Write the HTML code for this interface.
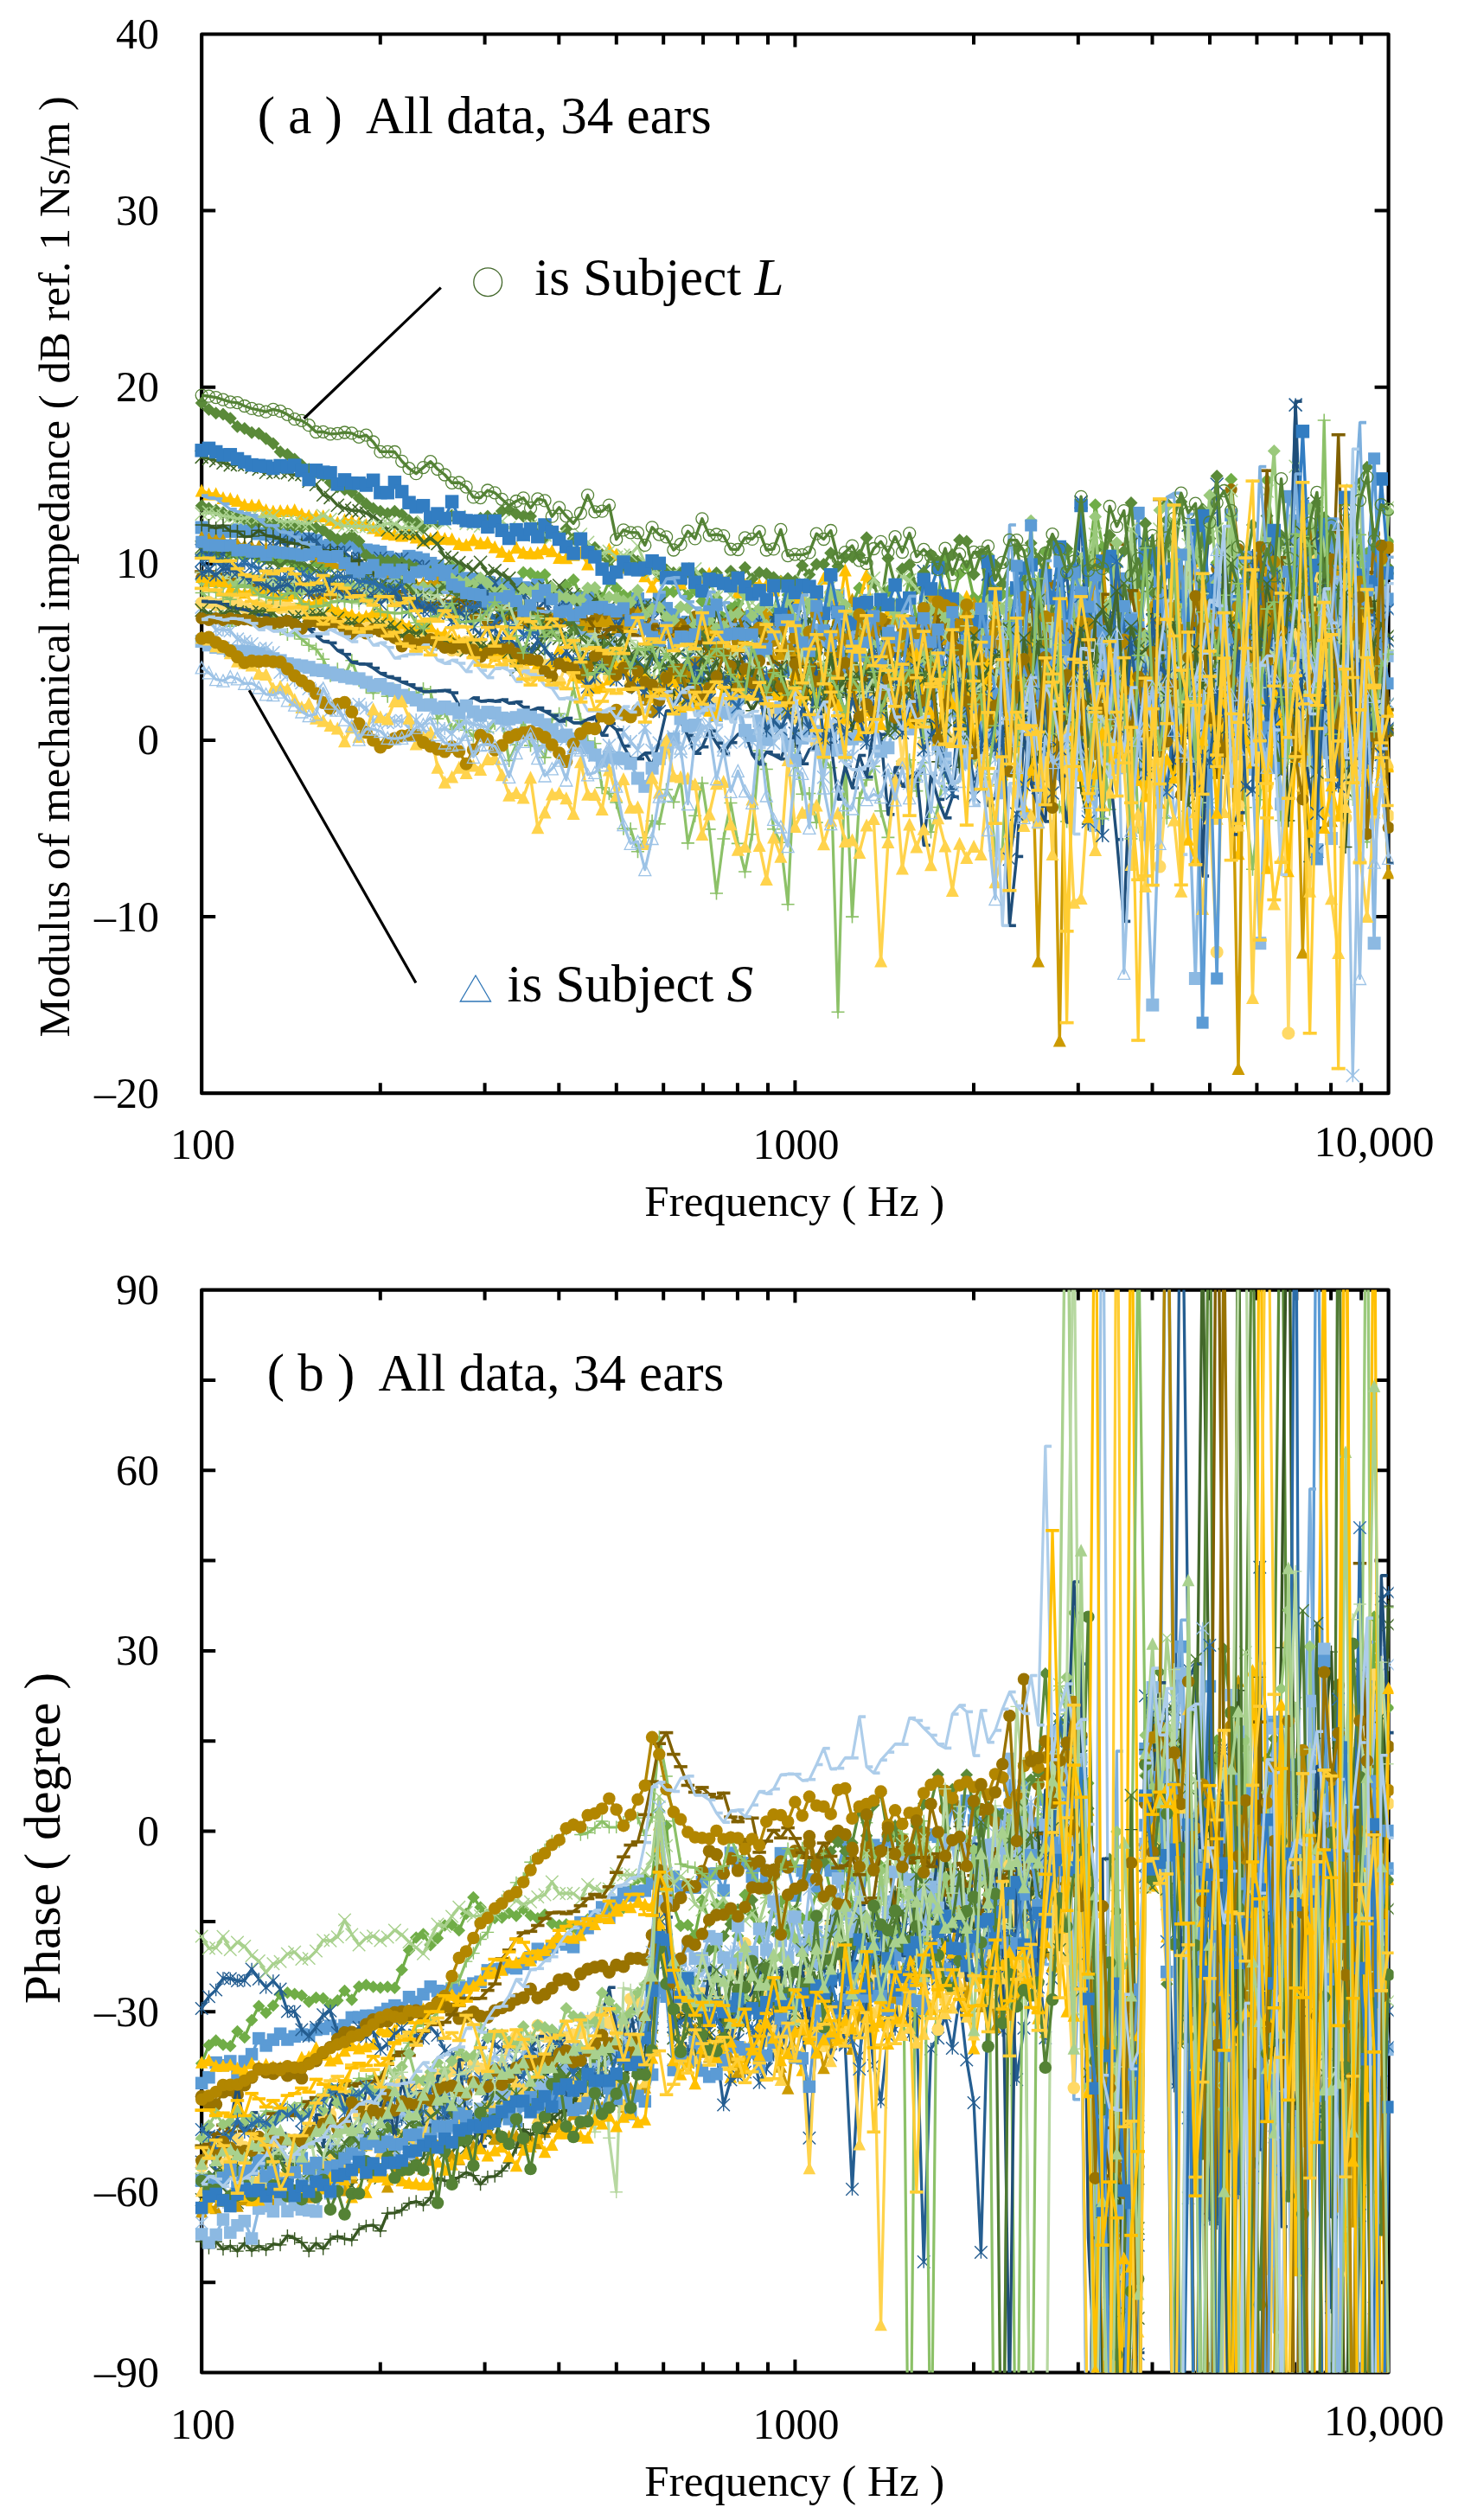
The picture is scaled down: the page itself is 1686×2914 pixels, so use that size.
<!DOCTYPE html>
<html><head><meta charset="utf-8"><title>Mechanical impedance and phase</title>
<style>
html,body{margin:0;padding:0;background:#fff}
svg{display:block}
text{font-family:"Liberation Serif","Times New Roman",serif;fill:#000}
</style></head><body>
<svg width="1686" height="2914" viewBox="0 0 1686 2914">
<defs>
<clipPath id="clipA"><rect x="224.2" y="0" width="1387.3999999999999" height="1304.2"/></clipPath>
<clipPath id="clipB"><rect x="224.2" y="1491.6" width="1387.3999999999999" height="1251.9"/></clipPath>
<marker id="a0" viewBox="-9.5 -9.5 19 19" markerWidth="19" markerHeight="19" refX="0" refY="0" markerUnits="userSpaceOnUse" orient="0"><path d="M0 -7.5L7.5 0L0 7.5L-7.5 0Z" fill="#70AD47"/></marker>
<marker id="a1" viewBox="-9.5 -9.5 19 19" markerWidth="19" markerHeight="19" refX="0" refY="0" markerUnits="userSpaceOnUse" orient="0"><rect x="-7.5" y="-7.5" width="15" height="15" fill="#5B9BD5"/></marker>
<marker id="a2" viewBox="-9.5 -9.5 19 19" markerWidth="19" markerHeight="19" refX="0" refY="0" markerUnits="userSpaceOnUse" orient="0"><path d="M0 -7.5L7.5 7.5L-7.5 7.5Z" fill="#FFC000"/></marker>
<marker id="a3" viewBox="-9.5 -9.5 19 19" markerWidth="19" markerHeight="19" refX="0" refY="0" markerUnits="userSpaceOnUse" orient="0"><path d="M-7.5 -7.5L7.5 7.5M-7.5 7.5L7.5 -7.5" stroke="#43682B" stroke-width="1.6" fill="none"/></marker>
<marker id="a4" viewBox="-9.5 -9.5 19 19" markerWidth="19" markerHeight="19" refX="0" refY="0" markerUnits="userSpaceOnUse" orient="0"><path d="M-7.5 -7.5L7.5 7.5M-7.5 7.5L7.5 -7.5M0 -7.5L0 7.5" stroke="#255E91" stroke-width="1.6" fill="none"/></marker>
<marker id="a5" viewBox="-9.0 -9.0 18 18" markerWidth="18" markerHeight="18" refX="0" refY="0" markerUnits="userSpaceOnUse" orient="0"><circle r="7.0" fill="#997300"/></marker>
<marker id="a6" viewBox="-9.5 -9.5 19 19" markerWidth="19" markerHeight="19" refX="0" refY="0" markerUnits="userSpaceOnUse" orient="0"><path d="M-7.5 0L7.5 0M0 -7.5L0 7.5" stroke="#8CC168" stroke-width="1.6" fill="none"/></marker>
<marker id="a7" viewBox="-9.5 -9.5 19 19" markerWidth="19" markerHeight="19" refX="0" refY="0" markerUnits="userSpaceOnUse" orient="0"><path d="M0 -7.5L7.5 0L0 7.5L-7.5 0Z" fill="#5A8A39"/></marker>
<marker id="a8" viewBox="-9.5 -9.5 19 19" markerWidth="19" markerHeight="19" refX="0" refY="0" markerUnits="userSpaceOnUse" orient="0"><path d="M0 -7.5L7.5 0L0 7.5L-7.5 0Z" fill="#5A8A39"/></marker>
<marker id="a9" viewBox="-9.5 -9.5 19 19" markerWidth="19" markerHeight="19" refX="0" refY="0" markerUnits="userSpaceOnUse" orient="0"><path d="M0 -7.5L7.5 7.5L-7.5 7.5Z" fill="#CC9A00"/></marker>
<marker id="a10" viewBox="-9.5 -9.5 19 19" markerWidth="19" markerHeight="19" refX="0" refY="0" markerUnits="userSpaceOnUse" orient="0"><path d="M-7.5 -7.5L7.5 7.5M-7.5 7.5L7.5 -7.5" stroke="#A9D18E" stroke-width="1.6" fill="none"/></marker>
<marker id="a11" viewBox="-9.5 -9.5 19 19" markerWidth="19" markerHeight="19" refX="0" refY="0" markerUnits="userSpaceOnUse" orient="0"><path d="M-7.5 -7.5L7.5 7.5M-7.5 7.5L7.5 -7.5M0 -7.5L0 7.5" stroke="#9DC3E6" stroke-width="1.6" fill="none"/></marker>
<marker id="a12" viewBox="-9.5 -9.5 19 19" markerWidth="19" markerHeight="19" refX="0" refY="0" markerUnits="userSpaceOnUse" orient="0"><circle r="7.5" fill="#FFD966"/></marker>
<marker id="a13" viewBox="-9.5 -9.5 19 19" markerWidth="19" markerHeight="19" refX="0" refY="0" markerUnits="userSpaceOnUse" orient="0"><path d="M-7.5 0L7.5 0M0 -7.5L0 7.5" stroke="#385723" stroke-width="1.6" fill="none"/></marker>
<marker id="a14" viewBox="-9.5 -9.5 19 19" markerWidth="19" markerHeight="19" refX="0" refY="0" markerUnits="userSpaceOnUse" orient="0"><path d="M0 0L7.5 0" stroke="#1F4E79" stroke-width="3.6" fill="none"/></marker>
<marker id="a15" viewBox="-9.5 -9.5 19 19" markerWidth="19" markerHeight="19" refX="0" refY="0" markerUnits="userSpaceOnUse" orient="0"><path d="M-8.0 0L8.0 0" stroke="#806000" stroke-width="3.6" fill="none"/></marker>
<marker id="a16" viewBox="-9.5 -9.5 19 19" markerWidth="19" markerHeight="19" refX="0" refY="0" markerUnits="userSpaceOnUse" orient="0"><path d="M0 -7.5L7.5 0L0 7.5L-7.5 0Z" fill="#9AC97B"/></marker>
<marker id="a17" viewBox="-9.75 -9.75 19.5 19.5" markerWidth="19.5" markerHeight="19.5" refX="0" refY="0" markerUnits="userSpaceOnUse" orient="0"><rect x="-7.75" y="-7.75" width="15.5" height="15.5" fill="#327DC2"/></marker>
<marker id="a18" viewBox="-9.5 -9.5 19 19" markerWidth="19" markerHeight="19" refX="0" refY="0" markerUnits="userSpaceOnUse" orient="0"><path d="M0 0L7.5 0" stroke="#7CAFDD" stroke-width="3.6" fill="none"/></marker>
<marker id="a19" viewBox="-9.5 -9.5 19 19" markerWidth="19" markerHeight="19" refX="0" refY="0" markerUnits="userSpaceOnUse" orient="0"><rect x="-7.5" y="-7.5" width="15" height="15" fill="#8CB9E2"/></marker>
<marker id="a20" viewBox="-9.5 -9.5 19 19" markerWidth="19" markerHeight="19" refX="0" refY="0" markerUnits="userSpaceOnUse" orient="0"><path d="M0 -7.5L7.5 7.5L-7.5 7.5Z" fill="#FFD34C"/></marker>
<marker id="a21" viewBox="-9.5 -9.5 19 19" markerWidth="19" markerHeight="19" refX="0" refY="0" markerUnits="userSpaceOnUse" orient="0"><path d="M-7.5 -7.5L7.5 7.5M-7.5 7.5L7.5 -7.5" stroke="#4E7932" stroke-width="1.6" fill="none"/></marker>
<marker id="a22" viewBox="-9.5 -9.5 19 19" markerWidth="19" markerHeight="19" refX="0" refY="0" markerUnits="userSpaceOnUse" orient="0"><path d="M-7.5 -7.5L7.5 7.5M-7.5 7.5L7.5 -7.5M0 -7.5L0 7.5" stroke="#2B6DA9" stroke-width="1.6" fill="none"/></marker>
<marker id="a23" viewBox="-9.5 -9.5 19 19" markerWidth="19" markerHeight="19" refX="0" refY="0" markerUnits="userSpaceOnUse" orient="0"><circle r="7.5" fill="#B28600"/></marker>
<marker id="a24" viewBox="-9.5 -9.5 19 19" markerWidth="19" markerHeight="19" refX="0" refY="0" markerUnits="userSpaceOnUse" orient="0"><path d="M-7.5 0L7.5 0M0 -7.5L0 7.5" stroke="#B7D8A1" stroke-width="1.6" fill="none"/></marker>
<marker id="a25" viewBox="-9.0 -9.0 18 18" markerWidth="18" markerHeight="18" refX="0" refY="0" markerUnits="userSpaceOnUse" orient="0"><rect x="-7.0" y="-7.0" width="14" height="14" fill="#5B9BD5"/></marker>
<marker id="a26" viewBox="-9.0 -9.0 18 18" markerWidth="18" markerHeight="18" refX="0" refY="0" markerUnits="userSpaceOnUse" orient="0"><path d="M0 -7.0L7.0 7.0L-7.0 7.0Z" fill="#FFC000"/></marker>
<marker id="a27" viewBox="-9.5 -9.5 19 19" markerWidth="19" markerHeight="19" refX="0" refY="0" markerUnits="userSpaceOnUse" orient="0"><path d="M-7.5 -7.5L7.5 7.5M-7.5 7.5L7.5 -7.5" stroke="#43682B" stroke-width="1.6" fill="none"/></marker>
<marker id="a28" viewBox="-9.5 -9.5 19 19" markerWidth="19" markerHeight="19" refX="0" refY="0" markerUnits="userSpaceOnUse" orient="0"><path d="M-7.5 -7.5L7.5 7.5M-7.5 7.5L7.5 -7.5M0 -7.5L0 7.5" stroke="#255E91" stroke-width="1.6" fill="none"/></marker>
<marker id="a29" viewBox="-9.0 -9.0 18 18" markerWidth="18" markerHeight="18" refX="0" refY="0" markerUnits="userSpaceOnUse" orient="0"><circle r="7.0" fill="#997300"/></marker>
<marker id="a30" viewBox="-9.0 -9.0 18 18" markerWidth="18" markerHeight="18" refX="0" refY="0" markerUnits="userSpaceOnUse" orient="0"><circle r="7.0" fill="none" stroke="#548235" stroke-width="1.3"/></marker>
<marker id="a31" viewBox="-9.5 -9.5 19 19" markerWidth="19" markerHeight="19" refX="0" refY="0" markerUnits="userSpaceOnUse" orient="0"><path d="M-7.5 0L7.5 0M0 -7.5L0 7.5" stroke="#8CC168" stroke-width="1.6" fill="none"/></marker>
<marker id="a32" viewBox="-9.5 -9.5 19 19" markerWidth="19" markerHeight="19" refX="0" refY="0" markerUnits="userSpaceOnUse" orient="0"><path d="M0 0L7.5 0" stroke="#ADCDEA" stroke-width="3.6" fill="none"/></marker>
<marker id="a33" viewBox="-9.0 -9.0 18 18" markerWidth="18" markerHeight="18" refX="0" refY="0" markerUnits="userSpaceOnUse" orient="0"><path d="M0 -7.0L7.0 7.0L-7.0 7.0Z" fill="#fff" fill-opacity="0" stroke="#9DC3E6" stroke-width="1.3"/></marker>
<marker id="a34" viewBox="-9.5 -9.5 19 19" markerWidth="19" markerHeight="19" refX="0" refY="0" markerUnits="userSpaceOnUse" orient="0"><path d="M-8.0 0L8.0 0" stroke="#FFCD33" stroke-width="3.6" fill="none"/></marker>
<marker id="a35" viewBox="-9.5 -9.5 19 19" markerWidth="19" markerHeight="19" refX="0" refY="0" markerUnits="userSpaceOnUse" orient="0"><path d="M-8.0 0L8.0 0" stroke="#FFCD33" stroke-width="3.6" fill="none"/></marker>
<marker id="b0" viewBox="-9.25 -9.25 18.5 18.5" markerWidth="18.5" markerHeight="18.5" refX="0" refY="0" markerUnits="userSpaceOnUse" orient="0"><path d="M-7.25 -7.25L7.25 7.25M-7.25 7.25L7.25 -7.25M0 -7.25L0 7.25" stroke="#255E91" stroke-width="1.4" fill="none"/></marker>
<marker id="b1" viewBox="-9.25 -9.25 18.5 18.5" markerWidth="18.5" markerHeight="18.5" refX="0" refY="0" markerUnits="userSpaceOnUse" orient="0"><path d="M0 -7.25L7.25 0L0 7.25L-7.25 0Z" fill="#70AD47"/></marker>
<marker id="b2" viewBox="-9.25 -9.25 18.5 18.5" markerWidth="18.5" markerHeight="18.5" refX="0" refY="0" markerUnits="userSpaceOnUse" orient="0"><rect x="-7.25" y="-7.25" width="14.5" height="14.5" fill="#5B9BD5"/></marker>
<marker id="b3" viewBox="-9.25 -9.25 18.5 18.5" markerWidth="18.5" markerHeight="18.5" refX="0" refY="0" markerUnits="userSpaceOnUse" orient="0"><path d="M0 -7.25L7.25 7.25L-7.25 7.25Z" fill="#FFC000"/></marker>
<marker id="b4" viewBox="-9.25 -9.25 18.5 18.5" markerWidth="18.5" markerHeight="18.5" refX="0" refY="0" markerUnits="userSpaceOnUse" orient="0"><path d="M-7.25 -7.25L7.25 7.25M-7.25 7.25L7.25 -7.25" stroke="#43682B" stroke-width="1.4" fill="none"/></marker>
<marker id="b5" viewBox="-9.25 -9.25 18.5 18.5" markerWidth="18.5" markerHeight="18.5" refX="0" refY="0" markerUnits="userSpaceOnUse" orient="0"><path d="M-7.25 -7.25L7.25 7.25M-7.25 7.25L7.25 -7.25M0 -7.25L0 7.25" stroke="#255E91" stroke-width="1.4" fill="none"/></marker>
<marker id="b6" viewBox="-9.5 -9.5 19 19" markerWidth="19" markerHeight="19" refX="0" refY="0" markerUnits="userSpaceOnUse" orient="0"><circle r="7.5" fill="#997300"/></marker>
<marker id="b7" viewBox="-9.25 -9.25 18.5 18.5" markerWidth="18.5" markerHeight="18.5" refX="0" refY="0" markerUnits="userSpaceOnUse" orient="0"><path d="M-7.25 0L7.25 0M0 -7.25L0 7.25" stroke="#8CC168" stroke-width="1.4" fill="none"/></marker>
<marker id="b8" viewBox="-9.25 -9.25 18.5 18.5" markerWidth="18.5" markerHeight="18.5" refX="0" refY="0" markerUnits="userSpaceOnUse" orient="0"><path d="M0 0L7.25 0" stroke="#7CAFDD" stroke-width="3.6" fill="none"/></marker>
<marker id="b9" viewBox="-9.25 -9.25 18.5 18.5" markerWidth="18.5" markerHeight="18.5" refX="0" refY="0" markerUnits="userSpaceOnUse" orient="0"><path d="M0 -7.25L7.25 0L0 7.25L-7.25 0Z" fill="#5A8A39"/></marker>
<marker id="b10" viewBox="-9.25 -9.25 18.5 18.5" markerWidth="18.5" markerHeight="18.5" refX="0" refY="0" markerUnits="userSpaceOnUse" orient="0"><path d="M0 -7.25L7.25 7.25L-7.25 7.25Z" fill="#CC9A00"/></marker>
<marker id="b11" viewBox="-9.25 -9.25 18.5 18.5" markerWidth="18.5" markerHeight="18.5" refX="0" refY="0" markerUnits="userSpaceOnUse" orient="0"><path d="M-7.25 -7.25L7.25 7.25M-7.25 7.25L7.25 -7.25" stroke="#A9D18E" stroke-width="1.4" fill="none"/></marker>
<marker id="b12" viewBox="-9.25 -9.25 18.5 18.5" markerWidth="18.5" markerHeight="18.5" refX="0" refY="0" markerUnits="userSpaceOnUse" orient="0"><path d="M-7.25 -7.25L7.25 7.25M-7.25 7.25L7.25 -7.25M0 -7.25L0 7.25" stroke="#9DC3E6" stroke-width="1.4" fill="none"/></marker>
<marker id="b13" viewBox="-9.25 -9.25 18.5 18.5" markerWidth="18.5" markerHeight="18.5" refX="0" refY="0" markerUnits="userSpaceOnUse" orient="0"><circle r="7.25" fill="#FFD966"/></marker>
<marker id="b14" viewBox="-9.25 -9.25 18.5 18.5" markerWidth="18.5" markerHeight="18.5" refX="0" refY="0" markerUnits="userSpaceOnUse" orient="0"><path d="M-7.25 0L7.25 0M0 -7.25L0 7.25" stroke="#385723" stroke-width="1.4" fill="none"/></marker>
<marker id="b15" viewBox="-9.25 -9.25 18.5 18.5" markerWidth="18.5" markerHeight="18.5" refX="0" refY="0" markerUnits="userSpaceOnUse" orient="0"><path d="M0 0L7.25 0" stroke="#1F4E79" stroke-width="3.6" fill="none"/></marker>
<marker id="b16" viewBox="-9.25 -9.25 18.5 18.5" markerWidth="18.5" markerHeight="18.5" refX="0" refY="0" markerUnits="userSpaceOnUse" orient="0"><path d="M-7.75 0L7.75 0" stroke="#806000" stroke-width="3.6" fill="none"/></marker>
<marker id="b17" viewBox="-9.25 -9.25 18.5 18.5" markerWidth="18.5" markerHeight="18.5" refX="0" refY="0" markerUnits="userSpaceOnUse" orient="0"><path d="M0 -7.25L7.25 0L0 7.25L-7.25 0Z" fill="#9AC97B"/></marker>
<marker id="b18" viewBox="-9.25 -9.25 18.5 18.5" markerWidth="18.5" markerHeight="18.5" refX="0" refY="0" markerUnits="userSpaceOnUse" orient="0"><rect x="-7.25" y="-7.25" width="14.5" height="14.5" fill="#8CB9E2"/></marker>
<marker id="b19" viewBox="-9.25 -9.25 18.5 18.5" markerWidth="18.5" markerHeight="18.5" refX="0" refY="0" markerUnits="userSpaceOnUse" orient="0"><path d="M0 -7.25L7.25 7.25L-7.25 7.25Z" fill="#FFD34C"/></marker>
<marker id="b20" viewBox="-9.25 -9.25 18.5 18.5" markerWidth="18.5" markerHeight="18.5" refX="0" refY="0" markerUnits="userSpaceOnUse" orient="0"><path d="M-7.25 -7.25L7.25 7.25M-7.25 7.25L7.25 -7.25" stroke="#4E7932" stroke-width="1.4" fill="none"/></marker>
<marker id="b21" viewBox="-9.25 -9.25 18.5 18.5" markerWidth="18.5" markerHeight="18.5" refX="0" refY="0" markerUnits="userSpaceOnUse" orient="0"><path d="M-7.25 -7.25L7.25 7.25M-7.25 7.25L7.25 -7.25M0 -7.25L0 7.25" stroke="#2B6DA9" stroke-width="1.4" fill="none"/></marker>
<marker id="b22" viewBox="-9.25 -9.25 18.5 18.5" markerWidth="18.5" markerHeight="18.5" refX="0" refY="0" markerUnits="userSpaceOnUse" orient="0"><circle r="7.25" fill="#B28600"/></marker>
<marker id="b23" viewBox="-9.25 -9.25 18.5 18.5" markerWidth="18.5" markerHeight="18.5" refX="0" refY="0" markerUnits="userSpaceOnUse" orient="0"><path d="M-7.25 0L7.25 0M0 -7.25L0 7.25" stroke="#B7D8A1" stroke-width="1.4" fill="none"/></marker>
<marker id="b24" viewBox="-9.25 -9.25 18.5 18.5" markerWidth="18.5" markerHeight="18.5" refX="0" refY="0" markerUnits="userSpaceOnUse" orient="0"><rect x="-7.25" y="-7.25" width="14.5" height="14.5" fill="#5B9BD5"/></marker>
<marker id="b25" viewBox="-9.25 -9.25 18.5 18.5" markerWidth="18.5" markerHeight="18.5" refX="0" refY="0" markerUnits="userSpaceOnUse" orient="0"><path d="M0 -7.25L7.25 7.25L-7.25 7.25Z" fill="#FFC000"/></marker>
<marker id="b26" viewBox="-9.25 -9.25 18.5 18.5" markerWidth="18.5" markerHeight="18.5" refX="0" refY="0" markerUnits="userSpaceOnUse" orient="0"><circle r="7.25" fill="#548235"/></marker>
<marker id="b27" viewBox="-9.25 -9.25 18.5 18.5" markerWidth="18.5" markerHeight="18.5" refX="0" refY="0" markerUnits="userSpaceOnUse" orient="0"><circle r="7.25" fill="#997300"/></marker>
<marker id="b28" viewBox="-9.25 -9.25 18.5 18.5" markerWidth="18.5" markerHeight="18.5" refX="0" refY="0" markerUnits="userSpaceOnUse" orient="0"><rect x="-7.25" y="-7.25" width="14.5" height="14.5" fill="#327DC2"/></marker>
<marker id="b29" viewBox="-9.25 -9.25 18.5 18.5" markerWidth="18.5" markerHeight="18.5" refX="0" refY="0" markerUnits="userSpaceOnUse" orient="0"><path d="M0 -7.25L7.25 7.25L-7.25 7.25Z" fill="#A9D18E"/></marker>
<marker id="b30" viewBox="-9.25 -9.25 18.5 18.5" markerWidth="18.5" markerHeight="18.5" refX="0" refY="0" markerUnits="userSpaceOnUse" orient="0"><path d="M0 0L7.25 0" stroke="#ADCDEA" stroke-width="3.6" fill="none"/></marker>
<marker id="b31" viewBox="-9.25 -9.25 18.5 18.5" markerWidth="18.5" markerHeight="18.5" refX="0" refY="0" markerUnits="userSpaceOnUse" orient="0"><path d="M-7.75 0L7.75 0" stroke="#FFCD33" stroke-width="3.6" fill="none"/></marker>
<marker id="b32" viewBox="-9.25 -9.25 18.5 18.5" markerWidth="18.5" markerHeight="18.5" refX="0" refY="0" markerUnits="userSpaceOnUse" orient="0"><path d="M-7.75 0L7.75 0" stroke="#FFC000" stroke-width="3.6" fill="none"/></marker>
</defs>
<rect width="1686" height="2914" fill="#fff"/>
<rect x="233.2" y="39.5" width="1372.3999999999999" height="1224.7" fill="none" stroke="#000" stroke-width="4.2" stroke-linejoin="round"/>
<path d="M439.8 1264.2v-12M439.8 39.5v12M560.6 1264.2v-12M560.6 39.5v12M646.3 1264.2v-12M646.3 39.5v12M712.8 1264.2v-12M712.8 39.5v12M767.2 1264.2v-12M767.2 39.5v12M813.1 1264.2v-12M813.1 39.5v12M852.9 1264.2v-12M852.9 39.5v12M888.0 1264.2v-12M888.0 39.5v12M919.4 1264.2v-15M919.4 39.5v15M1126.0 1264.2v-12M1126.0 39.5v12M1246.8 1264.2v-12M1246.8 39.5v12M1332.5 1264.2v-12M1332.5 39.5v12M1399.0 1264.2v-12M1399.0 39.5v12M1453.4 1264.2v-12M1453.4 39.5v12M1499.3 1264.2v-12M1499.3 39.5v12M1539.1 1264.2v-12M1539.1 39.5v12M1574.2 1264.2v-12M1574.2 39.5v12M233.2 243.6h16M1605.6 243.6h-16M233.2 447.7h16M1605.6 447.7h-16M233.2 651.9h16M1605.6 651.9h-16M233.2 856.0h16M1605.6 856.0h-16M233.2 1060.1h16M1605.6 1060.1h-16" stroke="#000" stroke-width="4" fill="none"/>
<rect x="233.2" y="1491.6" width="1372.3999999999999" height="1251.9" fill="none" stroke="#000" stroke-width="4.2" stroke-linejoin="round"/>
<path d="M439.8 2743.5v-12M439.8 1491.6v12M560.6 2743.5v-12M560.6 1491.6v12M646.3 2743.5v-12M646.3 1491.6v12M712.8 2743.5v-12M712.8 1491.6v12M767.2 2743.5v-12M767.2 1491.6v12M813.1 2743.5v-12M813.1 1491.6v12M852.9 2743.5v-12M852.9 1491.6v12M888.0 2743.5v-12M888.0 1491.6v12M919.4 2743.5v-15M919.4 1491.6v15M1126.0 2743.5v-12M1126.0 1491.6v12M1246.8 2743.5v-12M1246.8 1491.6v12M1332.5 2743.5v-12M1332.5 1491.6v12M1399.0 2743.5v-12M1399.0 1491.6v12M1453.4 2743.5v-12M1453.4 1491.6v12M1499.3 2743.5v-12M1499.3 1491.6v12M1539.1 2743.5v-12M1539.1 1491.6v12M1574.2 2743.5v-12M1574.2 1491.6v12M233.2 2639.2h16M1605.6 2639.2h-16M233.2 2534.8h16M1605.6 2534.8h-16M233.2 2430.5h16M1605.6 2430.5h-16M233.2 2326.2h16M1605.6 2326.2h-16M233.2 2221.9h16M1605.6 2221.9h-16M233.2 2117.6h16M1605.6 2117.6h-16M233.2 2013.2h16M1605.6 2013.2h-16M233.2 1908.9h16M1605.6 1908.9h-16M233.2 1804.6h16M1605.6 1804.6h-16M233.2 1700.2h16M1605.6 1700.2h-16M233.2 1595.9h16M1605.6 1595.9h-16" stroke="#000" stroke-width="4" fill="none"/>
<g clip-path="url(#clipA)">
<polyline points="233.2,642.3 241.5,641.1 249.7,644.2 258.0,650.8 266.3,641.1 274.5,640.7 282.8,644.5 291.1,639.3 299.3,646.1 307.6,645.4 315.9,644.8 324.1,650.4 332.4,648.0 340.7,652.3 348.9,655.8 357.2,658.6 365.5,650.1 373.7,654.2 382.0,654.9 390.3,652.5 398.5,645.4 406.8,658.1 415.1,658.7 423.4,659.4 431.6,651.6 439.9,658.5 448.2,658.7 456.4,658.9 464.7,661.3 473.0,651.4 481.2,651.6 489.5,651.0 497.8,651.2 506.0,666.0 514.3,658.2 522.6,655.0 530.8,659.0 539.1,677.3 547.4,685.8 555.6,690.3 563.9,682.2 572.2,680.0 580.4,675.1 588.7,672.7 597.0,683.8 605.2,662.1 613.5,663.0 621.8,666.7 630.0,664.5 638.3,693.1 646.6,686.5 654.8,677.3 663.1,670.6 671.4,688.7 679.6,685.7 687.9,684.1 696.2,691.4 704.4,672.1 712.7,680.2 721.0,688.2 729.2,689.9 737.5,699.4 745.8,703.2 754.1,703.3 762.3,698.9 770.6,684.4 778.9,684.3 787.1,676.1 795.4,688.9 803.7,682.1 811.9,695.2 820.2,698.1 828.5,691.5 836.7,714.4 845.0,703.2 853.3,698.1 861.5,713.3 869.8,710.1 878.1,723.4 886.3,700.5 894.6,708.1 902.9,672.0 911.1,687.9 919.4,736.7 927.7,687.6 935.9,702.2 944.2,688.4 952.5,709.2 960.7,736.8 969.0,692.5 977.3,739.4 985.5,698.6 993.8,679.9 1002.1,709.2 1010.3,708.1 1018.6,693.9 1026.9,683.4 1035.1,700.3 1043.4,706.7 1051.7,669.1 1059.9,715.8 1068.2,704.5 1076.5,688.5 1084.7,689.1 1093.0,644.7 1101.3,693.9 1109.6,663.6 1117.8,654.3 1126.1,691.5 1134.4,693.7 1142.6,642.1 1150.9,705.5 1159.2,686.9 1167.4,685.5 1175.7,685.4 1184.0,699.8 1192.2,636.1 1200.5,724.2 1208.8,638.5 1217.0,717.2 1225.3,678.1 1233.6,638.0 1241.8,679.0 1250.1,687.9 1258.4,655.4 1266.6,583.7 1274.9,632.9 1283.2,656.5 1291.4,685.4 1299.7,744.0 1308.0,688.4 1316.2,715.6 1324.5,660.6 1332.8,656.5 1341.0,653.9 1349.3,611.8 1357.6,605.8 1365.8,690.1 1374.1,717.6 1382.4,615.1 1390.6,678.5 1398.9,758.9 1407.2,650.5 1415.4,668.4 1423.7,554.3 1432.0,649.1 1440.3,678.3 1448.5,671.4 1456.8,685.4 1465.1,555.3 1473.3,631.6 1481.6,726.6 1489.9,634.8 1498.1,603.1 1506.4,661.9 1514.7,649.3 1522.9,702.8 1531.2,700.8 1539.5,739.6 1547.7,643.3 1556.0,687.8 1564.3,705.5 1572.5,635.5 1580.8,639.8 1589.1,834.3 1597.3,653.6 1605.6,626.3" fill="none" stroke="#70AD47" stroke-width="3.4" stroke-linejoin="round" marker-start="url(#a0)" marker-mid="url(#a0)" marker-end="url(#a0)"/>
<polyline points="233.2,610.0 241.5,614.6 249.7,615.4 258.0,614.5 266.3,614.5 274.5,612.8 282.8,613.8 291.1,614.5 299.3,617.0 307.6,617.8 315.9,617.3 324.1,619.1 332.4,618.6 340.7,621.2 348.9,624.6 357.2,623.2 365.5,624.8 373.7,632.0 382.0,630.5 390.3,626.9 398.5,630.1 406.8,628.2 415.1,635.8 423.4,636.0 431.6,637.1 439.9,638.5 448.2,644.3 456.4,646.8 464.7,647.6 473.0,643.3 481.2,645.0 489.5,647.1 497.8,651.4 506.0,654.5 514.3,660.5 522.6,660.1 530.8,670.6 539.1,668.8 547.4,669.6 555.6,674.4 563.9,673.3 572.2,677.3 580.4,680.6 588.7,675.8 597.0,675.2 605.2,679.7 613.5,680.2 621.8,676.5 630.0,689.2 638.3,685.2 646.6,688.2 654.8,696.4 663.1,692.0 671.4,694.0 679.6,691.7 687.9,701.3 696.2,706.2 704.4,711.4 712.7,716.8 721.0,704.2 729.2,712.0 737.5,692.5 745.8,699.5 754.1,703.8 762.3,692.1 770.6,703.6 778.9,710.8 787.1,721.0 795.4,719.4 803.7,727.4 811.9,712.4 820.2,727.6 828.5,744.3 836.7,726.5 845.0,720.4 853.3,726.5 861.5,718.7 869.8,712.6 878.1,718.2 886.3,696.3 894.6,719.4 902.9,711.2 911.1,702.3 919.4,700.8 927.7,722.5 935.9,747.4 944.2,705.8 952.5,739.9 960.7,698.0 969.0,688.8 977.3,741.0 985.5,734.4 993.8,703.5 1002.1,694.3 1010.3,713.2 1018.6,727.3 1026.9,731.4 1035.1,753.6 1043.4,737.9 1051.7,751.8 1059.9,734.6 1068.2,765.3 1076.5,681.2 1084.7,712.7 1093.0,721.6 1101.3,779.6 1109.6,745.2 1117.8,703.9 1126.1,774.4 1134.4,780.6 1142.6,750.3 1150.9,683.0 1159.2,752.3 1167.4,733.6 1175.7,765.7 1184.0,737.7 1192.2,695.6 1200.5,698.9 1208.8,758.4 1217.0,691.6 1225.3,699.5 1233.6,808.7 1241.8,722.4 1250.1,762.8 1258.4,692.9 1266.6,699.3 1274.9,735.2 1283.2,766.0 1291.4,808.7 1299.7,669.3 1308.0,683.0 1316.2,593.4 1324.5,783.4 1332.8,683.4 1341.0,698.7 1349.3,760.5 1357.6,771.1 1365.8,785.5 1374.1,698.9 1382.4,724.7 1390.6,708.5 1398.9,671.5 1407.2,729.0 1415.4,763.4 1423.7,595.4 1432.0,676.7 1440.3,679.2 1448.5,645.2 1456.8,719.3 1465.1,675.8 1473.3,745.2 1481.6,699.5 1489.9,574.3 1498.1,602.3 1506.4,585.5 1514.7,813.0 1522.9,637.1 1531.2,659.5 1539.5,695.5 1547.7,669.7 1556.0,684.4 1564.3,619.9 1572.5,691.9 1580.8,648.6 1589.1,642.3 1597.3,769.0 1605.6,692.9" fill="none" stroke="#5B9BD5" stroke-width="3.4" stroke-linejoin="round" marker-start="url(#a1)" marker-mid="url(#a1)" marker-end="url(#a1)"/>
<polyline points="233.2,566.9 241.5,571.1 249.7,570.8 258.0,575.6 266.3,576.6 274.5,578.6 282.8,583.4 291.1,584.0 299.3,583.9 307.6,589.4 315.9,591.1 324.1,590.6 332.4,590.5 340.7,589.6 348.9,594.2 357.2,595.9 365.5,596.4 373.7,596.5 382.0,600.5 390.3,604.1 398.5,600.9 406.8,602.2 415.1,604.2 423.4,606.5 431.6,610.1 439.9,613.1 448.2,616.7 456.4,617.8 464.7,619.1 473.0,617.4 481.2,621.0 489.5,624.3 497.8,622.8 506.0,620.1 514.3,622.5 522.6,623.1 530.8,628.5 539.1,629.7 547.4,624.0 555.6,627.7 563.9,627.1 572.2,632.2 580.4,637.6 588.7,642.6 597.0,632.7 605.2,638.5 613.5,639.3 621.8,639.0 630.0,634.6 638.3,636.8 646.6,644.5 654.8,644.8 663.1,641.2 671.4,638.8 679.6,652.0 687.9,640.8 696.2,641.0 704.4,634.8 712.7,640.9 721.0,656.1 729.2,648.7 737.5,651.7 745.8,665.7 754.1,678.0 762.3,665.3 770.6,660.7 778.9,662.4 787.1,674.1 795.4,659.1 803.7,670.0 811.9,667.5 820.2,663.0 828.5,666.0 836.7,672.4 845.0,674.6 853.3,684.5 861.5,675.8 869.8,673.1 878.1,675.8 886.3,676.3 894.6,682.0 902.9,672.6 911.1,690.0 919.4,690.5 927.7,689.2 935.9,675.7 944.2,687.0 952.5,668.5 960.7,678.3 969.0,713.3 977.3,659.0 985.5,711.5 993.8,695.3 1002.1,664.2 1010.3,716.6 1018.6,692.7 1026.9,707.7 1035.1,702.6 1043.4,733.3 1051.7,751.7 1059.9,744.6 1068.2,726.6 1076.5,731.6 1084.7,736.3 1093.0,686.1 1101.3,721.8 1109.6,772.4 1117.8,689.6 1126.1,776.3 1134.4,698.7 1142.6,690.0 1150.9,713.7 1159.2,743.8 1167.4,711.5 1175.7,731.2 1184.0,709.7 1192.2,733.0 1200.5,809.8 1208.8,651.5 1217.0,813.4 1225.3,735.6 1233.6,696.9 1241.8,703.4 1250.1,780.3 1258.4,774.6 1266.6,644.0 1274.9,788.6 1283.2,799.0 1291.4,788.4 1299.7,762.9 1308.0,755.3 1316.2,710.7 1324.5,797.6 1332.8,715.6 1341.0,783.4 1349.3,859.2 1357.6,759.5 1365.8,712.7 1374.1,736.3 1382.4,648.5 1390.6,807.6 1398.9,751.5 1407.2,872.5 1415.4,755.3 1423.7,663.4 1432.0,986.8 1440.3,837.1 1448.5,744.8 1456.8,862.7 1465.1,722.0 1473.3,729.1 1481.6,789.1 1489.9,654.2 1498.1,612.8 1506.4,673.7 1514.7,844.0 1522.9,835.4 1531.2,797.6 1539.5,781.9 1547.7,734.4 1556.0,765.8 1564.3,673.0 1572.5,828.7 1580.8,898.2 1589.1,707.9 1597.3,733.3 1605.6,885.8" fill="none" stroke="#FFC000" stroke-width="3.4" stroke-linejoin="round" marker-start="url(#a2)" marker-mid="url(#a2)" marker-end="url(#a2)"/>
<polyline points="233.2,528.4 241.5,530.3 249.7,532.6 258.0,535.2 266.3,537.6 274.5,537.1 282.8,537.5 291.1,540.1 299.3,542.4 307.6,546.2 315.9,546.8 324.1,545.3 332.4,546.6 340.7,549.0 348.9,548.6 357.2,556.5 365.5,560.2 373.7,572.3 382.0,575.4 390.3,584.3 398.5,587.7 406.8,590.1 415.1,590.6 423.4,593.2 431.6,597.4 439.9,603.4 448.2,612.7 456.4,608.0 464.7,616.4 473.0,616.3 481.2,616.9 489.5,627.1 497.8,622.8 506.0,628.6 514.3,644.3 522.6,645.6 530.8,650.6 539.1,654.7 547.4,658.9 555.6,650.3 563.9,663.2 572.2,659.9 580.4,664.5 588.7,668.6 597.0,681.1 605.2,689.2 613.5,682.5 621.8,680.8 630.0,678.6 638.3,687.4 646.6,677.0 654.8,687.0 663.1,687.5 671.4,710.7 679.6,702.4 687.9,692.8 696.2,694.5 704.4,702.4 712.7,706.4 721.0,717.0 729.2,703.6 737.5,706.1 745.8,700.3 754.1,702.0 762.3,698.4 770.6,730.7 778.9,733.5 787.1,720.6 795.4,726.5 803.7,731.1 811.9,752.9 820.2,742.0 828.5,706.6 836.7,733.7 845.0,708.5 853.3,724.9 861.5,730.9 869.8,726.0 878.1,734.5 886.3,748.1 894.6,710.9 902.9,723.5 911.1,749.6 919.4,713.5 927.7,743.4 935.9,715.7 944.2,730.3 952.5,747.4 960.7,734.1 969.0,717.9 977.3,735.8 985.5,769.3 993.8,737.3 1002.1,769.2 1010.3,729.8 1018.6,719.8 1026.9,793.3 1035.1,767.2 1043.4,789.4 1051.7,757.7 1059.9,800.1 1068.2,774.3 1076.5,793.4 1084.7,700.2 1093.0,743.6 1101.3,734.4 1109.6,727.5 1117.8,773.3 1126.1,739.8 1134.4,802.0 1142.6,746.5 1150.9,746.2 1159.2,762.4 1167.4,767.1 1175.7,753.1 1184.0,728.5 1192.2,799.9 1200.5,741.7 1208.8,730.5 1217.0,823.4 1225.3,700.1 1233.6,758.9 1241.8,749.0 1250.1,764.2 1258.4,826.2 1266.6,767.2 1274.9,664.1 1283.2,770.7 1291.4,696.6 1299.7,764.0 1308.0,629.2 1316.2,773.3 1324.5,812.0 1332.8,858.6 1341.0,727.0 1349.3,810.2 1357.6,785.6 1365.8,732.5 1374.1,708.3 1382.4,780.1 1390.6,806.3 1398.9,840.2 1407.2,744.6 1415.4,697.7 1423.7,769.6 1432.0,814.5 1440.3,685.9 1448.5,772.7 1456.8,707.6 1465.1,675.3 1473.3,733.3 1481.6,671.2 1489.9,710.6 1498.1,850.6 1506.4,582.5 1514.7,776.2 1522.9,579.5 1531.2,769.1 1539.5,679.4 1547.7,645.4 1556.0,914.1 1564.3,669.5 1572.5,769.9 1580.8,757.5 1589.1,745.4 1597.3,757.6 1605.6,813.8" fill="none" stroke="#43682B" stroke-width="3.4" stroke-linejoin="round" marker-start="url(#a3)" marker-mid="url(#a3)" marker-end="url(#a3)"/>
<polyline points="233.2,636.6 241.5,641.1 249.7,639.0 258.0,640.9 266.3,630.1 274.5,634.7 282.8,633.3 291.1,639.6 299.3,638.8 307.6,633.1 315.9,631.8 324.1,625.9 332.4,631.2 340.7,619.5 348.9,627.1 357.2,622.2 365.5,625.5 373.7,636.7 382.0,639.5 390.3,638.6 398.5,638.9 406.8,645.8 415.1,645.9 423.4,655.3 431.6,653.8 439.9,645.5 448.2,648.7 456.4,655.3 464.7,646.2 473.0,654.1 481.2,654.7 489.5,655.4 497.8,673.1 506.0,674.0 514.3,672.3 522.6,671.6 530.8,675.4 539.1,677.9 547.4,685.0 555.6,676.7 563.9,689.1 572.2,674.2 580.4,687.7 588.7,688.9 597.0,694.1 605.2,685.4 613.5,714.4 621.8,703.6 630.0,695.4 638.3,712.8 646.6,701.1 654.8,700.3 663.1,712.8 671.4,719.4 679.6,726.2 687.9,723.3 696.2,743.4 704.4,723.7 712.7,722.1 721.0,719.9 729.2,709.6 737.5,701.6 745.8,720.6 754.1,717.2 762.3,726.9 770.6,723.5 778.9,730.4 787.1,738.7 795.4,747.6 803.7,750.5 811.9,739.0 820.2,749.3 828.5,757.3 836.7,734.2 845.0,765.7 853.3,768.9 861.5,759.7 869.8,760.9 878.1,718.9 886.3,734.6 894.6,716.0 902.9,720.6 911.1,702.4 919.4,754.1 927.7,717.8 935.9,757.1 944.2,747.9 952.5,717.7 960.7,734.5 969.0,762.2 977.3,758.2 985.5,767.8 993.8,726.5 1002.1,715.0 1010.3,765.6 1018.6,748.0 1026.9,723.2 1035.1,756.9 1043.4,787.9 1051.7,732.8 1059.9,735.1 1068.2,660.8 1076.5,759.3 1084.7,757.2 1093.0,751.4 1101.3,775.1 1109.6,781.3 1117.8,766.3 1126.1,735.4 1134.4,738.3 1142.6,663.9 1150.9,748.5 1159.2,808.0 1167.4,709.6 1175.7,796.3 1184.0,715.4 1192.2,751.7 1200.5,784.9 1208.8,721.0 1217.0,748.9 1225.3,678.2 1233.6,664.5 1241.8,750.3 1250.1,580.4 1258.4,808.9 1266.6,833.1 1274.9,837.0 1283.2,705.8 1291.4,791.1 1299.7,789.4 1308.0,844.9 1316.2,750.5 1324.5,627.1 1332.8,661.7 1341.0,778.3 1349.3,683.9 1357.6,704.0 1365.8,785.7 1374.1,607.1 1382.4,763.1 1390.6,706.6 1398.9,599.8 1407.2,560.0 1415.4,840.2 1423.7,782.2 1432.0,831.2 1440.3,644.8 1448.5,642.5 1456.8,763.3 1465.1,697.5 1473.3,705.9 1481.6,682.7 1489.9,725.1 1498.1,468.1 1506.4,683.3 1514.7,668.5 1522.9,619.8 1531.2,754.4 1539.5,736.5 1547.7,724.6 1556.0,584.8 1564.3,623.7 1572.5,714.0 1580.8,884.8 1589.1,680.9 1597.3,751.5 1605.6,741.6" fill="none" stroke="#255E91" stroke-width="3.4" stroke-linejoin="round" marker-start="url(#a4)" marker-mid="url(#a4)" marker-end="url(#a4)"/>
<polyline points="233.2,668.2 241.5,669.3 249.7,668.2 258.0,670.7 266.3,671.0 274.5,671.9 282.8,672.1 291.1,673.3 299.3,676.1 307.6,680.4 315.9,678.4 324.1,677.3 332.4,677.3 340.7,679.5 348.9,680.4 357.2,683.0 365.5,688.3 373.7,683.6 382.0,687.1 390.3,686.0 398.5,684.8 406.8,684.3 415.1,689.7 423.4,691.1 431.6,689.7 439.9,690.4 448.2,689.0 456.4,693.6 464.7,694.3 473.0,694.1 481.2,696.0 489.5,699.8 497.8,700.9 506.0,704.1 514.3,705.3 522.6,705.1 530.8,708.5 539.1,709.1 547.4,712.5 555.6,711.1 563.9,718.5 572.2,717.0 580.4,712.5 588.7,711.5 597.0,715.1 605.2,720.4 613.5,722.8 621.8,720.0 630.0,717.4 638.3,714.8 646.6,718.1 654.8,717.5 663.1,720.4 671.4,721.3 679.6,725.1 687.9,716.0 696.2,717.3 704.4,709.4 712.7,710.0 721.0,706.0 729.2,707.9 737.5,713.6 745.8,709.2 754.1,722.0 762.3,734.4 770.6,724.7 778.9,721.3 787.1,722.1 795.4,729.0 803.7,713.0 811.9,720.6 820.2,728.1 828.5,728.9 836.7,721.8 845.0,733.5 853.3,709.1 861.5,734.4 869.8,732.2 878.1,750.6 886.3,732.7 894.6,733.3 902.9,753.6 911.1,712.2 919.4,726.6 927.7,757.7 935.9,739.6 944.2,745.0 952.5,715.7 960.7,732.5 969.0,721.6 977.3,712.6 985.5,760.2 993.8,717.4 1002.1,732.5 1010.3,735.5 1018.6,721.5 1026.9,722.1 1035.1,747.9 1043.4,752.7 1051.7,755.7 1059.9,721.6 1068.2,737.1 1076.5,747.5 1084.7,740.2 1093.0,721.4 1101.3,732.0 1109.6,720.0 1117.8,724.5 1126.1,723.7 1134.4,731.4 1142.6,742.1 1150.9,743.3 1159.2,734.2 1167.4,768.8 1175.7,715.0 1184.0,801.1 1192.2,730.3 1200.5,727.1 1208.8,771.0 1217.0,677.8 1225.3,763.4 1233.6,733.2 1241.8,716.1 1250.1,738.5 1258.4,700.7 1266.6,665.1 1274.9,723.8 1283.2,743.6 1291.4,807.4 1299.7,780.3 1308.0,759.9 1316.2,733.8 1324.5,778.8 1332.8,745.7 1341.0,748.7 1349.3,748.6 1357.6,752.3 1365.8,659.9 1374.1,667.4 1382.4,718.0 1390.6,753.1 1398.9,783.7 1407.2,657.7 1415.4,698.9 1423.7,566.1 1432.0,634.9 1440.3,647.3 1448.5,773.9 1456.8,731.7 1465.1,739.6 1473.3,654.0 1481.6,729.4 1489.9,818.6 1498.1,727.9 1506.4,687.4 1514.7,616.0 1522.9,679.3 1531.2,639.5 1539.5,665.8 1547.7,740.6 1556.0,733.1 1564.3,687.7 1572.5,727.2 1580.8,745.5 1589.1,617.5 1597.3,749.6 1605.6,846.0" fill="none" stroke="#997300" stroke-width="3.4" stroke-linejoin="round" marker-start="url(#a5)" marker-mid="url(#a5)" marker-end="url(#a5)"/>
<polyline points="233.2,685.5 241.5,692.2 249.7,700.6 258.0,712.4 266.3,724.2 274.5,714.7 282.8,710.8 291.1,703.8 299.3,711.9 307.6,706.4 315.9,713.3 324.1,727.5 332.4,733.5 340.7,732.0 348.9,739.0 357.2,746.2 365.5,750.7 373.7,762.3 382.0,781.3 390.3,773.8 398.5,781.2 406.8,763.8 415.1,786.7 423.4,794.8 431.6,801.4 439.9,793.1 448.2,805.2 456.4,797.9 464.7,808.0 473.0,803.1 481.2,802.7 489.5,796.5 497.8,800.6 506.0,831.1 514.3,822.5 522.6,843.4 530.8,833.4 539.1,844.3 547.4,851.2 555.6,844.7 563.9,846.5 572.2,836.5 580.4,830.9 588.7,879.4 597.0,861.1 605.2,831.9 613.5,862.1 621.8,862.1 630.0,875.9 638.3,831.9 646.6,825.3 654.8,833.0 663.1,795.5 671.4,831.7 679.6,857.0 687.9,859.8 696.2,910.8 704.4,917.8 712.7,928.0 721.0,958.2 729.2,958.5 737.5,984.7 745.8,968.6 754.1,949.3 762.3,952.8 770.6,913.0 778.9,927.4 787.1,902.4 795.4,974.9 803.7,943.2 811.9,905.6 820.2,958.9 828.5,1033.0 836.7,970.0 845.0,928.5 853.3,975.4 861.5,1008.0 869.8,964.7 878.1,868.0 886.3,889.5 894.6,958.7 902.9,974.2 911.1,1045.8 919.4,873.1 927.7,918.3 935.9,917.5 944.2,951.1 952.5,877.0 960.7,887.8 969.0,1170.3 977.3,873.2 985.5,1060.1 993.8,922.9 1002.1,901.9 1010.3,886.1 1018.6,937.8 1026.9,968.4 1035.1,894.4 1043.4,880.3 1051.7,878.7 1059.9,914.6 1068.2,881.9 1076.5,962.1 1084.7,933.5 1093.0,889.1 1101.3,905.8 1109.6,860.8 1117.8,851.0 1126.1,876.9 1134.4,885.9 1142.6,907.3 1150.9,983.6 1159.2,982.1 1167.4,828.3 1175.7,898.7 1184.0,816.0 1192.2,822.6 1200.5,863.3 1208.8,890.6 1217.0,930.1 1225.3,933.0 1233.6,949.9 1241.8,705.9 1250.1,815.3 1258.4,896.3 1266.6,786.5 1274.9,861.9 1283.2,936.1 1291.4,846.1 1299.7,846.2 1308.0,761.5 1316.2,956.5 1324.5,893.1 1332.8,803.5 1341.0,855.6 1349.3,945.9 1357.6,829.6 1365.8,783.5 1374.1,828.0 1382.4,958.9 1390.6,941.8 1398.9,830.6 1407.2,846.5 1415.4,654.2 1423.7,821.5 1432.0,842.1 1440.3,933.7 1448.5,1005.3 1456.8,924.8 1465.1,781.2 1473.3,846.8 1481.6,948.8 1489.9,809.0 1498.1,847.7 1506.4,793.0 1514.7,840.7 1522.9,883.3 1531.2,725.5 1539.5,888.7 1547.7,824.3 1556.0,896.9 1564.3,809.9 1572.5,649.3 1580.8,973.6 1589.1,737.7 1597.3,860.7 1605.6,821.9" fill="none" stroke="#8CC168" stroke-width="3.2" stroke-linejoin="round" marker-start="url(#a6)" marker-mid="url(#a6)" marker-end="url(#a6)"/>
<polyline points="233.2,466.1 241.5,473.5 249.7,477.7 258.0,479.1 266.3,483.8 274.5,493.3 282.8,495.6 291.1,500.3 299.3,501.2 307.6,507.2 315.9,512.9 324.1,522.5 332.4,525.4 340.7,531.0 348.9,537.7 357.2,542.8 365.5,545.6 373.7,549.7 382.0,557.8 390.3,562.9 398.5,566.1 406.8,569.0 415.1,575.9 423.4,582.8 431.6,588.1 439.9,591.2 448.2,593.7 456.4,591.2 464.7,595.1 473.0,601.7 481.2,604.6 489.5,610.2 497.8,602.7 506.0,603.5 514.3,599.6 522.6,596.0 530.8,598.0 539.1,601.6 547.4,602.8 555.6,599.3 563.9,597.1 572.2,599.5 580.4,590.9 588.7,589.7 597.0,594.2 605.2,596.9 613.5,597.0 621.8,610.6 630.0,621.4 638.3,613.9 646.6,621.2 654.8,611.5 663.1,623.1 671.4,623.2 679.6,632.7 687.9,633.2 696.2,641.5 704.4,648.2 712.7,662.2 721.0,653.9 729.2,644.2 737.5,649.1 745.8,659.0 754.1,656.3 762.3,664.1 770.6,658.9 778.9,662.4 787.1,662.5 795.4,661.3 803.7,666.0 811.9,663.6 820.2,673.5 828.5,662.6 836.7,675.6 845.0,660.6 853.3,667.3 861.5,656.2 869.8,669.3 878.1,662.1 886.3,663.6 894.6,667.7 902.9,674.5 911.1,669.0 919.4,671.9 927.7,654.1 935.9,664.4 944.2,652.5 952.5,652.5 960.7,639.6 969.0,654.8 977.3,644.5 985.5,643.9 993.8,642.0 1002.1,621.8 1010.3,674.0 1018.6,700.7 1026.9,645.8 1035.1,677.0 1043.4,657.7 1051.7,653.0 1059.9,680.7 1068.2,662.0 1076.5,641.5 1084.7,649.0 1093.0,657.8 1101.3,641.6 1109.6,624.4 1117.8,625.9 1126.1,664.2 1134.4,640.6 1142.6,692.5 1150.9,653.2 1159.2,675.4 1167.4,653.1 1175.7,634.0 1184.0,675.3 1192.2,628.1 1200.5,646.2 1208.8,665.2 1217.0,626.5 1225.3,665.5 1233.6,634.4 1241.8,684.3 1250.1,647.5 1258.4,671.7 1266.6,635.6 1274.9,657.8 1283.2,619.0 1291.4,654.2 1299.7,637.2 1308.0,581.6 1316.2,674.9 1324.5,605.3 1332.8,684.1 1341.0,632.8 1349.3,601.2 1357.6,649.3 1365.8,580.3 1374.1,642.2 1382.4,646.5 1390.6,616.1 1398.9,622.8 1407.2,550.5 1415.4,676.0 1423.7,623.3 1432.0,714.4 1440.3,662.2 1448.5,607.1 1456.8,671.5 1465.1,596.4 1473.3,725.0 1481.6,619.4 1489.9,662.0 1498.1,638.9 1506.4,650.8 1514.7,697.0 1522.9,581.5 1531.2,598.7 1539.5,629.3 1547.7,672.4 1556.0,623.2 1564.3,690.5 1572.5,558.8 1580.8,540.2 1589.1,632.8 1597.3,634.0 1605.6,663.0" fill="none" stroke="#5A8A39" stroke-width="3.4" stroke-linejoin="round" marker-start="url(#a7)" marker-mid="url(#a7)" marker-end="url(#a7)"/>
<polyline points="233.2,584.7 241.5,587.7 249.7,589.9 258.0,592.7 266.3,596.1 274.5,597.6 282.8,599.7 291.1,604.5 299.3,603.4 307.6,605.3 315.9,606.6 324.1,606.3 332.4,607.0 340.7,608.8 348.9,609.5 357.2,608.1 365.5,610.6 373.7,613.0 382.0,618.9 390.3,623.4 398.5,622.8 406.8,619.2 415.1,625.9 423.4,642.0 431.6,647.8 439.9,647.8 448.2,648.4 456.4,648.3 464.7,650.5 473.0,653.1 481.2,656.5 489.5,660.7 497.8,661.1 506.0,665.8 514.3,671.3 522.6,673.8 530.8,672.4 539.1,678.0 547.4,682.3 555.6,692.8 563.9,698.9 572.2,697.6 580.4,699.1 588.7,703.5 597.0,705.9 605.2,708.0 613.5,714.4 621.8,720.2 630.0,726.7 638.3,725.4 646.6,734.2 654.8,737.5 663.1,729.6 671.4,725.2 679.6,733.5 687.9,746.0 696.2,744.5 704.4,754.1 712.7,760.2 721.0,755.7 729.2,761.4 737.5,769.5 745.8,774.2 754.1,797.5 762.3,786.0 770.6,778.5 778.9,773.1 787.1,779.8 795.4,775.7 803.7,767.0 811.9,786.0 820.2,790.1 828.5,775.3 836.7,794.8 845.0,783.6 853.3,790.0 861.5,782.3 869.8,792.2 878.1,783.2 886.3,786.4 894.6,783.3 902.9,790.4 911.1,772.1 919.4,783.5 927.7,784.1 935.9,786.9 944.2,756.0 952.5,781.8 960.7,803.6 969.0,782.7 977.3,784.1 985.5,775.6 993.8,780.6 1002.1,780.0 1010.3,789.1 1018.6,768.4 1026.9,774.6 1035.1,780.0 1043.4,744.4 1051.7,776.7 1059.9,784.8 1068.2,785.5 1076.5,760.8 1084.7,790.8 1093.0,785.9 1101.3,800.6 1109.6,768.1 1117.8,803.5 1126.1,719.0 1134.4,829.5 1142.6,780.7 1150.9,846.0 1159.2,858.0 1167.4,778.2 1175.7,766.4 1184.0,774.6 1192.2,775.6 1200.5,758.0 1208.8,849.7 1217.0,691.7 1225.3,779.2 1233.6,773.2 1241.8,743.0 1250.1,866.9 1258.4,734.6 1266.6,809.2 1274.9,649.6 1283.2,775.9 1291.4,752.6 1299.7,785.1 1308.0,801.7 1316.2,775.8 1324.5,816.8 1332.8,826.2 1341.0,846.7 1349.3,582.3 1357.6,819.5 1365.8,834.0 1374.1,708.5 1382.4,784.0 1390.6,588.8 1398.9,812.4 1407.2,772.5 1415.4,693.4 1423.7,733.0 1432.0,721.0 1440.3,831.8 1448.5,787.5 1456.8,777.6 1465.1,842.1 1473.3,789.6 1481.6,799.0 1489.9,752.9 1498.1,608.1 1506.4,768.4 1514.7,821.5 1522.9,733.2 1531.2,800.1 1539.5,686.3 1547.7,752.2 1556.0,581.5 1564.3,727.8 1572.5,729.4 1580.8,790.3 1589.1,740.3 1597.3,654.0 1605.6,656.5" fill="none" stroke="#5A8A39" stroke-width="3.4" stroke-linejoin="round" marker-start="url(#a8)" marker-mid="url(#a8)" marker-end="url(#a8)"/>
<polyline points="233.2,621.1 241.5,622.9 249.7,623.7 258.0,624.4 266.3,628.3 274.5,628.9 282.8,631.0 291.1,632.0 299.3,631.8 307.6,633.7 315.9,635.7 324.1,636.9 332.4,636.9 340.7,637.9 348.9,637.5 357.2,638.8 365.5,642.4 373.7,644.2 382.0,648.2 390.3,650.3 398.5,652.2 406.8,651.7 415.1,653.5 423.4,658.0 431.6,660.8 439.9,662.0 448.2,662.7 456.4,667.2 464.7,670.4 473.0,673.6 481.2,675.5 489.5,674.3 497.8,675.2 506.0,671.7 514.3,675.3 522.6,682.0 530.8,684.6 539.1,688.8 547.4,688.0 555.6,690.8 563.9,697.3 572.2,697.3 580.4,700.6 588.7,705.8 597.0,708.3 605.2,700.2 613.5,705.6 621.8,708.4 630.0,712.0 638.3,712.0 646.6,708.8 654.8,711.4 663.1,709.8 671.4,716.6 679.6,725.1 687.9,723.4 696.2,718.2 704.4,717.6 712.7,728.0 721.0,723.0 729.2,718.8 737.5,707.8 745.8,725.5 754.1,739.5 762.3,737.4 770.6,729.4 778.9,733.1 787.1,727.1 795.4,733.7 803.7,728.2 811.9,729.6 820.2,727.6 828.5,728.5 836.7,728.0 845.0,731.4 853.3,740.0 861.5,742.5 869.8,772.1 878.1,752.0 886.3,704.5 894.6,761.7 902.9,756.0 911.1,747.5 919.4,754.8 927.7,751.9 935.9,744.1 944.2,776.6 952.5,734.2 960.7,739.2 969.0,731.9 977.3,786.8 985.5,692.9 993.8,732.1 1002.1,778.9 1010.3,757.6 1018.6,760.6 1026.9,748.0 1035.1,714.8 1043.4,745.0 1051.7,760.0 1059.9,751.4 1068.2,756.9 1076.5,682.4 1084.7,725.0 1093.0,738.2 1101.3,765.3 1109.6,763.2 1117.8,704.5 1126.1,696.9 1134.4,739.6 1142.6,752.9 1150.9,691.8 1159.2,779.6 1167.4,712.6 1175.7,792.4 1184.0,730.0 1192.2,810.7 1200.5,1111.1 1208.8,794.9 1217.0,772.5 1225.3,1203.0 1233.6,723.5 1241.8,786.6 1250.1,790.0 1258.4,779.2 1266.6,655.4 1274.9,643.9 1283.2,749.8 1291.4,673.2 1299.7,782.7 1308.0,757.1 1316.2,687.8 1324.5,781.6 1332.8,698.8 1341.0,739.5 1349.3,829.4 1357.6,742.9 1365.8,853.4 1374.1,846.5 1382.4,886.6 1390.6,786.9 1398.9,830.7 1407.2,778.9 1415.4,888.2 1423.7,775.0 1432.0,1235.6 1440.3,651.5 1448.5,672.4 1456.8,728.5 1465.1,655.3 1473.3,787.2 1481.6,679.2 1489.9,744.8 1498.1,776.8 1506.4,1100.9 1514.7,806.6 1522.9,707.2 1531.2,758.2 1539.5,948.8 1547.7,631.4 1556.0,757.6 1564.3,820.7 1572.5,808.7 1580.8,764.1 1589.1,697.3 1597.3,847.4 1605.6,1009.1" fill="none" stroke="#CC9A00" stroke-width="3.4" stroke-linejoin="round" marker-start="url(#a9)" marker-mid="url(#a9)" marker-end="url(#a9)"/>
<polyline points="233.2,594.2 241.5,592.4 249.7,593.9 258.0,596.5 266.3,597.6 274.5,599.7 282.8,599.1 291.1,597.2 299.3,598.3 307.6,596.7 315.9,597.0 324.1,602.6 332.4,603.3 340.7,602.7 348.9,605.1 357.2,605.4 365.5,599.7 373.7,596.3 382.0,600.5 390.3,605.6 398.5,608.0 406.8,608.9 415.1,608.4 423.4,608.7 431.6,609.5 439.9,608.0 448.2,605.4 456.4,605.9 464.7,610.4 473.0,610.3 481.2,611.2 489.5,603.5 497.8,605.0 506.0,601.0 514.3,604.7 522.6,599.3 530.8,597.5 539.1,605.1 547.4,605.6 555.6,608.2 563.9,608.3 572.2,603.7 580.4,602.9 588.7,610.3 597.0,613.2 605.2,618.9 613.5,608.2 621.8,609.0 630.0,618.7 638.3,621.2 646.6,617.4 654.8,627.5 663.1,636.6 671.4,618.0 679.6,627.2 687.9,639.7 696.2,639.9 704.4,637.5 712.7,644.2 721.0,642.1 729.2,641.8 737.5,631.5 745.8,651.2 754.1,661.7 762.3,662.6 770.6,670.1 778.9,662.6 787.1,666.8 795.4,659.9 803.7,657.9 811.9,669.5 820.2,670.9 828.5,690.9 836.7,669.4 845.0,688.1 853.3,675.0 861.5,673.9 869.8,697.0 878.1,683.8 886.3,701.7 894.6,700.2 902.9,703.8 911.1,688.3 919.4,683.4 927.7,671.9 935.9,708.3 944.2,679.9 952.5,694.3 960.7,677.5 969.0,687.0 977.3,710.2 985.5,703.7 993.8,725.3 1002.1,693.7 1010.3,668.6 1018.6,680.8 1026.9,699.7 1035.1,705.0 1043.4,666.7 1051.7,670.6 1059.9,681.1 1068.2,690.9 1076.5,721.7 1084.7,721.2 1093.0,737.8 1101.3,701.0 1109.6,711.4 1117.8,701.7 1126.1,708.7 1134.4,749.0 1142.6,695.2 1150.9,705.6 1159.2,698.4 1167.4,747.5 1175.7,725.1 1184.0,678.0 1192.2,722.7 1200.5,668.1 1208.8,723.7 1217.0,683.0 1225.3,694.9 1233.6,751.6 1241.8,794.7 1250.1,640.8 1258.4,639.0 1266.6,617.9 1274.9,697.2 1283.2,739.8 1291.4,709.0 1299.7,732.1 1308.0,611.7 1316.2,737.9 1324.5,687.5 1332.8,664.2 1341.0,612.0 1349.3,754.4 1357.6,603.6 1365.8,703.6 1374.1,629.7 1382.4,642.4 1390.6,598.5 1398.9,591.9 1407.2,611.9 1415.4,703.0 1423.7,567.3 1432.0,650.7 1440.3,652.0 1448.5,735.2 1456.8,637.2 1465.1,568.0 1473.3,660.8 1481.6,666.5 1489.9,630.0 1498.1,539.3 1506.4,653.1 1514.7,787.5 1522.9,714.2 1531.2,616.4 1539.5,786.5 1547.7,775.4 1556.0,681.0 1564.3,567.1 1572.5,569.2 1580.8,767.3 1589.1,685.4 1597.3,789.2 1605.6,586.2" fill="none" stroke="#A9D18E" stroke-width="3.2" stroke-linejoin="round" marker-start="url(#a10)" marker-mid="url(#a10)" marker-end="url(#a10)"/>
<polyline points="233.2,702.1 241.5,714.0 249.7,728.5 258.0,727.8 266.3,729.2 274.5,739.1 282.8,741.9 291.1,744.5 299.3,751.1 307.6,749.7 315.9,754.8 324.1,777.2 332.4,780.6 340.7,786.8 348.9,789.5 357.2,796.2 365.5,798.1 373.7,811.7 382.0,821.2 390.3,819.7 398.5,816.5 406.8,818.8 415.1,814.5 423.4,818.7 431.6,833.4 439.9,832.4 448.2,835.5 456.4,834.1 464.7,833.5 473.0,842.0 481.2,832.6 489.5,842.5 497.8,852.8 506.0,844.8 514.3,842.4 522.6,848.0 530.8,839.0 539.1,834.9 547.4,837.4 555.6,839.0 563.9,841.5 572.2,830.9 580.4,838.4 588.7,838.9 597.0,855.1 605.2,848.1 613.5,850.9 621.8,866.0 630.0,862.9 638.3,849.8 646.6,832.3 654.8,854.6 663.1,862.3 671.4,862.8 679.6,869.7 687.9,873.1 696.2,881.6 704.4,861.9 712.7,882.3 721.0,846.5 729.2,857.4 737.5,867.2 745.8,841.4 754.1,867.7 762.3,859.1 770.6,870.2 778.9,852.1 787.1,869.1 795.4,842.2 803.7,858.9 811.9,843.9 820.2,837.0 828.5,847.6 836.7,862.6 845.0,858.3 853.3,820.1 861.5,856.8 869.8,857.9 878.1,840.4 886.3,839.4 894.6,859.4 902.9,844.9 911.1,861.6 919.4,878.9 927.7,852.1 935.9,830.8 944.2,855.8 952.5,898.8 960.7,850.6 969.0,799.5 977.3,874.4 985.5,874.4 993.8,824.3 1002.1,855.6 1010.3,886.5 1018.6,869.1 1026.9,843.1 1035.1,848.5 1043.4,806.0 1051.7,905.6 1059.9,895.8 1068.2,877.1 1076.5,826.1 1084.7,866.2 1093.0,915.9 1101.3,908.3 1109.6,883.9 1117.8,849.5 1126.1,863.9 1134.4,823.3 1142.6,858.6 1150.9,878.3 1159.2,845.3 1167.4,756.1 1175.7,805.9 1184.0,789.6 1192.2,819.1 1200.5,829.4 1208.8,724.2 1217.0,895.2 1225.3,881.5 1233.6,825.0 1241.8,795.8 1250.1,771.8 1258.4,944.6 1266.6,808.1 1274.9,941.5 1283.2,827.9 1291.4,828.2 1299.7,761.5 1308.0,725.9 1316.2,797.8 1324.5,803.0 1332.8,748.1 1341.0,685.5 1349.3,777.7 1357.6,949.2 1365.8,895.3 1374.1,881.6 1382.4,810.1 1390.6,842.7 1398.9,928.8 1407.2,776.8 1415.4,727.0 1423.7,871.1 1432.0,852.4 1440.3,791.9 1448.5,863.6 1456.8,765.4 1465.1,862.8 1473.3,735.2 1481.6,817.7 1489.9,836.0 1498.1,752.7 1506.4,830.2 1514.7,887.3 1522.9,735.3 1531.2,672.4 1539.5,750.9 1547.7,714.2 1556.0,763.2 1564.3,1243.8 1572.5,868.9 1580.8,736.9 1589.1,734.7 1597.3,894.7 1605.6,813.3" fill="none" stroke="#9DC3E6" stroke-width="3.2" stroke-linejoin="round" marker-start="url(#a11)" marker-mid="url(#a11)" marker-end="url(#a11)"/>
<polyline points="233.2,697.4 241.5,696.6 249.7,699.2 258.0,697.8 266.3,697.0 274.5,698.3 282.8,702.4 291.1,705.0 299.3,699.5 307.6,701.9 315.9,698.7 324.1,702.7 332.4,702.3 340.7,704.1 348.9,703.2 357.2,709.9 365.5,712.7 373.7,714.9 382.0,710.9 390.3,715.3 398.5,713.6 406.8,717.3 415.1,716.5 423.4,719.2 431.6,717.4 439.9,721.3 448.2,723.9 456.4,721.6 464.7,730.9 473.0,732.5 481.2,734.4 489.5,736.2 497.8,735.4 506.0,736.9 514.3,744.5 522.6,751.8 530.8,751.7 539.1,742.4 547.4,741.8 555.6,748.7 563.9,754.7 572.2,758.5 580.4,747.2 588.7,757.2 597.0,759.6 605.2,773.0 613.5,780.9 621.8,778.0 630.0,769.6 638.3,768.1 646.6,789.0 654.8,768.0 663.1,777.1 671.4,781.8 679.6,781.2 687.9,788.4 696.2,771.3 704.4,783.0 712.7,779.4 721.0,765.6 729.2,791.4 737.5,781.5 745.8,788.4 754.1,787.3 762.3,800.5 770.6,799.5 778.9,806.0 787.1,798.6 795.4,813.9 803.7,800.6 811.9,800.0 820.2,799.0 828.5,813.0 836.7,818.1 845.0,814.7 853.3,806.0 861.5,806.4 869.8,800.5 878.1,794.6 886.3,827.6 894.6,819.6 902.9,825.6 911.1,793.8 919.4,830.6 927.7,799.1 935.9,784.2 944.2,859.1 952.5,823.9 960.7,841.8 969.0,842.0 977.3,832.3 985.5,842.3 993.8,815.6 1002.1,804.1 1010.3,824.7 1018.6,827.0 1026.9,804.4 1035.1,801.3 1043.4,883.0 1051.7,777.1 1059.9,826.6 1068.2,860.1 1076.5,774.0 1084.7,766.8 1093.0,849.6 1101.3,856.3 1109.6,820.5 1117.8,813.7 1126.1,827.5 1134.4,885.1 1142.6,850.9 1150.9,830.9 1159.2,876.2 1167.4,822.3 1175.7,863.9 1184.0,774.6 1192.2,842.3 1200.5,804.5 1208.8,897.9 1217.0,799.7 1225.3,802.9 1233.6,855.2 1241.8,836.3 1250.1,778.5 1258.4,772.2 1266.6,864.4 1274.9,819.3 1283.2,835.3 1291.4,889.1 1299.7,819.4 1308.0,777.9 1316.2,756.5 1324.5,869.8 1332.8,825.7 1341.0,1002.1 1349.3,910.8 1357.6,864.7 1365.8,887.2 1374.1,883.6 1382.4,885.6 1390.6,867.6 1398.9,941.7 1407.2,1100.9 1415.4,799.9 1423.7,734.6 1432.0,931.4 1440.3,822.9 1448.5,882.3 1456.8,898.6 1465.1,908.8 1473.3,796.3 1481.6,702.8 1489.9,1194.8 1498.1,693.9 1506.4,819.2 1514.7,788.2 1522.9,647.7 1531.2,742.5 1539.5,893.3 1547.7,733.4 1556.0,945.9 1564.3,817.1 1572.5,878.0 1580.8,751.9 1589.1,770.0 1597.3,865.8 1605.6,943.3" fill="none" stroke="#FFD966" stroke-width="3.4" stroke-linejoin="round" marker-start="url(#a12)" marker-mid="url(#a12)" marker-end="url(#a12)"/>
<polyline points="233.2,607.0 241.5,607.5 249.7,610.8 258.0,607.4 266.3,614.0 274.5,614.4 282.8,620.9 291.1,620.0 299.3,613.3 307.6,619.2 315.9,620.6 324.1,623.3 332.4,627.2 340.7,628.6 348.9,629.3 357.2,633.3 365.5,637.5 373.7,641.8 382.0,636.1 390.3,638.4 398.5,646.5 406.8,649.6 415.1,647.6 423.4,665.5 431.6,662.6 439.9,666.4 448.2,676.2 456.4,668.7 464.7,657.5 473.0,665.4 481.2,678.1 489.5,690.4 497.8,691.8 506.0,699.8 514.3,699.0 522.6,704.2 530.8,698.0 539.1,694.4 547.4,708.0 555.6,705.6 563.9,702.7 572.2,718.0 580.4,705.4 588.7,709.3 597.0,707.0 605.2,712.7 613.5,725.6 621.8,722.6 630.0,734.8 638.3,733.7 646.6,722.7 654.8,738.8 663.1,747.3 671.4,745.9 679.6,776.5 687.9,755.4 696.2,738.3 704.4,733.3 712.7,745.0 721.0,757.0 729.2,761.8 737.5,756.5 745.8,752.8 754.1,762.0 762.3,758.8 770.6,792.5 778.9,804.0 787.1,783.3 795.4,793.6 803.7,789.9 811.9,785.9 820.2,787.1 828.5,779.1 836.7,788.4 845.0,799.1 853.3,765.1 861.5,806.7 869.8,821.7 878.1,806.9 886.3,818.8 894.6,775.0 902.9,817.3 911.1,808.0 919.4,857.5 927.7,837.0 935.9,788.4 944.2,814.6 952.5,817.6 960.7,811.8 969.0,806.3 977.3,796.1 985.5,844.3 993.8,805.6 1002.1,781.9 1010.3,800.6 1018.6,813.2 1026.9,791.0 1035.1,799.7 1043.4,818.8 1051.7,821.1 1059.9,797.6 1068.2,816.6 1076.5,834.6 1084.7,880.9 1093.0,864.0 1101.3,813.7 1109.6,887.2 1117.8,847.9 1126.1,808.1 1134.4,787.0 1142.6,823.8 1150.9,814.8 1159.2,851.6 1167.4,829.0 1175.7,830.3 1184.0,805.8 1192.2,893.8 1200.5,875.4 1208.8,863.1 1217.0,829.2 1225.3,765.5 1233.6,823.9 1241.8,818.4 1250.1,911.0 1258.4,953.0 1266.6,822.2 1274.9,893.8 1283.2,842.6 1291.4,884.0 1299.7,802.9 1308.0,886.4 1316.2,868.3 1324.5,881.0 1332.8,709.9 1341.0,690.3 1349.3,806.2 1357.6,900.7 1365.8,793.1 1374.1,770.5 1382.4,787.3 1390.6,915.6 1398.9,777.8 1407.2,841.6 1415.4,836.9 1423.7,838.5 1432.0,731.5 1440.3,857.6 1448.5,843.3 1456.8,882.4 1465.1,815.9 1473.3,827.7 1481.6,690.1 1489.9,949.0 1498.1,807.7 1506.4,875.7 1514.7,996.5 1522.9,709.9 1531.2,853.6 1539.5,745.9 1547.7,865.1 1556.0,979.5 1564.3,788.3 1572.5,878.1 1580.8,853.5 1589.1,695.3 1597.3,810.5 1605.6,842.5" fill="none" stroke="#385723" stroke-width="3.2" stroke-linejoin="round" marker-start="url(#a13)" marker-mid="url(#a13)" marker-end="url(#a13)"/>
<polyline points="233.2,695.4 241.5,696.0 249.7,696.2 258.0,698.8 266.3,702.6 274.5,704.0 282.8,705.1 291.1,707.2 299.3,711.1 307.6,711.3 315.9,717.4 324.1,719.2 332.4,719.7 340.7,720.2 348.9,725.1 357.2,727.7 365.5,735.3 373.7,741.6 382.0,743.4 390.3,752.2 398.5,756.7 406.8,765.8 415.1,767.7 423.4,768.0 431.6,772.6 439.9,778.7 448.2,782.5 456.4,784.5 464.7,788.7 473.0,791.8 481.2,796.2 489.5,799.7 497.8,799.4 506.0,798.9 514.3,798.3 522.6,801.1 530.8,815.1 539.1,812.7 547.4,806.9 555.6,810.9 563.9,810.0 572.2,811.0 580.4,809.1 588.7,813.2 597.0,811.6 605.2,817.7 613.5,821.8 621.8,818.6 630.0,822.6 638.3,827.3 646.6,834.0 654.8,830.5 663.1,835.8 671.4,836.0 679.6,831.7 687.9,828.5 696.2,850.3 704.4,836.7 712.7,843.9 721.0,862.7 729.2,877.2 737.5,877.5 745.8,870.7 754.1,884.8 762.3,858.1 770.6,822.1 778.9,822.7 787.1,834.9 795.4,850.5 803.7,871.2 811.9,863.7 820.2,845.3 828.5,859.3 836.7,871.9 845.0,858.7 853.3,849.1 861.5,846.5 869.8,872.2 878.1,883.7 886.3,869.6 894.6,873.2 902.9,877.7 911.1,855.8 919.4,851.9 927.7,883.2 935.9,866.8 944.2,862.2 952.5,867.6 960.7,858.1 969.0,924.1 977.3,886.3 985.5,911.1 993.8,873.5 1002.1,898.6 1010.3,842.2 1018.6,849.3 1026.9,941.8 1035.1,887.5 1043.4,909.2 1051.7,898.5 1059.9,892.5 1068.2,977.4 1076.5,895.7 1084.7,924.4 1093.0,945.8 1101.3,921.3 1109.6,839.8 1117.8,863.5 1126.1,900.7 1134.4,900.8 1142.6,931.5 1150.9,921.5 1159.2,840.0 1167.4,1070.3 1175.7,990.4 1184.0,848.7 1192.2,905.8 1200.5,932.3 1208.8,949.9 1217.0,811.8 1225.3,897.4 1233.6,950.9 1241.8,887.0 1250.1,856.5 1258.4,893.8 1266.6,919.5 1274.9,897.3 1283.2,888.7 1291.4,970.7 1299.7,1065.4 1308.0,865.5 1316.2,899.9 1324.5,832.7 1332.8,873.1 1341.0,806.6 1349.3,828.2 1357.6,884.1 1365.8,838.7 1374.1,853.1 1382.4,766.5 1390.6,1013.0 1398.9,745.6 1407.2,687.7 1415.4,850.6 1423.7,964.9 1432.0,939.8 1440.3,854.8 1448.5,806.3 1456.8,903.0 1465.1,827.3 1473.3,633.6 1481.6,894.8 1489.9,797.5 1498.1,464.1 1506.4,851.7 1514.7,910.2 1522.9,957.5 1531.2,804.6 1539.5,908.7 1547.7,804.5 1556.0,877.7 1564.3,796.9 1572.5,860.0 1580.8,921.9 1589.1,791.3 1597.3,677.5 1605.6,998.2" fill="none" stroke="#1F4E79" stroke-width="3.4" stroke-linejoin="round" marker-start="url(#a14)" marker-mid="url(#a14)" marker-end="url(#a14)"/>
<polyline points="233.2,661.0 241.5,661.0 249.7,664.2 258.0,663.6 266.3,664.6 274.5,665.1 282.8,665.3 291.1,667.6 299.3,666.6 307.6,666.6 315.9,669.1 324.1,669.4 332.4,668.3 340.7,668.9 348.9,674.5 357.2,673.8 365.5,674.4 373.7,675.8 382.0,674.7 390.3,675.3 398.5,678.5 406.8,679.0 415.1,675.9 423.4,679.8 431.6,681.5 439.9,677.1 448.2,677.9 456.4,683.7 464.7,684.8 473.0,683.3 481.2,688.6 489.5,695.0 497.8,696.8 506.0,694.2 514.3,697.8 522.6,695.2 530.8,693.2 539.1,701.7 547.4,696.7 555.6,701.1 563.9,703.1 572.2,704.0 580.4,701.5 588.7,705.5 597.0,709.6 605.2,704.1 613.5,706.4 621.8,704.1 630.0,711.1 638.3,719.6 646.6,713.2 654.8,721.5 663.1,719.8 671.4,712.0 679.6,715.5 687.9,726.8 696.2,737.0 704.4,728.0 712.7,724.9 721.0,730.9 729.2,733.2 737.5,734.7 745.8,728.6 754.1,724.0 762.3,747.8 770.6,736.6 778.9,730.1 787.1,727.0 795.4,724.8 803.7,743.6 811.9,739.3 820.2,760.9 828.5,755.5 836.7,745.3 845.0,730.6 853.3,753.2 861.5,773.6 869.8,769.1 878.1,779.8 886.3,744.8 894.6,766.9 902.9,768.8 911.1,765.7 919.4,760.9 927.7,771.0 935.9,768.7 944.2,772.5 952.5,774.5 960.7,756.3 969.0,778.3 977.3,788.2 985.5,781.6 993.8,795.8 1002.1,783.9 1010.3,757.1 1018.6,773.9 1026.9,776.3 1035.1,737.4 1043.4,795.4 1051.7,770.0 1059.9,788.9 1068.2,720.6 1076.5,785.1 1084.7,710.4 1093.0,792.9 1101.3,765.9 1109.6,806.7 1117.8,774.7 1126.1,774.6 1134.4,782.9 1142.6,796.1 1150.9,774.6 1159.2,765.4 1167.4,775.2 1175.7,778.2 1184.0,722.4 1192.2,693.3 1200.5,769.5 1208.8,805.2 1217.0,798.6 1225.3,788.7 1233.6,835.9 1241.8,768.2 1250.1,849.0 1258.4,715.7 1266.6,737.1 1274.9,687.3 1283.2,875.5 1291.4,629.3 1299.7,735.9 1308.0,682.9 1316.2,727.7 1324.5,811.1 1332.8,749.4 1341.0,577.6 1349.3,782.7 1357.6,657.3 1365.8,755.1 1374.1,837.4 1382.4,766.5 1390.6,701.4 1398.9,761.2 1407.2,899.0 1415.4,793.6 1423.7,756.0 1432.0,814.2 1440.3,644.1 1448.5,680.1 1456.8,755.8 1465.1,544.2 1473.3,698.1 1481.6,644.8 1489.9,692.6 1498.1,720.9 1506.4,637.3 1514.7,699.5 1522.9,802.0 1531.2,731.9 1539.5,738.9 1547.7,502.8 1556.0,805.2 1564.3,762.7 1572.5,761.8 1580.8,661.9 1589.1,725.9 1597.3,688.6 1605.6,820.7" fill="none" stroke="#806000" stroke-width="3.4" stroke-linejoin="round" marker-start="url(#a15)" marker-mid="url(#a15)" marker-end="url(#a15)"/>
<polyline points="233.2,671.5 241.5,672.2 249.7,674.7 258.0,675.5 266.3,676.6 274.5,675.3 282.8,673.3 291.1,667.8 299.3,669.0 307.6,676.7 315.9,673.7 324.1,675.3 332.4,678.2 340.7,678.8 348.9,682.9 357.2,676.3 365.5,680.0 373.7,680.2 382.0,673.1 390.3,677.4 398.5,676.8 406.8,676.7 415.1,677.7 423.4,672.3 431.6,680.1 439.9,684.0 448.2,680.5 456.4,672.3 464.7,672.8 473.0,676.3 481.2,681.9 489.5,678.8 497.8,681.4 506.0,681.9 514.3,676.8 522.6,669.4 530.8,671.9 539.1,673.6 547.4,675.5 555.6,668.3 563.9,674.7 572.2,684.7 580.4,681.5 588.7,687.7 597.0,693.1 605.2,680.7 613.5,684.1 621.8,680.4 630.0,684.5 638.3,679.0 646.6,689.4 654.8,690.4 663.1,692.9 671.4,693.8 679.6,679.9 687.9,679.6 696.2,698.0 704.4,690.3 712.7,691.2 721.0,694.7 729.2,696.4 737.5,682.5 745.8,711.1 754.1,704.0 762.3,702.3 770.6,713.4 778.9,717.5 787.1,701.7 795.4,702.5 803.7,722.4 811.9,710.3 820.2,716.9 828.5,726.2 836.7,724.2 845.0,711.9 853.3,709.5 861.5,687.0 869.8,712.0 878.1,703.8 886.3,723.0 894.6,735.0 902.9,735.9 911.1,692.6 919.4,716.1 927.7,730.2 935.9,697.1 944.2,736.3 952.5,732.2 960.7,686.8 969.0,689.2 977.3,699.6 985.5,715.2 993.8,744.1 1002.1,720.4 1010.3,746.3 1018.6,748.1 1026.9,739.2 1035.1,708.5 1043.4,736.0 1051.7,718.1 1059.9,725.7 1068.2,763.2 1076.5,705.2 1084.7,703.9 1093.0,714.1 1101.3,724.6 1109.6,693.2 1117.8,734.3 1126.1,747.8 1134.4,727.0 1142.6,694.3 1150.9,718.4 1159.2,704.1 1167.4,696.7 1175.7,775.3 1184.0,746.8 1192.2,602.2 1200.5,767.0 1208.8,724.7 1217.0,728.8 1225.3,686.0 1233.6,762.3 1241.8,669.1 1250.1,683.2 1258.4,714.2 1266.6,597.4 1274.9,745.3 1283.2,698.9 1291.4,627.7 1299.7,760.3 1308.0,726.5 1316.2,756.8 1324.5,734.3 1332.8,781.0 1341.0,590.1 1349.3,585.9 1357.6,634.5 1365.8,707.9 1374.1,672.9 1382.4,639.1 1390.6,665.8 1398.9,572.8 1407.2,673.8 1415.4,777.7 1423.7,597.2 1432.0,691.0 1440.3,785.1 1448.5,732.7 1456.8,645.5 1465.1,623.3 1473.3,521.4 1481.6,697.2 1489.9,728.6 1498.1,672.0 1506.4,606.6 1514.7,588.3 1522.9,650.0 1531.2,646.8 1539.5,620.3 1547.7,706.2 1556.0,580.6 1564.3,727.7 1572.5,781.7 1580.8,721.7 1589.1,768.8 1597.3,708.9 1605.6,591.9" fill="none" stroke="#9AC97B" stroke-width="3.4" stroke-linejoin="round" marker-start="url(#a16)" marker-mid="url(#a16)" marker-end="url(#a16)"/>
<polyline points="233.2,520.8 241.5,518.4 249.7,522.5 258.0,526.0 266.3,525.8 274.5,530.5 282.8,534.1 291.1,537.6 299.3,538.3 307.6,539.2 315.9,541.5 324.1,538.5 332.4,540.0 340.7,538.1 348.9,544.0 357.2,554.5 365.5,543.8 373.7,546.1 382.0,546.7 390.3,559.8 398.5,554.9 406.8,558.7 415.1,558.8 423.4,561.0 431.6,555.3 439.9,569.6 448.2,569.7 456.4,557.8 464.7,568.5 473.0,581.2 481.2,586.0 489.5,584.7 497.8,598.3 506.0,594.1 514.3,599.6 522.6,580.1 530.8,598.6 539.1,602.0 547.4,602.9 555.6,602.4 563.9,609.3 572.2,602.5 580.4,613.3 588.7,622.5 597.0,612.6 605.2,618.1 613.5,611.8 621.8,620.6 630.0,607.0 638.3,615.5 646.6,623.5 654.8,632.1 663.1,639.9 671.4,623.2 679.6,638.8 687.9,643.9 696.2,658.1 704.4,668.4 712.7,661.5 721.0,650.0 729.2,657.9 737.5,658.9 745.8,657.0 754.1,648.7 762.3,651.4 770.6,667.9 778.9,668.1 787.1,668.4 795.4,658.2 803.7,673.3 811.9,683.3 820.2,669.8 828.5,671.4 836.7,674.6 845.0,677.5 853.3,668.4 861.5,678.6 869.8,686.9 878.1,682.9 886.3,693.2 894.6,677.3 902.9,710.5 911.1,677.7 919.4,685.2 927.7,676.8 935.9,678.2 944.2,684.5 952.5,709.3 960.7,664.7 969.0,708.1 977.3,719.4 985.5,721.1 993.8,698.2 1002.1,696.7 1010.3,716.4 1018.6,693.4 1026.9,699.2 1035.1,676.4 1043.4,699.5 1051.7,691.5 1059.9,735.5 1068.2,670.2 1076.5,681.0 1084.7,656.5 1093.0,689.1 1101.3,692.6 1109.6,723.7 1117.8,752.4 1126.1,721.8 1134.4,718.4 1142.6,649.5 1150.9,687.6 1159.2,730.7 1167.4,727.2 1175.7,679.9 1184.0,657.0 1192.2,653.1 1200.5,692.9 1208.8,665.5 1217.0,691.5 1225.3,632.5 1233.6,723.0 1241.8,660.4 1250.1,584.5 1258.4,706.3 1266.6,715.9 1274.9,649.0 1283.2,643.4 1291.4,757.1 1299.7,719.0 1308.0,726.2 1316.2,763.3 1324.5,644.5 1332.8,640.0 1341.0,701.3 1349.3,661.1 1357.6,658.2 1365.8,689.6 1374.1,711.3 1382.4,607.6 1390.6,596.6 1398.9,696.4 1407.2,682.7 1415.4,681.5 1423.7,698.3 1432.0,695.8 1440.3,705.7 1448.5,677.1 1456.8,679.8 1465.1,674.4 1473.3,613.5 1481.6,759.4 1489.9,697.1 1498.1,669.9 1506.4,498.8 1514.7,681.0 1522.9,653.8 1531.2,606.5 1539.5,678.2 1547.7,708.6 1556.0,575.3 1564.3,654.9 1572.5,665.2 1580.8,672.9 1589.1,675.5 1597.3,553.9 1605.6,662.6" fill="none" stroke="#327DC2" stroke-width="3.4" stroke-linejoin="round" marker-start="url(#a17)" marker-mid="url(#a17)" marker-end="url(#a17)"/>
<polyline points="233.2,573.1 241.5,575.9 249.7,576.7 258.0,582.7 266.3,588.8 274.5,591.8 282.8,593.7 291.1,595.9 299.3,601.0 307.6,607.5 315.9,607.9 324.1,615.1 332.4,616.0 340.7,621.1 348.9,627.7 357.2,629.7 365.5,636.3 373.7,640.1 382.0,642.3 390.3,650.0 398.5,652.3 406.8,657.4 415.1,660.9 423.4,667.0 431.6,669.5 439.9,667.1 448.2,671.8 456.4,672.5 464.7,674.0 473.0,672.7 481.2,679.5 489.5,681.9 497.8,680.5 506.0,685.1 514.3,685.1 522.6,686.6 530.8,689.4 539.1,687.7 547.4,692.2 555.6,692.8 563.9,699.6 572.2,696.6 580.4,696.6 588.7,701.0 597.0,705.3 605.2,704.7 613.5,706.5 621.8,706.7 630.0,707.7 638.3,706.8 646.6,708.4 654.8,713.1 663.1,720.4 671.4,731.6 679.6,733.5 687.9,740.1 696.2,750.4 704.4,745.2 712.7,733.8 721.0,737.0 729.2,729.0 737.5,731.1 745.8,730.2 754.1,718.4 762.3,684.8 770.6,669.4 778.9,667.9 787.1,689.9 795.4,695.9 803.7,703.0 811.9,713.0 820.2,684.5 828.5,704.8 836.7,696.9 845.0,722.1 853.3,738.8 861.5,727.9 869.8,768.8 878.1,739.7 886.3,739.8 894.6,733.2 902.9,729.4 911.1,745.0 919.4,729.7 927.7,688.0 935.9,750.1 944.2,722.5 952.5,746.3 960.7,733.9 969.0,715.3 977.3,749.1 985.5,731.3 993.8,760.8 1002.1,730.7 1010.3,711.4 1018.6,759.4 1026.9,724.2 1035.1,752.4 1043.4,707.1 1051.7,689.4 1059.9,750.1 1068.2,703.8 1076.5,723.4 1084.7,781.5 1093.0,754.2 1101.3,724.5 1109.6,770.0 1117.8,754.9 1126.1,737.0 1134.4,859.3 1142.6,718.2 1150.9,718.4 1159.2,827.5 1167.4,607.0 1175.7,699.0 1184.0,806.8 1192.2,828.4 1200.5,775.6 1208.8,648.4 1217.0,771.7 1225.3,723.1 1233.6,770.3 1241.8,679.1 1250.1,760.8 1258.4,793.4 1266.6,683.5 1274.9,792.3 1283.2,814.7 1291.4,779.2 1299.7,673.7 1308.0,709.5 1316.2,819.3 1324.5,761.9 1332.8,717.8 1341.0,815.7 1349.3,574.9 1357.6,570.2 1365.8,776.8 1374.1,594.5 1382.4,659.8 1390.6,793.7 1398.9,775.2 1407.2,645.8 1415.4,804.9 1423.7,692.7 1432.0,642.0 1440.3,641.4 1448.5,783.4 1456.8,539.6 1465.1,651.8 1473.3,677.4 1481.6,780.7 1489.9,745.8 1498.1,548.0 1506.4,708.9 1514.7,711.3 1522.9,765.1 1531.2,876.1 1539.5,760.0 1547.7,746.0 1556.0,867.1 1564.3,620.6 1572.5,488.6 1580.8,765.9 1589.1,718.9 1597.3,758.0 1605.6,644.3" fill="none" stroke="#7CAFDD" stroke-width="3.2" stroke-linejoin="round" marker-start="url(#a18)" marker-mid="url(#a18)" marker-end="url(#a18)"/>
<polyline points="233.2,741.5 241.5,745.8 249.7,748.5 258.0,749.3 266.3,752.6 274.5,753.6 282.8,753.1 291.1,754.5 299.3,755.9 307.6,759.7 315.9,761.7 324.1,763.9 332.4,767.6 340.7,769.0 348.9,770.0 357.2,771.7 365.5,774.8 373.7,775.5 382.0,778.0 390.3,780.4 398.5,782.3 406.8,784.1 415.1,784.9 423.4,789.0 431.6,792.8 439.9,791.5 448.2,796.3 456.4,798.3 464.7,804.1 473.0,806.6 481.2,809.4 489.5,815.3 497.8,815.0 506.0,819.1 514.3,817.5 522.6,819.8 530.8,824.3 539.1,816.2 547.4,823.1 555.6,827.2 563.9,823.6 572.2,824.5 580.4,830.3 588.7,831.3 597.0,829.7 605.2,826.9 613.5,829.2 621.8,832.7 630.0,837.9 638.3,843.8 646.6,851.5 654.8,850.0 663.1,854.2 671.4,857.6 679.6,864.5 687.9,873.1 696.2,880.0 704.4,875.6 712.7,876.3 721.0,877.3 729.2,882.8 737.5,900.0 745.8,909.3 754.1,888.2 762.3,877.3 770.6,863.5 778.9,854.5 787.1,830.9 795.4,839.3 803.7,838.4 811.9,818.9 820.2,820.3 828.5,827.5 836.7,823.9 845.0,825.1 853.3,806.7 861.5,844.6 869.8,850.5 878.1,833.8 886.3,855.3 894.6,840.0 902.9,818.3 911.1,862.3 919.4,879.4 927.7,853.5 935.9,832.8 944.2,845.9 952.5,866.8 960.7,849.7 969.0,867.5 977.3,854.7 985.5,854.3 993.8,851.2 1002.1,812.3 1010.3,819.0 1018.6,868.6 1026.9,864.7 1035.1,837.0 1043.4,817.4 1051.7,842.9 1059.9,785.6 1068.2,810.7 1076.5,802.4 1084.7,860.9 1093.0,876.8 1101.3,807.3 1109.6,828.2 1117.8,882.1 1126.1,869.5 1134.4,865.6 1142.6,852.9 1150.9,844.6 1159.2,916.8 1167.4,814.2 1175.7,815.4 1184.0,942.5 1192.2,841.5 1200.5,772.0 1208.8,854.1 1217.0,894.6 1225.3,881.4 1233.6,723.9 1241.8,893.6 1250.1,813.5 1258.4,831.8 1266.6,954.6 1274.9,772.1 1283.2,847.8 1291.4,887.8 1299.7,719.2 1308.0,855.6 1316.2,835.3 1324.5,965.1 1332.8,1162.1 1341.0,913.4 1349.3,796.7 1357.6,825.0 1365.8,829.2 1374.1,901.2 1382.4,1131.5 1390.6,828.6 1398.9,710.9 1407.2,724.1 1415.4,672.6 1423.7,783.5 1432.0,871.7 1440.3,834.3 1448.5,889.5 1456.8,1090.7 1465.1,840.4 1473.3,786.6 1481.6,929.9 1489.9,855.5 1498.1,754.5 1506.4,879.3 1514.7,840.2 1522.9,982.5 1531.2,828.0 1539.5,969.6 1547.7,673.1 1556.0,815.0 1564.3,687.2 1572.5,806.3 1580.8,776.1 1589.1,1090.7 1597.3,685.4 1605.6,758.3" fill="none" stroke="#8CB9E2" stroke-width="3.4" stroke-linejoin="round" marker-start="url(#a19)" marker-mid="url(#a19)" marker-end="url(#a19)"/>
<polyline points="233.2,736.9 241.5,739.0 249.7,746.8 258.0,748.1 266.3,754.8 274.5,764.3 282.8,766.3 291.1,769.0 299.3,778.5 307.6,779.4 315.9,795.8 324.1,793.4 332.4,796.3 340.7,808.7 348.9,817.4 357.2,813.2 365.5,830.2 373.7,833.3 382.0,838.6 390.3,842.0 398.5,856.8 406.8,840.7 415.1,851.5 423.4,846.7 431.6,819.7 439.9,828.8 448.2,830.9 456.4,810.6 464.7,810.6 473.0,830.2 481.2,860.0 489.5,852.6 497.8,846.4 506.0,887.2 514.3,904.2 522.6,897.9 530.8,887.2 539.1,893.6 547.4,885.0 555.6,889.4 563.9,877.6 572.2,876.6 580.4,895.7 588.7,919.3 597.0,916.6 605.2,922.0 613.5,898.7 621.8,956.8 630.0,939.0 638.3,917.9 646.6,916.7 654.8,922.7 663.1,940.5 671.4,880.7 679.6,918.3 687.9,918.6 696.2,935.4 704.4,890.0 712.7,919.4 721.0,900.6 729.2,933.2 737.5,932.9 745.8,975.5 754.1,899.0 762.3,916.1 770.6,855.8 778.9,897.1 787.1,897.9 795.4,899.8 803.7,906.5 811.9,964.6 820.2,941.1 828.5,905.7 836.7,903.5 845.0,952.8 853.3,982.3 861.5,978.6 869.8,924.1 878.1,977.5 886.3,1016.4 894.6,968.0 902.9,990.2 911.1,878.5 919.4,955.5 927.7,939.3 935.9,935.2 944.2,930.9 952.5,975.8 960.7,948.2 969.0,940.1 977.3,972.6 985.5,971.0 993.8,985.4 1002.1,954.0 1010.3,946.5 1018.6,1111.1 1026.9,973.5 1035.1,901.7 1043.4,1003.9 1051.7,952.9 1059.9,978.9 1068.2,958.2 1076.5,999.8 1084.7,945.7 1093.0,977.9 1101.3,1029.5 1109.6,975.3 1117.8,991.5 1126.1,978.4 1134.4,987.6 1142.6,902.3 1150.9,1019.8 1159.2,987.3 1167.4,961.2 1175.7,908.1 1184.0,954.5 1192.2,942.3 1200.5,950.9 1208.8,852.0 1217.0,987.5 1225.3,760.9 1233.6,887.1 1241.8,1043.3 1250.1,1038.4 1258.4,917.9 1266.6,982.5 1274.9,930.4 1283.2,915.9 1291.4,846.5 1299.7,886.3 1308.0,999.5 1316.2,940.9 1324.5,1024.5 1332.8,884.0 1341.0,877.9 1349.3,907.6 1357.6,947.9 1365.8,1030.3 1374.1,880.6 1382.4,938.7 1390.6,1050.5 1398.9,945.7 1407.2,946.2 1415.4,938.4 1423.7,786.5 1432.0,954.1 1440.3,810.8 1448.5,1153.4 1456.8,825.2 1465.1,928.3 1473.3,1045.1 1481.6,991.3 1489.9,801.7 1498.1,769.2 1506.4,908.1 1514.7,1030.2 1522.9,787.1 1531.2,937.0 1539.5,1038.8 1547.7,1101.5 1556.0,932.6 1564.3,892.9 1572.5,988.3 1580.8,1059.4 1589.1,939.0 1597.3,909.7 1605.6,881.1" fill="none" stroke="#FFD34C" stroke-width="3.4" stroke-linejoin="round" marker-start="url(#a20)" marker-mid="url(#a20)" marker-end="url(#a20)"/>
<polyline points="233.2,632.8 241.5,633.2 249.7,638.6 258.0,635.0 266.3,640.0 274.5,637.5 282.8,636.9 291.1,640.1 299.3,645.3 307.6,650.1 315.9,650.8 324.1,653.6 332.4,648.5 340.7,650.2 348.9,651.5 357.2,654.9 365.5,660.1 373.7,663.2 382.0,667.8 390.3,666.5 398.5,667.6 406.8,663.2 415.1,666.0 423.4,668.1 431.6,671.9 439.9,676.0 448.2,678.6 456.4,681.2 464.7,671.9 473.0,678.8 481.2,690.0 489.5,688.3 497.8,691.7 506.0,682.2 514.3,678.4 522.6,684.6 530.8,687.8 539.1,684.1 547.4,688.9 555.6,698.2 563.9,697.0 572.2,687.5 580.4,703.5 588.7,708.6 597.0,703.5 605.2,699.4 613.5,702.8 621.8,723.5 630.0,715.0 638.3,717.9 646.6,726.1 654.8,720.5 663.1,719.5 671.4,737.7 679.6,743.4 687.9,745.4 696.2,749.1 704.4,743.3 712.7,756.9 721.0,756.6 729.2,760.8 737.5,752.8 745.8,752.5 754.1,749.3 762.3,739.6 770.6,758.2 778.9,762.3 787.1,754.3 795.4,761.4 803.7,742.4 811.9,731.0 820.2,751.7 828.5,758.1 836.7,757.6 845.0,780.6 853.3,789.8 861.5,782.4 869.8,774.9 878.1,777.8 886.3,779.5 894.6,792.6 902.9,776.0 911.1,817.1 919.4,797.7 927.7,762.0 935.9,755.8 944.2,787.1 952.5,802.2 960.7,759.2 969.0,809.4 977.3,754.6 985.5,742.4 993.8,783.3 1002.1,793.2 1010.3,785.0 1018.6,756.6 1026.9,848.0 1035.1,800.7 1043.4,788.1 1051.7,791.1 1059.9,830.7 1068.2,781.4 1076.5,769.7 1084.7,838.2 1093.0,831.5 1101.3,792.9 1109.6,779.8 1117.8,857.3 1126.1,752.3 1134.4,830.0 1142.6,771.9 1150.9,720.0 1159.2,727.0 1167.4,801.7 1175.7,785.5 1184.0,758.2 1192.2,740.3 1200.5,694.3 1208.8,838.4 1217.0,830.3 1225.3,790.4 1233.6,818.8 1241.8,863.7 1250.1,773.4 1258.4,863.0 1266.6,767.9 1274.9,760.2 1283.2,717.2 1291.4,788.9 1299.7,674.6 1308.0,722.6 1316.2,749.5 1324.5,885.0 1332.8,800.6 1341.0,736.9 1349.3,805.9 1357.6,700.4 1365.8,845.9 1374.1,771.6 1382.4,757.4 1390.6,699.8 1398.9,794.3 1407.2,848.5 1415.4,759.5 1423.7,651.2 1432.0,678.0 1440.3,741.4 1448.5,857.3 1456.8,725.7 1465.1,761.7 1473.3,853.0 1481.6,893.6 1489.9,625.1 1498.1,713.6 1506.4,648.5 1514.7,826.1 1522.9,719.9 1531.2,748.5 1539.5,843.7 1547.7,679.7 1556.0,655.9 1564.3,639.2 1572.5,852.2 1580.8,763.2 1589.1,814.7 1597.3,770.9 1605.6,844.4" fill="none" stroke="#4E7932" stroke-width="3.4" stroke-linejoin="round" marker-start="url(#a21)" marker-mid="url(#a21)" marker-end="url(#a21)"/>
<polyline points="233.2,648.1 241.5,646.0 249.7,650.1 258.0,652.4 266.3,655.1 274.5,654.6 282.8,651.3 291.1,654.2 299.3,657.5 307.6,663.0 315.9,664.5 324.1,669.3 332.4,666.7 340.7,667.9 348.9,663.6 357.2,667.3 365.5,670.2 373.7,666.1 382.0,672.1 390.3,666.8 398.5,668.1 406.8,666.7 415.1,672.2 423.4,672.7 431.6,674.1 439.9,677.9 448.2,682.4 456.4,682.7 464.7,677.9 473.0,696.0 481.2,702.6 489.5,697.2 497.8,706.0 506.0,705.2 514.3,701.4 522.6,701.8 530.8,714.4 539.1,702.9 547.4,701.7 555.6,699.6 563.9,704.2 572.2,718.6 580.4,713.4 588.7,724.3 597.0,723.6 605.2,734.1 613.5,730.7 621.8,732.1 630.0,730.0 638.3,731.7 646.6,726.1 654.8,744.8 663.1,741.1 671.4,762.4 679.6,761.7 687.9,766.9 696.2,770.5 704.4,767.0 712.7,772.5 721.0,765.8 729.2,771.4 737.5,764.1 745.8,784.7 754.1,757.7 762.3,762.2 770.6,771.9 778.9,785.2 787.1,791.3 795.4,762.0 803.7,785.1 811.9,782.3 820.2,770.6 828.5,772.8 836.7,784.0 845.0,808.3 853.3,817.4 861.5,779.1 869.8,780.6 878.1,806.3 886.3,778.6 894.6,802.6 902.9,775.2 911.1,777.5 919.4,774.1 927.7,784.0 935.9,770.5 944.2,801.7 952.5,809.8 960.7,807.3 969.0,794.4 977.3,826.0 985.5,783.6 993.8,774.2 1002.1,811.2 1010.3,753.5 1018.6,783.0 1026.9,786.3 1035.1,788.6 1043.4,771.8 1051.7,831.8 1059.9,773.9 1068.2,815.6 1076.5,828.0 1084.7,746.4 1093.0,777.2 1101.3,770.1 1109.6,832.6 1117.8,785.6 1126.1,801.9 1134.4,853.2 1142.6,861.3 1150.9,840.4 1159.2,784.8 1167.4,832.4 1175.7,746.2 1184.0,752.0 1192.2,824.8 1200.5,818.7 1208.8,866.8 1217.0,812.0 1225.3,763.5 1233.6,746.2 1241.8,769.7 1250.1,689.5 1258.4,950.0 1266.6,837.3 1274.9,783.4 1283.2,837.7 1291.4,649.0 1299.7,725.8 1308.0,820.9 1316.2,850.8 1324.5,774.0 1332.8,738.8 1341.0,838.6 1349.3,916.2 1357.6,828.2 1365.8,914.7 1374.1,747.8 1382.4,851.2 1390.6,678.2 1398.9,780.9 1407.2,659.4 1415.4,827.6 1423.7,749.6 1432.0,774.5 1440.3,835.0 1448.5,664.6 1456.8,646.5 1465.1,857.1 1473.3,666.4 1481.6,796.8 1489.9,711.1 1498.1,757.7 1506.4,775.4 1514.7,782.0 1522.9,984.3 1531.2,682.4 1539.5,828.3 1547.7,886.0 1556.0,719.0 1564.3,840.3 1572.5,767.8 1580.8,717.0 1589.1,714.3 1597.3,741.3 1605.6,704.6" fill="none" stroke="#2B6DA9" stroke-width="3.2" stroke-linejoin="round" marker-start="url(#a22)" marker-mid="url(#a22)" marker-end="url(#a22)"/>
<polyline points="233.2,738.2 241.5,737.0 249.7,742.7 258.0,747.4 266.3,752.5 274.5,759.6 282.8,766.2 291.1,764.2 299.3,765.0 307.6,764.2 315.9,765.2 324.1,765.6 332.4,773.5 340.7,781.4 348.9,787.3 357.2,793.3 365.5,802.0 373.7,812.5 382.0,819.0 390.3,814.2 398.5,812.3 406.8,823.3 415.1,836.8 423.4,846.7 431.6,856.0 439.9,863.9 448.2,858.7 456.4,853.9 464.7,850.9 473.0,850.3 481.2,850.1 489.5,858.4 497.8,863.0 506.0,866.3 514.3,869.1 522.6,863.5 530.8,869.0 539.1,883.3 547.4,866.9 555.6,850.2 563.9,855.3 572.2,867.1 580.4,862.1 588.7,852.6 597.0,849.6 605.2,847.2 613.5,845.8 621.8,848.6 630.0,852.5 638.3,861.2 646.6,870.7 654.8,880.6 663.1,860.5 671.4,848.4 679.6,842.1 687.9,842.7 696.2,828.0 704.4,831.0 712.7,821.2 721.0,826.3 729.2,829.0 737.5,821.0 745.8,808.4 754.1,822.7 762.3,797.0 770.6,782.4 778.9,785.5 787.1,783.8 795.4,782.2 803.7,766.2 811.9,762.4 820.2,759.6 828.5,752.5 836.7,746.8 845.0,755.1 853.3,741.8 861.5,735.6 869.8,732.2 878.1,726.2 886.3,747.5 894.6,740.4 902.9,723.0 911.1,751.0 919.4,737.5 927.7,761.4 935.9,730.8 944.2,709.4 952.5,732.9 960.7,755.0 969.0,753.7 977.3,739.8 985.5,774.3 993.8,710.7 1002.1,739.8 1010.3,729.8 1018.6,715.5 1026.9,755.2 1035.1,740.2 1043.4,732.9 1051.7,718.4 1059.9,731.7 1068.2,703.6 1076.5,737.6 1084.7,695.9 1093.0,700.3 1101.3,704.1 1109.6,723.3 1117.8,699.4 1126.1,731.5 1134.4,765.8 1142.6,786.6 1150.9,722.9 1159.2,787.2 1167.4,741.4 1175.7,806.1 1184.0,690.8 1192.2,762.6 1200.5,843.7 1208.8,713.3 1217.0,716.0 1225.3,723.7 1233.6,727.2 1241.8,771.1 1250.1,719.2 1258.4,721.4 1266.6,871.6 1274.9,793.3 1283.2,755.8 1291.4,770.2 1299.7,740.0 1308.0,796.7 1316.2,783.7 1324.5,788.4 1332.8,802.9 1341.0,720.5 1349.3,789.3 1357.6,701.3 1365.8,728.7 1374.1,812.3 1382.4,754.1 1390.6,699.3 1398.9,712.6 1407.2,732.0 1415.4,735.5 1423.7,727.8 1432.0,701.6 1440.3,755.3 1448.5,759.4 1456.8,707.1 1465.1,763.7 1473.3,649.8 1481.6,777.5 1489.9,693.9 1498.1,714.3 1506.4,726.9 1514.7,733.1 1522.9,713.9 1531.2,748.8 1539.5,810.4 1547.7,890.7 1556.0,768.8 1564.3,733.1 1572.5,672.9 1580.8,795.8 1589.1,763.7 1597.3,646.3 1605.6,633.2" fill="none" stroke="#B28600" stroke-width="3.4" stroke-linejoin="round" marker-start="url(#a23)" marker-mid="url(#a23)" marker-end="url(#a23)"/>
<polyline points="233.2,661.7 241.5,664.2 249.7,661.8 258.0,669.1 266.3,663.8 274.5,667.2 282.8,674.3 291.1,673.3 299.3,673.5 307.6,669.5 315.9,675.3 324.1,681.5 332.4,672.7 340.7,672.0 348.9,675.0 357.2,685.7 365.5,685.3 373.7,680.3 382.0,681.4 390.3,686.4 398.5,692.4 406.8,696.0 415.1,697.9 423.4,683.0 431.6,692.0 439.9,694.2 448.2,695.1 456.4,696.0 464.7,702.5 473.0,690.9 481.2,688.8 489.5,687.2 497.8,694.6 506.0,688.1 514.3,701.4 522.6,717.3 530.8,714.6 539.1,709.2 547.4,724.7 555.6,711.3 563.9,717.2 572.2,697.7 580.4,704.3 588.7,698.0 597.0,722.2 605.2,701.2 613.5,712.6 621.8,715.1 630.0,755.2 638.3,734.3 646.6,730.6 654.8,739.4 663.1,737.5 671.4,751.9 679.6,745.9 687.9,733.3 696.2,758.8 704.4,755.8 712.7,766.7 721.0,743.7 729.2,740.5 737.5,748.2 745.8,758.6 754.1,792.6 762.3,743.6 770.6,757.8 778.9,765.3 787.1,739.5 795.4,754.0 803.7,748.5 811.9,758.5 820.2,763.1 828.5,776.4 836.7,750.1 845.0,761.3 853.3,753.0 861.5,747.7 869.8,766.2 878.1,779.0 886.3,752.8 894.6,775.0 902.9,783.0 911.1,753.0 919.4,814.3 927.7,749.0 935.9,787.6 944.2,807.6 952.5,765.1 960.7,792.0 969.0,817.9 977.3,781.2 985.5,768.8 993.8,806.2 1002.1,799.8 1010.3,782.9 1018.6,800.4 1026.9,768.9 1035.1,789.2 1043.4,816.8 1051.7,786.3 1059.9,791.7 1068.2,837.1 1076.5,783.6 1084.7,757.4 1093.0,792.6 1101.3,788.8 1109.6,785.1 1117.8,723.8 1126.1,799.4 1134.4,791.9 1142.6,766.8 1150.9,788.9 1159.2,724.6 1167.4,858.8 1175.7,724.7 1184.0,776.5 1192.2,825.3 1200.5,770.9 1208.8,846.6 1217.0,720.2 1225.3,757.9 1233.6,789.6 1241.8,795.6 1250.1,770.2 1258.4,815.0 1266.6,911.9 1274.9,816.5 1283.2,898.0 1291.4,754.6 1299.7,793.1 1308.0,856.9 1316.2,779.6 1324.5,750.1 1332.8,798.1 1341.0,788.9 1349.3,859.2 1357.6,747.7 1365.8,852.6 1374.1,606.9 1382.4,872.2 1390.6,686.4 1398.9,928.2 1407.2,816.4 1415.4,673.7 1423.7,798.6 1432.0,693.4 1440.3,769.4 1448.5,782.3 1456.8,795.3 1465.1,749.0 1473.3,758.0 1481.6,765.5 1489.9,632.1 1498.1,689.9 1506.4,745.3 1514.7,885.5 1522.9,750.3 1531.2,803.3 1539.5,668.8 1547.7,736.3 1556.0,758.1 1564.3,924.5 1572.5,752.3 1580.8,751.0 1589.1,851.3 1597.3,819.2 1605.6,752.1" fill="none" stroke="#B7D8A1" stroke-width="3.2" stroke-linejoin="round" marker-start="url(#a24)" marker-mid="url(#a24)" marker-end="url(#a24)"/>
<polyline points="233.2,626.6 241.5,630.3 249.7,630.6 258.0,631.0 266.3,630.5 274.5,636.5 282.8,635.9 291.1,637.9 299.3,637.7 307.6,641.8 315.9,637.6 324.1,639.0 332.4,639.8 340.7,640.5 348.9,642.3 357.2,641.2 365.5,637.8 373.7,643.2 382.0,644.0 390.3,643.0 398.5,651.2 406.8,657.3 415.1,661.3 423.4,657.1 431.6,653.3 439.9,661.5 448.2,658.6 456.4,662.2 464.7,658.6 473.0,667.2 481.2,661.7 489.5,660.2 497.8,664.1 506.0,659.8 514.3,665.0 522.6,675.9 530.8,678.7 539.1,685.9 547.4,687.0 555.6,688.0 563.9,695.6 572.2,691.9 580.4,691.9 588.7,689.2 597.0,695.0 605.2,706.6 613.5,699.6 621.8,689.0 630.0,682.3 638.3,692.8 646.6,707.9 654.8,706.4 663.1,711.3 671.4,708.1 679.6,704.1 687.9,701.9 696.2,701.8 704.4,704.8 712.7,707.2 721.0,703.4 729.2,717.5 737.5,715.8 745.8,727.5 754.1,736.6 762.3,740.9 770.6,725.6 778.9,744.4 787.1,736.0 795.4,736.6 803.7,733.4 811.9,716.6 820.2,706.9 828.5,699.2 836.7,734.6 845.0,733.2 853.3,732.4 861.5,733.9 869.8,733.5 878.1,753.5 886.3,750.4 894.6,733.3 902.9,717.1 911.1,716.7 919.4,724.9 927.7,742.7 935.9,752.8 944.2,700.7 952.5,728.9 960.7,746.8 969.0,707.8 977.3,771.6 985.5,746.8 993.8,758.4 1002.1,743.1 1010.3,712.4 1018.6,770.3 1026.9,731.8 1035.1,737.2 1043.4,777.4 1051.7,719.7 1059.9,775.9 1068.2,714.9 1076.5,742.4 1084.7,727.9 1093.0,809.7 1101.3,707.9 1109.6,822.5 1117.8,741.0 1126.1,818.1 1134.4,703.7 1142.6,741.8 1150.9,802.1 1159.2,815.9 1167.4,805.1 1175.7,654.3 1184.0,775.6 1192.2,607.5 1200.5,823.8 1208.8,756.4 1217.0,768.8 1225.3,649.3 1233.6,751.0 1241.8,661.7 1250.1,685.1 1258.4,701.6 1266.6,665.2 1274.9,729.9 1283.2,801.8 1291.4,767.7 1299.7,701.0 1308.0,716.5 1316.2,832.5 1324.5,818.0 1332.8,821.9 1341.0,672.6 1349.3,767.2 1357.6,757.7 1365.8,641.4 1374.1,804.9 1382.4,767.3 1390.6,1182.6 1398.9,848.2 1407.2,1131.5 1415.4,707.0 1423.7,736.9 1432.0,728.5 1440.3,643.9 1448.5,716.8 1456.8,861.9 1465.1,841.3 1473.3,888.1 1481.6,760.1 1489.9,661.0 1498.1,699.0 1506.4,611.7 1514.7,812.4 1522.9,993.5 1531.2,717.9 1539.5,605.3 1547.7,791.3 1556.0,761.6 1564.3,782.1 1572.5,693.4 1580.8,682.6 1589.1,530.3 1597.3,741.8 1605.6,790.3" fill="none" stroke="#5B9BD5" stroke-width="3.4" stroke-linejoin="round" marker-start="url(#a25)" marker-mid="url(#a25)" marker-end="url(#a25)"/>
<polyline points="233.2,667.0 241.5,671.9 249.7,671.9 258.0,672.3 266.3,680.6 274.5,683.3 282.8,685.3 291.1,682.6 299.3,679.7 307.6,679.7 315.9,687.7 324.1,687.5 332.4,688.8 340.7,686.3 348.9,695.4 357.2,697.8 365.5,696.2 373.7,691.9 382.0,700.9 390.3,705.2 398.5,707.9 406.8,710.0 415.1,713.0 423.4,711.8 431.6,708.1 439.9,706.5 448.2,710.6 456.4,722.8 464.7,720.4 473.0,723.7 481.2,726.2 489.5,720.7 497.8,724.2 506.0,732.5 514.3,732.0 522.6,738.0 530.8,740.0 539.1,745.8 547.4,752.4 555.6,753.3 563.9,750.9 572.2,758.1 580.4,755.7 588.7,748.8 597.0,763.3 605.2,754.6 613.5,763.0 621.8,766.8 630.0,775.4 638.3,766.5 646.6,750.1 654.8,756.7 663.1,781.1 671.4,783.6 679.6,798.3 687.9,795.4 696.2,794.2 704.4,785.6 712.7,770.1 721.0,765.6 729.2,786.8 737.5,782.9 745.8,779.9 754.1,806.2 762.3,804.0 770.6,787.0 778.9,787.5 787.1,817.0 795.4,804.5 803.7,813.4 811.9,796.7 820.2,821.8 828.5,826.9 836.7,789.5 845.0,775.8 853.3,783.8 861.5,778.5 869.8,794.0 878.1,795.6 886.3,811.9 894.6,802.7 902.9,803.0 911.1,823.7 919.4,777.0 927.7,809.4 935.9,803.2 944.2,797.0 952.5,853.6 960.7,794.6 969.0,814.7 977.3,830.3 985.5,795.6 993.8,849.5 1002.1,821.5 1010.3,840.4 1018.6,837.2 1026.9,784.7 1035.1,816.8 1043.4,826.7 1051.7,835.5 1059.9,755.2 1068.2,807.9 1076.5,824.1 1084.7,855.5 1093.0,781.4 1101.3,812.9 1109.6,829.4 1117.8,790.6 1126.1,850.3 1134.4,826.5 1142.6,766.7 1150.9,858.3 1159.2,895.5 1167.4,827.3 1175.7,826.8 1184.0,932.3 1192.2,890.0 1200.5,855.3 1208.8,789.1 1217.0,820.1 1225.3,855.6 1233.6,817.2 1241.8,876.0 1250.1,896.8 1258.4,944.8 1266.6,894.3 1274.9,846.7 1283.2,876.8 1291.4,870.3 1299.7,767.5 1308.0,781.8 1316.2,902.0 1324.5,920.4 1332.8,818.5 1341.0,928.2 1349.3,877.3 1357.6,899.3 1365.8,843.0 1374.1,970.7 1382.4,994.2 1390.6,855.4 1398.9,807.8 1407.2,939.7 1415.4,802.5 1423.7,846.0 1432.0,725.8 1440.3,853.7 1448.5,881.8 1456.8,808.0 1465.1,1003.8 1473.3,799.0 1481.6,832.1 1489.9,1007.2 1498.1,875.0 1506.4,866.5 1514.7,961.7 1522.9,869.4 1531.2,957.1 1539.5,908.3 1547.7,943.2 1556.0,850.2 1564.3,649.5 1572.5,712.9 1580.8,887.9 1589.1,935.8 1597.3,861.5 1605.6,820.7" fill="none" stroke="#FFC000" stroke-width="3.4" stroke-linejoin="round" marker-start="url(#a26)" marker-mid="url(#a26)" marker-end="url(#a26)"/>
<polyline points="233.2,705.5 241.5,709.2 249.7,713.2 258.0,709.8 266.3,706.3 274.5,707.7 282.8,716.3 291.1,708.4 299.3,706.7 307.6,705.8 315.9,709.1 324.1,717.2 332.4,717.6 340.7,713.9 348.9,713.3 357.2,711.8 365.5,711.2 373.7,709.9 382.0,718.7 390.3,715.1 398.5,721.0 406.8,720.4 415.1,722.2 423.4,729.1 431.6,721.8 439.9,721.8 448.2,724.6 456.4,725.6 464.7,735.6 473.0,729.7 481.2,732.4 489.5,728.9 497.8,745.0 506.0,746.3 514.3,742.2 522.6,747.3 530.8,744.8 539.1,752.0 547.4,737.3 555.6,747.4 563.9,748.5 572.2,737.2 580.4,748.3 588.7,753.8 597.0,774.0 605.2,751.5 613.5,750.2 621.8,750.3 630.0,730.1 638.3,733.1 646.6,738.1 654.8,739.9 663.1,749.7 671.4,759.5 679.6,765.6 687.9,767.2 696.2,773.0 704.4,769.3 712.7,751.6 721.0,734.4 729.2,756.9 737.5,767.1 745.8,777.0 754.1,755.8 762.3,769.6 770.6,769.9 778.9,759.2 787.1,777.5 795.4,806.9 803.7,791.2 811.9,760.1 820.2,782.1 828.5,764.8 836.7,784.5 845.0,784.0 853.3,766.1 861.5,792.5 869.8,775.6 878.1,801.0 886.3,799.1 894.6,797.7 902.9,770.8 911.1,804.7 919.4,795.4 927.7,783.4 935.9,806.3 944.2,816.7 952.5,809.6 960.7,757.1 969.0,797.3 977.3,784.8 985.5,784.0 993.8,783.3 1002.1,776.8 1010.3,781.3 1018.6,779.7 1026.9,782.6 1035.1,844.4 1043.4,789.0 1051.7,805.2 1059.9,766.5 1068.2,786.6 1076.5,807.4 1084.7,777.1 1093.0,845.4 1101.3,763.8 1109.6,828.5 1117.8,796.9 1126.1,734.9 1134.4,787.8 1142.6,773.9 1150.9,758.1 1159.2,757.7 1167.4,728.1 1175.7,852.7 1184.0,737.6 1192.2,790.0 1200.5,742.4 1208.8,864.5 1217.0,773.1 1225.3,856.2 1233.6,830.3 1241.8,792.6 1250.1,726.5 1258.4,813.4 1266.6,716.7 1274.9,705.0 1283.2,732.8 1291.4,683.4 1299.7,813.1 1308.0,724.2 1316.2,759.0 1324.5,751.2 1332.8,744.2 1341.0,724.4 1349.3,806.2 1357.6,720.6 1365.8,772.1 1374.1,931.0 1382.4,751.0 1390.6,794.9 1398.9,735.4 1407.2,853.5 1415.4,637.3 1423.7,722.1 1432.0,757.3 1440.3,747.5 1448.5,666.1 1456.8,757.0 1465.1,675.0 1473.3,716.9 1481.6,814.0 1489.9,689.0 1498.1,724.5 1506.4,616.0 1514.7,628.4 1522.9,893.0 1531.2,646.1 1539.5,733.5 1547.7,795.1 1556.0,685.3 1564.3,850.4 1572.5,769.7 1580.8,860.5 1589.1,744.4 1597.3,721.1 1605.6,735.0" fill="none" stroke="#43682B" stroke-width="3.2" stroke-linejoin="round" marker-start="url(#a27)" marker-mid="url(#a27)" marker-end="url(#a27)"/>
<polyline points="233.2,662.8 241.5,659.4 249.7,664.9 258.0,657.6 266.3,658.7 274.5,661.6 282.8,668.2 291.1,670.7 299.3,674.5 307.6,677.2 315.9,681.6 324.1,678.0 332.4,676.1 340.7,681.9 348.9,677.7 357.2,685.3 365.5,682.3 373.7,682.7 382.0,675.8 390.3,682.0 398.5,689.9 406.8,686.9 415.1,688.7 423.4,691.7 431.6,689.3 439.9,698.3 448.2,690.5 456.4,684.4 464.7,699.1 473.0,707.4 481.2,694.3 489.5,705.7 497.8,701.5 506.0,709.7 514.3,708.8 522.6,719.3 530.8,707.2 539.1,714.1 547.4,725.6 555.6,734.0 563.9,729.7 572.2,727.2 580.4,741.3 588.7,739.1 597.0,745.3 605.2,754.3 613.5,756.3 621.8,740.7 630.0,749.7 638.3,761.5 646.6,763.8 654.8,753.2 663.1,764.3 671.4,767.6 679.6,794.2 687.9,783.0 696.2,767.3 704.4,770.3 712.7,786.2 721.0,778.4 729.2,786.0 737.5,795.0 745.8,799.2 754.1,789.5 762.3,822.8 770.6,798.3 778.9,817.7 787.1,803.5 795.4,809.6 803.7,768.5 811.9,801.9 820.2,809.2 828.5,787.5 836.7,788.5 845.0,785.9 853.3,790.8 861.5,795.9 869.8,796.3 878.1,802.7 886.3,844.9 894.6,832.9 902.9,843.0 911.1,824.0 919.4,848.0 927.7,820.2 935.9,842.7 944.2,776.7 952.5,854.7 960.7,850.2 969.0,833.8 977.3,848.4 985.5,808.7 993.8,830.1 1002.1,859.3 1010.3,816.0 1018.6,822.8 1026.9,795.9 1035.1,777.9 1043.4,847.3 1051.7,816.1 1059.9,810.8 1068.2,866.9 1076.5,850.1 1084.7,840.4 1093.0,892.1 1101.3,917.1 1109.6,791.0 1117.8,815.8 1126.1,921.0 1134.4,865.9 1142.6,803.1 1150.9,866.5 1159.2,846.4 1167.4,993.5 1175.7,941.2 1184.0,907.3 1192.2,816.8 1200.5,910.6 1208.8,803.4 1217.0,917.0 1225.3,865.6 1233.6,802.1 1241.8,733.5 1250.1,782.6 1258.4,792.9 1266.6,815.1 1274.9,966.2 1283.2,782.7 1291.4,839.7 1299.7,864.2 1308.0,743.5 1316.2,817.0 1324.5,894.8 1332.8,717.6 1341.0,769.3 1349.3,781.9 1357.6,789.2 1365.8,889.6 1374.1,789.7 1382.4,913.7 1390.6,874.3 1398.9,881.5 1407.2,800.8 1415.4,827.0 1423.7,856.2 1432.0,739.1 1440.3,909.0 1448.5,913.5 1456.8,647.3 1465.1,745.1 1473.3,838.0 1481.6,790.0 1489.9,821.8 1498.1,815.1 1506.4,781.6 1514.7,791.0 1522.9,940.5 1531.2,796.1 1539.5,768.6 1547.7,909.1 1556.0,840.6 1564.3,882.1 1572.5,768.2 1580.8,881.5 1589.1,820.2 1597.3,872.4 1605.6,841.8" fill="none" stroke="#255E91" stroke-width="3.2" stroke-linejoin="round" marker-start="url(#a28)" marker-mid="url(#a28)" marker-end="url(#a28)"/>
<polyline points="233.2,715.0 241.5,717.1 249.7,714.9 258.0,716.9 266.3,715.1 274.5,716.8 282.8,716.2 291.1,717.4 299.3,720.5 307.6,719.3 315.9,720.8 324.1,719.8 332.4,717.8 340.7,721.7 348.9,727.0 357.2,719.6 365.5,718.9 373.7,723.2 382.0,719.9 390.3,720.6 398.5,728.5 406.8,733.1 415.1,727.6 423.4,732.6 431.6,727.6 439.9,730.2 448.2,733.8 456.4,737.9 464.7,747.6 473.0,739.7 481.2,744.9 489.5,742.9 497.8,738.9 506.0,744.1 514.3,749.1 522.6,749.5 530.8,744.2 539.1,749.8 547.4,751.6 555.6,759.8 563.9,754.5 572.2,749.5 580.4,750.8 588.7,749.2 597.0,755.6 605.2,762.1 613.5,762.6 621.8,763.7 630.0,776.3 638.3,782.2 646.6,767.3 654.8,771.6 663.1,772.1 671.4,779.5 679.6,771.2 687.9,758.5 696.2,757.0 704.4,765.1 712.7,780.9 721.0,772.0 729.2,794.9 737.5,776.2 745.8,788.4 754.1,791.8 762.3,810.1 770.6,784.0 778.9,774.0 787.1,774.0 795.4,801.8 803.7,797.7 811.9,806.4 820.2,795.2 828.5,782.1 836.7,756.6 845.0,769.9 853.3,795.3 861.5,773.6 869.8,790.0 878.1,764.0 886.3,798.9 894.6,779.8 902.9,793.8 911.1,811.3 919.4,767.4 927.7,799.7 935.9,773.4 944.2,788.3 952.5,780.6 960.7,811.1 969.0,779.8 977.3,766.4 985.5,792.7 993.8,829.1 1002.1,814.3 1010.3,822.8 1018.6,802.7 1026.9,785.5 1035.1,829.9 1043.4,796.9 1051.7,782.4 1059.9,832.1 1068.2,810.0 1076.5,771.2 1084.7,855.0 1093.0,814.6 1101.3,736.2 1109.6,751.6 1117.8,810.9 1126.1,871.5 1134.4,807.5 1142.6,835.8 1150.9,815.7 1159.2,791.0 1167.4,892.0 1175.7,793.6 1184.0,762.1 1192.2,788.0 1200.5,833.9 1208.8,759.7 1217.0,934.1 1225.3,829.3 1233.6,780.5 1241.8,805.6 1250.1,814.5 1258.4,884.3 1266.6,806.5 1274.9,819.7 1283.2,828.2 1291.4,849.6 1299.7,798.4 1308.0,845.5 1316.2,782.4 1324.5,847.1 1332.8,754.0 1341.0,869.0 1349.3,857.6 1357.6,791.9 1365.8,919.0 1374.1,760.4 1382.4,689.3 1390.6,726.6 1398.9,830.2 1407.2,833.7 1415.4,869.3 1423.7,787.3 1432.0,733.7 1440.3,743.9 1448.5,676.7 1456.8,632.4 1465.1,761.5 1473.3,702.8 1481.6,729.4 1489.9,792.8 1498.1,875.0 1506.4,924.4 1514.7,793.0 1522.9,781.7 1531.2,744.3 1539.5,646.7 1547.7,837.2 1556.0,780.3 1564.3,830.8 1572.5,690.5 1580.8,964.4 1589.1,851.9 1597.3,630.8 1605.6,957.0" fill="none" stroke="#997300" stroke-width="3.4" stroke-linejoin="round" marker-start="url(#a29)" marker-mid="url(#a29)" marker-end="url(#a29)"/>
<polyline points="233.2,457.1 241.5,458.2 249.7,459.6 258.0,462.2 266.3,464.9 274.5,465.6 282.8,469.5 291.1,472.4 299.3,474.1 307.6,476.2 315.9,473.3 324.1,475.4 332.4,479.3 340.7,484.7 348.9,486.3 357.2,491.7 365.5,499.5 373.7,499.3 382.0,501.9 390.3,501.4 398.5,500.0 406.8,500.9 415.1,505.3 423.4,503.2 431.6,511.0 439.9,522.4 448.2,522.3 456.4,522.5 464.7,533.3 473.0,541.7 481.2,547.7 489.5,540.6 497.8,533.7 506.0,542.5 514.3,549.0 522.6,558.3 530.8,558.0 539.1,563.1 547.4,574.9 555.6,575.6 563.9,567.0 572.2,569.8 580.4,577.3 588.7,584.7 597.0,579.5 605.2,575.8 613.5,587.5 621.8,576.9 630.0,578.9 638.3,597.2 646.6,586.9 654.8,596.8 663.1,605.2 671.4,593.5 679.6,572.6 687.9,591.8 696.2,591.2 704.4,584.1 712.7,623.7 721.0,612.8 729.2,615.8 737.5,615.9 745.8,630.4 754.1,609.8 762.3,618.1 770.6,620.9 778.9,636.0 787.1,629.4 795.4,614.2 803.7,622.9 811.9,599.8 820.2,619.1 828.5,618.0 836.7,619.6 845.0,635.1 853.3,635.5 861.5,621.9 869.8,623.4 878.1,614.7 886.3,636.0 894.6,634.9 902.9,612.4 911.1,642.6 919.4,641.1 927.7,641.6 935.9,638.9 944.2,617.2 952.5,623.5 960.7,613.5 969.0,645.9 977.3,638.6 985.5,631.1 993.8,648.1 1002.1,651.6 1010.3,634.5 1018.6,626.3 1026.9,638.6 1035.1,620.7 1043.4,638.5 1051.7,616.6 1059.9,643.6 1068.2,635.4 1076.5,643.3 1084.7,658.4 1093.0,634.2 1101.3,664.4 1109.6,640.7 1117.8,655.8 1126.1,638.4 1134.4,638.6 1142.6,631.4 1150.9,671.2 1159.2,650.3 1167.4,624.4 1175.7,624.6 1184.0,637.1 1192.2,676.1 1200.5,698.4 1208.8,639.7 1217.0,617.7 1225.3,635.2 1233.6,661.5 1241.8,648.9 1250.1,574.3 1258.4,659.7 1266.6,652.9 1274.9,657.4 1283.2,585.5 1291.4,608.7 1299.7,590.6 1308.0,665.5 1316.2,646.1 1324.5,677.0 1332.8,619.3 1341.0,685.4 1349.3,621.8 1357.6,599.3 1365.8,570.2 1374.1,592.9 1382.4,582.2 1390.6,668.7 1398.9,604.0 1407.2,581.3 1415.4,567.5 1423.7,590.4 1432.0,632.2 1440.3,646.8 1448.5,726.7 1456.8,678.0 1465.1,634.6 1473.3,666.0 1481.6,553.6 1489.9,645.3 1498.1,715.3 1506.4,681.6 1514.7,604.9 1522.9,569.4 1531.2,667.6 1539.5,607.8 1547.7,652.3 1556.0,589.7 1564.3,636.2 1572.5,578.5 1580.8,551.6 1589.1,625.4 1597.3,583.7 1605.6,589.0" fill="none" stroke="#548235" stroke-width="3.4" stroke-linejoin="round" marker-start="url(#a30)" marker-mid="url(#a30)" marker-end="url(#a30)"/>
<polyline points="233.2,680.5 241.5,682.1 249.7,684.8 258.0,689.1 266.3,693.3 274.5,679.3 282.8,676.6 291.1,679.6 299.3,687.6 307.6,690.5 315.9,691.9 324.1,692.2 332.4,686.1 340.7,685.6 348.9,697.7 357.2,701.8 365.5,700.8 373.7,700.6 382.0,696.6 390.3,694.8 398.5,695.0 406.8,696.3 415.1,694.5 423.4,692.2 431.6,698.9 439.9,707.5 448.2,708.0 456.4,709.2 464.7,709.0 473.0,706.9 481.2,720.3 489.5,726.6 497.8,715.0 506.0,712.2 514.3,706.6 522.6,697.7 530.8,719.3 539.1,719.0 547.4,718.3 555.6,716.7 563.9,706.5 572.2,696.4 580.4,706.0 588.7,737.6 597.0,735.3 605.2,755.0 613.5,729.1 621.8,711.9 630.0,736.1 638.3,729.5 646.6,740.9 654.8,739.8 663.1,744.4 671.4,761.1 679.6,780.6 687.9,777.8 696.2,768.6 704.4,779.5 712.7,753.9 721.0,754.6 729.2,772.7 737.5,750.1 745.8,751.8 754.1,747.2 762.3,772.6 770.6,755.8 778.9,770.8 787.1,781.6 795.4,760.6 803.7,790.1 811.9,775.0 820.2,759.8 828.5,750.4 836.7,758.1 845.0,779.8 853.3,788.4 861.5,804.7 869.8,746.8 878.1,772.3 886.3,800.7 894.6,777.8 902.9,782.1 911.1,803.7 919.4,794.0 927.7,806.2 935.9,770.5 944.2,817.7 952.5,774.2 960.7,781.6 969.0,799.6 977.3,823.6 985.5,785.2 993.8,798.0 1002.1,759.9 1010.3,776.7 1018.6,822.1 1026.9,798.2 1035.1,771.6 1043.4,792.1 1051.7,774.9 1059.9,778.2 1068.2,853.0 1076.5,759.3 1084.7,771.1 1093.0,791.0 1101.3,751.8 1109.6,828.0 1117.8,740.4 1126.1,814.4 1134.4,802.8 1142.6,895.0 1150.9,839.3 1159.2,772.8 1167.4,718.2 1175.7,863.2 1184.0,786.5 1192.2,813.9 1200.5,669.0 1208.8,739.0 1217.0,848.5 1225.3,745.9 1233.6,825.5 1241.8,832.0 1250.1,877.0 1258.4,909.2 1266.6,775.5 1274.9,946.6 1283.2,839.1 1291.4,781.0 1299.7,809.1 1308.0,970.0 1316.2,757.9 1324.5,633.7 1332.8,799.1 1341.0,867.5 1349.3,804.7 1357.6,646.6 1365.8,817.5 1374.1,773.7 1382.4,877.4 1390.6,707.7 1398.9,709.3 1407.2,757.6 1415.4,688.3 1423.7,846.6 1432.0,674.9 1440.3,787.9 1448.5,772.6 1456.8,814.7 1465.1,704.1 1473.3,696.2 1481.6,806.0 1489.9,877.2 1498.1,617.5 1506.4,620.3 1514.7,631.6 1522.9,819.5 1531.2,486.0 1539.5,849.0 1547.7,804.6 1556.0,744.4 1564.3,648.1 1572.5,618.4 1580.8,703.4 1589.1,845.9 1597.3,770.0 1605.6,756.4" fill="none" stroke="#8CC168" stroke-width="3.2" stroke-linejoin="round" marker-start="url(#a31)" marker-mid="url(#a31)" marker-end="url(#a31)"/>
<polyline points="233.2,716.4 241.5,713.3 249.7,714.8 258.0,716.9 266.3,715.2 274.5,715.7 282.8,717.5 291.1,720.9 299.3,728.3 307.6,725.2 315.9,730.0 324.1,728.5 332.4,734.8 340.7,727.7 348.9,735.8 357.2,735.5 365.5,732.6 373.7,733.0 382.0,728.1 390.3,732.3 398.5,736.2 406.8,742.0 415.1,734.8 423.4,734.9 431.6,746.0 439.9,743.2 448.2,748.7 456.4,761.0 464.7,758.5 473.0,756.5 481.2,756.2 489.5,745.8 497.8,750.9 506.0,763.4 514.3,767.2 522.6,763.4 530.8,767.0 539.1,776.6 547.4,764.3 555.6,775.1 563.9,783.6 572.2,773.2 580.4,771.9 588.7,775.6 597.0,788.1 605.2,775.8 613.5,780.0 621.8,782.0 630.0,792.5 638.3,795.8 646.6,808.2 654.8,807.0 663.1,809.8 671.4,807.2 679.6,821.8 687.9,821.7 696.2,823.3 704.4,819.2 712.7,830.5 721.0,817.1 729.2,823.4 737.5,812.5 745.8,823.5 754.1,805.3 762.3,807.9 770.6,799.6 778.9,817.4 787.1,800.8 795.4,794.8 803.7,827.5 811.9,821.3 820.2,816.1 828.5,838.3 836.7,802.7 845.0,834.9 853.3,822.5 861.5,828.6 869.8,822.6 878.1,864.4 886.3,806.9 894.6,853.4 902.9,844.5 911.1,885.5 919.4,799.6 927.7,854.4 935.9,856.6 944.2,828.9 952.5,811.7 960.7,834.6 969.0,873.8 977.3,883.8 985.5,890.0 993.8,889.4 1002.1,885.5 1010.3,868.4 1018.6,793.3 1026.9,797.5 1035.1,829.1 1043.4,843.1 1051.7,811.1 1059.9,832.8 1068.2,828.6 1076.5,893.9 1084.7,905.9 1093.0,877.8 1101.3,903.6 1109.6,848.8 1117.8,873.8 1126.1,931.0 1134.4,873.5 1142.6,920.0 1150.9,891.9 1159.2,1070.3 1167.4,905.8 1175.7,935.6 1184.0,818.8 1192.2,783.5 1200.5,866.0 1208.8,793.1 1217.0,810.7 1225.3,855.9 1233.6,849.1 1241.8,964.5 1250.1,749.8 1258.4,752.2 1266.6,828.7 1274.9,883.5 1283.2,899.0 1291.4,830.4 1299.7,868.9 1308.0,795.1 1316.2,854.5 1324.5,786.2 1332.8,841.8 1341.0,754.7 1349.3,694.5 1357.6,772.4 1365.8,988.1 1374.1,894.8 1382.4,783.0 1390.6,755.2 1398.9,694.2 1407.2,700.5 1415.4,608.5 1423.7,909.4 1432.0,826.7 1440.3,684.3 1448.5,884.6 1456.8,769.3 1465.1,758.4 1473.3,844.0 1481.6,1011.5 1489.9,761.5 1498.1,694.8 1506.4,717.0 1514.7,825.5 1522.9,765.0 1531.2,680.9 1539.5,720.2 1547.7,770.6 1556.0,876.5 1564.3,519.2 1572.5,907.9 1580.8,714.5 1589.1,811.1 1597.3,865.6 1605.6,674.7" fill="none" stroke="#ADCDEA" stroke-width="3.2" stroke-linejoin="round" marker-start="url(#a32)" marker-mid="url(#a32)" marker-end="url(#a32)"/>
<polyline points="233.2,771.9 241.5,777.8 249.7,785.6 258.0,787.1 266.3,782.5 274.5,784.8 282.8,790.3 291.1,790.1 299.3,795.0 307.6,802.8 315.9,803.7 324.1,800.1 332.4,809.8 340.7,815.2 348.9,823.0 357.2,827.6 365.5,825.8 373.7,795.9 382.0,813.2 390.3,821.2 398.5,832.1 406.8,839.2 415.1,855.2 423.4,842.9 431.6,843.2 439.9,845.5 448.2,853.4 456.4,854.2 464.7,853.3 473.0,850.4 481.2,841.2 489.5,837.8 497.8,829.8 506.0,849.5 514.3,859.0 522.6,861.6 530.8,860.1 539.1,849.2 547.4,875.3 555.6,861.5 563.9,860.6 572.2,862.9 580.4,876.8 588.7,898.4 597.0,870.6 605.2,857.4 613.5,848.2 621.8,876.6 630.0,897.0 638.3,888.9 646.6,879.1 654.8,902.0 663.1,864.7 671.4,867.2 679.6,895.8 687.9,893.4 696.2,884.5 704.4,863.1 712.7,909.2 721.0,953.6 729.2,975.3 737.5,973.1 745.8,1005.7 754.1,969.5 762.3,921.1 770.6,919.5 778.9,857.9 787.1,865.2 795.4,929.7 803.7,854.3 811.9,838.3 820.2,845.5 828.5,900.7 836.7,867.2 845.0,915.4 853.3,891.4 861.5,914.6 869.8,928.3 878.1,842.1 886.3,920.0 894.6,947.3 902.9,956.0 911.1,978.6 919.4,889.8 927.7,894.4 935.9,957.4 944.2,861.0 952.5,911.0 960.7,952.7 969.0,908.9 977.3,930.5 985.5,935.0 993.8,892.5 1002.1,924.6 1010.3,918.5 1018.6,921.7 1026.9,890.1 1035.1,924.9 1043.4,887.9 1051.7,922.7 1059.9,897.3 1068.2,888.3 1076.5,939.6 1084.7,863.8 1093.0,884.2 1101.3,907.4 1109.6,903.5 1117.8,857.6 1126.1,925.5 1134.4,887.1 1142.6,959.5 1150.9,1039.7 1159.2,732.0 1167.4,825.1 1175.7,887.3 1184.0,945.3 1192.2,786.5 1200.5,950.0 1208.8,851.7 1217.0,881.7 1225.3,876.5 1233.6,858.2 1241.8,786.3 1250.1,871.7 1258.4,927.4 1266.6,828.0 1274.9,737.7 1283.2,825.0 1291.4,732.3 1299.7,1125.4 1308.0,960.2 1316.2,855.8 1324.5,837.6 1332.8,794.3 1341.0,975.4 1349.3,787.4 1357.6,844.3 1365.8,869.7 1374.1,874.1 1382.4,798.4 1390.6,780.3 1398.9,794.3 1407.2,635.4 1415.4,790.4 1423.7,803.4 1432.0,866.0 1440.3,771.0 1448.5,805.6 1456.8,848.7 1465.1,887.2 1473.3,781.5 1481.6,736.9 1489.9,788.4 1498.1,774.6 1506.4,735.0 1514.7,759.2 1522.9,787.6 1531.2,704.7 1539.5,719.8 1547.7,606.2 1556.0,797.6 1564.3,863.4 1572.5,1131.5 1580.8,805.3 1589.1,997.2 1597.3,903.0 1605.6,992.3" fill="none" stroke="#9DC3E6" stroke-width="3.2" stroke-linejoin="round" marker-start="url(#a33)" marker-mid="url(#a33)" marker-end="url(#a33)"/>
<polyline points="233.2,645.5 241.5,645.4 249.7,649.0 258.0,648.7 266.3,648.4 274.5,657.6 282.8,664.6 291.1,666.5 299.3,670.5 307.6,660.3 315.9,663.6 324.1,660.1 332.4,657.8 340.7,663.7 348.9,675.3 357.2,676.1 365.5,674.2 373.7,665.5 382.0,687.6 390.3,675.6 398.5,680.1 406.8,690.6 415.1,688.8 423.4,694.8 431.6,699.9 439.9,689.7 448.2,689.8 456.4,700.3 464.7,697.3 473.0,691.9 481.2,706.3 489.5,718.3 497.8,715.9 506.0,718.4 514.3,706.1 522.6,713.3 530.8,724.2 539.1,725.0 547.4,739.9 555.6,739.6 563.9,725.6 572.2,747.1 580.4,724.6 588.7,738.2 597.0,725.9 605.2,715.5 613.5,718.8 621.8,726.1 630.0,725.6 638.3,715.8 646.6,723.8 654.8,748.7 663.1,740.6 671.4,765.6 679.6,750.4 687.9,748.7 696.2,752.0 704.4,756.0 712.7,749.6 721.0,755.7 729.2,730.1 737.5,714.2 745.8,744.7 754.1,738.7 762.3,742.9 770.6,723.4 778.9,752.5 787.1,746.5 795.4,745.0 803.7,750.4 811.9,708.6 820.2,743.4 828.5,731.0 836.7,743.0 845.0,747.7 853.3,751.9 861.5,743.7 869.8,744.9 878.1,748.1 886.3,722.1 894.6,730.6 902.9,752.3 911.1,719.2 919.4,723.5 927.7,789.7 935.9,750.5 944.2,733.8 952.5,790.8 960.7,730.4 969.0,784.2 977.3,706.8 985.5,747.2 993.8,750.8 1002.1,711.8 1010.3,769.6 1018.6,759.3 1026.9,738.3 1035.1,785.0 1043.4,712.1 1051.7,723.9 1059.9,783.7 1068.2,730.1 1076.5,790.7 1084.7,755.1 1093.0,860.3 1101.3,728.2 1109.6,863.2 1117.8,713.1 1126.1,787.5 1134.4,912.6 1142.6,823.9 1150.9,680.7 1159.2,762.7 1167.4,883.5 1175.7,714.8 1184.0,838.7 1192.2,839.3 1200.5,846.4 1208.8,930.6 1217.0,788.8 1225.3,692.3 1233.6,1182.6 1241.8,762.3 1250.1,689.9 1258.4,739.7 1266.6,819.0 1274.9,936.5 1283.2,741.8 1291.4,823.5 1299.7,882.2 1308.0,841.1 1316.2,1203.0 1324.5,784.2 1332.8,1023.6 1341.0,577.0 1349.3,716.3 1357.6,735.4 1365.8,1023.3 1374.1,731.0 1382.4,815.5 1390.6,918.4 1398.9,782.1 1407.2,873.1 1415.4,708.6 1423.7,825.4 1432.0,952.2 1440.3,645.1 1448.5,556.2 1456.8,856.7 1465.1,906.0 1473.3,793.3 1481.6,685.9 1489.9,852.7 1498.1,781.3 1506.4,814.0 1514.7,1194.8 1522.9,842.4 1531.2,740.6 1539.5,733.9 1547.7,1235.6 1556.0,562.0 1564.3,783.5 1572.5,997.6 1580.8,760.5 1589.1,792.2 1597.3,859.0 1605.6,828.3" fill="none" stroke="#FFCD33" stroke-width="3.2" stroke-linejoin="round" marker-start="url(#a34)" marker-mid="url(#a34)" marker-end="url(#a34)"/>
<polyline points="233.2,680.4 241.5,682.6 249.7,682.1 258.0,687.6 266.3,687.3 274.5,688.6 282.8,687.1 291.1,695.4 299.3,698.2 307.6,700.5 315.9,705.5 324.1,704.9 332.4,703.2 340.7,702.4 348.9,702.0 357.2,714.6 365.5,714.5 373.7,721.8 382.0,714.5 390.3,718.8 398.5,725.2 406.8,726.7 415.1,731.0 423.4,726.9 431.6,725.1 439.9,723.0 448.2,735.5 456.4,731.1 464.7,744.4 473.0,747.2 481.2,753.0 489.5,748.6 497.8,757.4 506.0,737.3 514.3,739.3 522.6,725.8 530.8,742.1 539.1,739.2 547.4,760.6 555.6,769.2 563.9,770.8 572.2,760.3 580.4,768.7 588.7,764.0 597.0,770.1 605.2,785.2 613.5,792.1 621.8,783.7 630.0,786.5 638.3,792.0 646.6,789.8 654.8,796.5 663.1,777.9 671.4,811.8 679.6,793.6 687.9,820.6 696.2,811.0 704.4,797.7 712.7,801.7 721.0,797.2 729.2,797.1 737.5,795.5 745.8,835.0 754.1,805.1 762.3,797.3 770.6,804.4 778.9,825.6 787.1,818.3 795.4,820.5 803.7,800.4 811.9,814.4 820.2,800.0 828.5,788.4 836.7,794.7 845.0,807.7 853.3,797.5 861.5,805.6 869.8,808.5 878.1,789.2 886.3,813.8 894.6,816.6 902.9,816.0 911.1,812.6 919.4,795.7 927.7,806.8 935.9,826.4 944.2,844.8 952.5,875.6 960.7,800.3 969.0,827.7 977.3,875.9 985.5,753.0 993.8,754.1 1002.1,847.2 1010.3,831.9 1018.6,770.0 1026.9,775.3 1035.1,816.8 1043.4,768.1 1051.7,943.1 1059.9,833.2 1068.2,840.6 1076.5,794.1 1084.7,785.5 1093.0,860.9 1101.3,863.3 1109.6,843.0 1117.8,954.1 1126.1,767.6 1134.4,742.6 1142.6,888.6 1150.9,952.2 1159.2,875.1 1167.4,1029.7 1175.7,823.6 1184.0,842.1 1192.2,849.4 1200.5,913.9 1208.8,760.8 1217.0,779.4 1225.3,819.9 1233.6,1076.8 1241.8,886.3 1250.1,766.0 1258.4,917.6 1266.6,823.6 1274.9,790.5 1283.2,861.0 1291.4,920.5 1299.7,760.6 1308.0,928.3 1316.2,1017.3 1324.5,1012.9 1332.8,819.6 1341.0,906.5 1349.3,836.7 1357.6,584.0 1365.8,775.1 1374.1,811.6 1382.4,999.8 1390.6,663.3 1398.9,752.9 1407.2,886.4 1415.4,761.1 1423.7,994.7 1432.0,835.3 1440.3,749.6 1448.5,658.9 1456.8,1087.0 1465.1,945.8 1473.3,1040.5 1481.6,997.2 1489.9,923.2 1498.1,874.9 1506.4,557.8 1514.7,804.1 1522.9,815.7 1531.2,696.6 1539.5,901.9 1547.7,856.9 1556.0,773.8 1564.3,905.1 1572.5,820.9 1580.8,681.6 1589.1,795.4 1597.3,876.1 1605.6,931.5" fill="none" stroke="#FFCD33" stroke-width="3.2" stroke-linejoin="round" marker-start="url(#a35)" marker-mid="url(#a35)" marker-end="url(#a35)"/>
</g>
<g clip-path="url(#clipB)">
<polyline points="233.2,2499.9 241.5,2483.8 249.7,2509.9 258.0,2510.2 266.3,2501.6 274.5,2495.6 282.8,2495.5 291.1,2485.1 299.3,2490.4 307.6,2496.4 315.9,2489.8 324.1,2475.7 332.4,2476.1 340.7,2483.2 348.9,2465.0 357.2,2466.1 365.5,2451.0 373.7,2457.1 382.0,2471.4 390.3,2493.8 398.5,2498.5 406.8,2486.4 415.1,2490.5 423.4,2467.4 431.6,2462.1 439.9,2454.2 448.2,2451.3 456.4,2447.4 464.7,2451.1 473.0,2434.9 481.2,2444.5 489.5,2435.4 497.8,2421.0 506.0,2449.5 514.3,2448.6 522.6,2445.1 530.8,2447.3 539.1,2434.9 547.4,2449.9 555.6,2441.5 563.9,2418.5 572.2,2412.0 580.4,2428.4 588.7,2431.9 597.0,2428.7 605.2,2433.3 613.5,2421.1 621.8,2428.4 630.0,2432.5 638.3,2415.5 646.6,2393.9 654.8,2421.7 663.1,2435.2 671.4,2427.1 679.6,2417.4 687.9,2419.9 696.2,2411.4 704.4,2410.3 712.7,2377.4 721.0,2380.5 729.2,2342.3 737.5,2334.3 745.8,2392.0 754.1,2305.5 762.3,2205.6 770.6,2257.6 778.9,2337.5 787.1,2375.8 795.4,2376.2 803.7,2377.4 811.9,2324.9 820.2,2347.9 828.5,2313.3 836.7,2360.7 845.0,2357.6 853.3,2358.8 861.5,2314.0 869.8,2370.4 878.1,2326.9 886.3,2342.8 894.6,2373.0 902.9,2285.2 911.1,2310.5 919.4,2377.6 927.7,2347.5 935.9,2348.7 944.2,2350.8 952.5,2349.1 960.7,2291.9 969.0,2321.8 977.3,2362.8 985.5,2311.1 993.8,2282.1 1002.1,2302.3 1010.3,2230.7 1018.6,2278.2 1026.9,2253.0 1035.1,2293.2 1043.4,2312.3 1051.7,2326.9 1059.9,2244.9 1068.2,2320.7 1076.5,2211.3 1084.7,2260.7 1093.0,2241.0 1101.3,2264.1 1109.6,2232.5 1117.8,2250.8 1126.1,2203.0 1134.4,2255.1 1142.6,2235.8 1150.9,2234.5 1159.2,2265.5 1167.4,2241.2 1175.7,2196.4 1184.0,2169.7 1192.2,2289.5 1200.5,2217.4 1208.8,2127.7 1217.0,2079.8 1225.3,2045.5 1233.6,2059.3 1241.8,2124.5 1250.1,2203.1 1258.4,2189.5 1266.6,3021.7 1274.9,3021.7 1283.2,2964.7 1291.4,3021.7 1299.7,2798.2 1308.0,3021.7 1316.2,2596.2 1324.5,1961.0 1332.8,2017.6 1341.0,2034.6 1349.3,1979.1 1357.6,2152.2 1365.8,1213.4 1374.1,1930.1 1382.4,2309.7 1390.6,2343.0 1398.9,2566.2 1407.2,2149.0 1415.4,2098.5 1423.7,2050.9 1432.0,2316.2 1440.3,2399.6 1448.5,2126.6 1456.8,1812.3 1465.1,3021.7 1473.3,2300.9 1481.6,2165.0 1489.9,2274.5 1498.1,3021.7 1506.4,2188.4 1514.7,2086.7 1522.9,2368.5 1531.2,2460.5 1539.5,3021.7 1547.7,2005.2 1556.0,3021.7 1564.3,2062.7 1572.5,2195.9 1580.8,2384.4 1589.1,2752.5 1597.3,1849.1 1605.6,1841.6" fill="none" stroke="#255E91" stroke-width="3.3" stroke-linejoin="round" marker-start="url(#b0)" marker-mid="url(#b0)" marker-end="url(#b0)"/>
<polyline points="233.2,2386.1 241.5,2365.0 249.7,2359.6 258.0,2364.6 266.3,2366.0 274.5,2348.9 282.8,2355.9 291.1,2336.1 299.3,2319.8 307.6,2327.5 315.9,2319.3 324.1,2306.0 332.4,2304.2 340.7,2305.7 348.9,2307.5 357.2,2314.8 365.5,2310.1 373.7,2310.8 382.0,2317.6 390.3,2313.2 398.5,2302.0 406.8,2312.4 415.1,2297.3 423.4,2295.2 431.6,2297.4 439.9,2298.4 448.2,2297.6 456.4,2298.7 464.7,2277.7 473.0,2255.2 481.2,2240.5 489.5,2236.6 497.8,2249.3 506.0,2241.3 514.3,2226.4 522.6,2225.7 530.8,2232.3 539.1,2213.0 547.4,2194.0 555.6,2205.6 563.9,2217.3 572.2,2217.9 580.4,2217.5 588.7,2212.2 597.0,2215.6 605.2,2207.4 613.5,2215.1 621.8,2218.3 630.0,2214.0 638.3,2224.2 646.6,2226.3 654.8,2225.3 663.1,2229.5 671.4,2235.2 679.6,2219.5 687.9,2219.6 696.2,2208.2 704.4,2206.5 712.7,2205.6 721.0,2206.2 729.2,2185.0 737.5,2172.6 745.8,2172.9 754.1,2174.1 762.3,2094.3 770.6,2111.2 778.9,2204.0 787.1,2227.1 795.4,2226.0 803.7,2237.4 811.9,2197.3 820.2,2222.2 828.5,2202.0 836.7,2204.0 845.0,2218.8 853.3,2238.8 861.5,2190.9 869.8,2214.1 878.1,2241.4 886.3,2234.8 894.6,2211.3 902.9,2198.4 911.1,2236.3 919.4,2213.3 927.7,2218.5 935.9,2217.0 944.2,2187.9 952.5,2151.5 960.7,2188.1 969.0,2226.9 977.3,2150.6 985.5,2203.5 993.8,2214.6 1002.1,2168.0 1010.3,2143.0 1018.6,2157.7 1026.9,2162.5 1035.1,2196.8 1043.4,2188.8 1051.7,2136.8 1059.9,2197.6 1068.2,2159.9 1076.5,2209.9 1084.7,2124.6 1093.0,2157.0 1101.3,2161.2 1109.6,2220.2 1117.8,2180.4 1126.1,2198.5 1134.4,2134.6 1142.6,2197.3 1150.9,2208.5 1159.2,2175.5 1167.4,2136.2 1175.7,2218.6 1184.0,2097.6 1192.2,2148.4 1200.5,2188.9 1208.8,2098.1 1217.0,2091.9 1225.3,2069.0 1233.6,2039.2 1241.8,1865.1 1250.1,2094.5 1258.4,2062.1 1266.6,2399.1 1274.9,2282.9 1283.2,2397.2 1291.4,2361.1 1299.7,3021.7 1308.0,2364.5 1316.2,2497.0 1324.5,2078.6 1332.8,2030.8 1341.0,2081.6 1349.3,2169.3 1357.6,2795.9 1365.8,2031.1 1374.1,1980.4 1382.4,3021.7 1390.6,2098.3 1398.9,2130.3 1407.2,2012.4 1415.4,2164.8 1423.7,2379.6 1432.0,2889.6 1440.3,2070.0 1448.5,2186.5 1456.8,2088.3 1465.1,2085.1 1473.3,2183.8 1481.6,2054.7 1489.9,2217.3 1498.1,3021.7 1506.4,2334.5 1514.7,2270.4 1522.9,2373.7 1531.2,2024.5 1539.5,3021.7 1547.7,2391.4 1556.0,2113.6 1564.3,2318.6 1572.5,1920.3 1580.8,2241.1 1589.1,1869.5 1597.3,2254.2 1605.6,1974.8" fill="none" stroke="#70AD47" stroke-width="3.3" stroke-linejoin="round" marker-start="url(#b1)" marker-mid="url(#b1)" marker-end="url(#b1)"/>
<polyline points="233.2,2408.8 241.5,2402.2 249.7,2385.1 258.0,2388.2 266.3,2383.5 274.5,2400.8 282.8,2383.7 291.1,2375.4 299.3,2357.1 307.6,2365.4 315.9,2358.6 324.1,2351.7 332.4,2358.5 340.7,2354.8 348.9,2352.6 357.2,2353.1 365.5,2347.0 373.7,2346.0 382.0,2342.6 390.3,2346.5 398.5,2342.0 406.8,2332.9 415.1,2332.7 423.4,2330.9 431.6,2330.9 439.9,2327.4 448.2,2323.0 456.4,2319.1 464.7,2321.9 473.0,2309.3 481.2,2315.0 489.5,2306.1 497.8,2297.3 506.0,2302.2 514.3,2302.9 522.6,2300.5 530.8,2302.1 539.1,2297.9 547.4,2293.6 555.6,2291.7 563.9,2278.4 572.2,2277.3 580.4,2276.8 588.7,2275.1 597.0,2276.1 605.2,2270.9 613.5,2263.3 621.8,2253.7 630.0,2260.3 638.3,2251.7 646.6,2245.2 654.8,2248.5 663.1,2251.4 671.4,2223.0 679.6,2229.4 687.9,2216.3 696.2,2205.5 704.4,2217.4 712.7,2199.7 721.0,2188.6 729.2,2192.0 737.5,2187.4 745.8,2186.3 754.1,2178.1 762.3,2180.8 770.6,2175.6 778.9,2170.3 787.1,2181.4 795.4,2182.1 803.7,2182.7 811.9,2176.2 820.2,2166.8 828.5,2166.6 836.7,2185.9 845.0,2142.6 853.3,2154.4 861.5,2154.3 869.8,2169.9 878.1,2157.5 886.3,2172.8 894.6,2164.1 902.9,2143.1 911.1,2158.1 919.4,2191.8 927.7,2163.1 935.9,2173.4 944.2,2181.2 952.5,2150.3 960.7,2162.8 969.0,2162.6 977.3,2127.7 985.5,2172.9 993.8,2175.1 1002.1,2149.7 1010.3,2133.6 1018.6,2137.2 1026.9,2129.8 1035.1,2117.4 1043.4,2133.1 1051.7,2144.1 1059.9,2141.3 1068.2,2143.2 1076.5,2121.5 1084.7,2123.9 1093.0,2132.8 1101.3,2088.4 1109.6,2129.9 1117.8,2082.4 1126.1,2104.9 1134.4,2108.4 1142.6,2102.8 1150.9,2098.0 1159.2,2124.4 1167.4,2064.4 1175.7,2132.8 1184.0,2064.8 1192.2,2108.5 1200.5,2120.9 1208.8,2081.1 1217.0,2096.9 1225.3,2043.7 1233.6,2001.8 1241.8,2138.6 1250.1,2011.1 1258.4,2169.0 1266.6,2263.6 1274.9,2360.6 1283.2,2306.1 1291.4,2852.3 1299.7,2403.6 1308.0,2456.0 1316.2,2398.9 1324.5,2022.2 1332.8,2010.4 1341.0,2096.6 1349.3,1213.4 1357.6,2104.8 1365.8,1904.2 1374.1,2228.3 1382.4,2324.6 1390.6,3021.7 1398.9,1950.0 1407.2,2152.7 1415.4,2148.0 1423.7,2978.8 1432.0,2036.8 1440.3,2233.8 1448.5,2068.9 1456.8,2190.3 1465.1,2133.3 1473.3,1991.2 1481.6,2085.5 1489.9,2261.1 1498.1,2276.9 1506.4,2036.4 1514.7,2419.4 1522.9,1213.4 1531.2,2169.6 1539.5,3021.7 1547.7,2152.6 1556.0,2247.6 1564.3,2883.4 1572.5,2057.9 1580.8,2105.5 1589.1,2003.0 1597.3,2096.3 1605.6,2160.6" fill="none" stroke="#5B9BD5" stroke-width="3.3" stroke-linejoin="round" marker-start="url(#b2)" marker-mid="url(#b2)" marker-end="url(#b2)"/>
<polyline points="233.2,2384.4 241.5,2381.9 249.7,2388.6 258.0,2388.4 266.3,2387.2 274.5,2391.2 282.8,2393.6 291.1,2385.4 299.3,2389.3 307.6,2386.7 315.9,2389.6 324.1,2390.3 332.4,2393.3 340.7,2391.1 348.9,2378.8 357.2,2378.0 365.5,2367.4 373.7,2375.6 382.0,2382.2 390.3,2379.9 398.5,2371.1 406.8,2364.7 415.1,2368.2 423.4,2366.0 431.6,2363.2 439.9,2347.1 448.2,2348.8 456.4,2346.9 464.7,2334.1 473.0,2333.4 481.2,2326.6 489.5,2322.7 497.8,2322.1 506.0,2311.6 514.3,2309.2 522.6,2305.8 530.8,2309.9 539.1,2298.6 547.4,2295.7 555.6,2289.2 563.9,2281.6 572.2,2280.8 580.4,2277.5 588.7,2268.3 597.0,2268.9 605.2,2263.9 613.5,2266.4 621.8,2259.7 630.0,2254.8 638.3,2246.6 646.6,2239.4 654.8,2239.7 663.1,2240.5 671.4,2237.2 679.6,2220.8 687.9,2224.8 696.2,2216.6 704.4,2217.7 712.7,2206.3 721.0,2202.7 729.2,2204.9 737.5,2199.0 745.8,2201.7 754.1,2203.6 762.3,2134.8 770.6,2185.7 778.9,2261.7 787.1,2297.2 795.4,2308.6 803.7,2324.9 811.9,2335.7 820.2,2354.4 828.5,2361.1 836.7,2375.7 845.0,2401.6 853.3,2365.6 861.5,2378.7 869.8,2367.2 878.1,2341.5 886.3,2308.7 894.6,2366.2 902.9,2368.9 911.1,2344.1 919.4,2369.5 927.7,2393.5 935.9,2315.1 944.2,2338.0 952.5,2322.8 960.7,2347.9 969.0,2341.0 977.3,2347.0 985.5,2321.1 993.8,2278.4 1002.1,2316.3 1010.3,2299.5 1018.6,2277.1 1026.9,2332.7 1035.1,2330.6 1043.4,2278.5 1051.7,2298.8 1059.9,2361.5 1068.2,2284.4 1076.5,2279.8 1084.7,2338.4 1093.0,2311.8 1101.3,2268.7 1109.6,2295.8 1117.8,2302.0 1126.1,2368.3 1134.4,2313.1 1142.6,2287.7 1150.9,2230.3 1159.2,2315.2 1167.4,2305.3 1175.7,2278.2 1184.0,2275.4 1192.2,2233.1 1200.5,2333.5 1208.8,2327.2 1217.0,2274.1 1225.3,2238.4 1233.6,2325.6 1241.8,2055.0 1250.1,2182.0 1258.4,2092.5 1266.6,2594.2 1274.9,3021.7 1283.2,2487.8 1291.4,3021.7 1299.7,3021.7 1308.0,1213.4 1316.2,2298.1 1324.5,2168.0 1332.8,2180.3 1341.0,2172.2 1349.3,2239.1 1357.6,2248.6 1365.8,2357.7 1374.1,2225.5 1382.4,2251.2 1390.6,2317.0 1398.9,2252.2 1407.2,2228.8 1415.4,2292.5 1423.7,3021.7 1432.0,3021.7 1440.3,2346.8 1448.5,1931.2 1456.8,2187.1 1465.1,2252.3 1473.3,2249.1 1481.6,2017.1 1489.9,2068.0 1498.1,2448.2 1506.4,2058.1 1514.7,2163.0 1522.9,2125.5 1531.2,1397.7 1539.5,2436.3 1547.7,2302.1 1556.0,2585.7 1564.3,2886.7 1572.5,2876.7 1580.8,2382.2 1589.1,2141.6 1597.3,2494.4 1605.6,2172.8" fill="none" stroke="#FFC000" stroke-width="3.3" stroke-linejoin="round" marker-start="url(#b3)" marker-mid="url(#b3)" marker-end="url(#b3)"/>
<polyline points="233.2,2543.4 241.5,2550.2 249.7,2522.1 258.0,2529.7 266.3,2538.7 274.5,2547.1 282.8,2535.0 291.1,2525.3 299.3,2523.6 307.6,2529.9 315.9,2527.3 324.1,2532.8 332.4,2537.2 340.7,2547.9 348.9,2544.0 357.2,2540.6 365.5,2535.6 373.7,2507.2 382.0,2526.1 390.3,2503.7 398.5,2527.8 406.8,2527.3 415.1,2500.0 423.4,2513.6 431.6,2515.1 439.9,2518.5 448.2,2494.8 456.4,2486.3 464.7,2499.5 473.0,2495.8 481.2,2503.0 489.5,2494.8 497.8,2455.8 506.0,2481.2 514.3,2489.8 522.6,2489.1 530.8,2477.0 539.1,2483.7 547.4,2471.2 555.6,2467.1 563.9,2468.9 572.2,2471.6 580.4,2447.9 588.7,2422.3 597.0,2421.2 605.2,2438.1 613.5,2441.4 621.8,2438.7 630.0,2453.3 638.3,2446.0 646.6,2456.1 654.8,2434.6 663.1,2428.5 671.4,2418.6 679.6,2425.1 687.9,2419.3 696.2,2422.9 704.4,2404.7 712.7,2434.0 721.0,2403.9 729.2,2388.7 737.5,2394.3 745.8,2390.2 754.1,2354.4 762.3,2238.2 770.6,2303.3 778.9,2381.7 787.1,2358.7 795.4,2384.6 803.7,2374.5 811.9,2345.8 820.2,2353.6 828.5,2362.3 836.7,2351.0 845.0,2351.6 853.3,2342.2 861.5,2322.3 869.8,2313.7 878.1,2330.0 886.3,2313.1 894.6,2308.8 902.9,2309.3 911.1,2344.7 919.4,2339.5 927.7,2303.9 935.9,2296.8 944.2,2249.9 952.5,2291.6 960.7,2317.0 969.0,2239.1 977.3,2264.6 985.5,2242.5 993.8,2230.9 1002.1,2289.6 1010.3,2241.3 1018.6,2266.8 1026.9,2253.8 1035.1,2281.0 1043.4,2240.9 1051.7,2250.9 1059.9,2244.8 1068.2,2288.9 1076.5,2235.3 1084.7,2255.6 1093.0,2215.1 1101.3,2161.9 1109.6,2177.5 1117.8,2207.9 1126.1,2150.1 1134.4,2210.4 1142.6,2204.6 1150.9,2224.0 1159.2,2167.3 1167.4,2205.4 1175.7,2251.7 1184.0,2148.4 1192.2,2197.4 1200.5,2165.4 1208.8,2113.8 1217.0,2076.1 1225.3,2190.5 1233.6,2108.1 1241.8,2257.6 1250.1,2030.9 1258.4,2295.9 1266.6,2358.8 1274.9,2302.9 1283.2,2663.8 1291.4,2605.2 1299.7,2359.2 1308.0,2453.8 1316.2,2680.8 1324.5,2156.9 1332.8,2076.5 1341.0,2151.4 1349.3,1977.4 1357.6,1976.6 1365.8,2333.5 1374.1,2102.7 1382.4,2160.5 1390.6,1420.5 1398.9,2032.7 1407.2,2151.8 1415.4,2079.0 1423.7,2310.6 1432.0,2323.6 1440.3,2084.8 1448.5,2302.4 1456.8,2246.8 1465.1,2225.3 1473.3,2070.0 1481.6,3021.7 1489.9,2186.5 1498.1,2380.1 1506.4,3021.7 1514.7,2258.3 1522.9,1877.2 1531.2,2397.0 1539.5,2174.6 1547.7,2014.6 1556.0,2140.3 1564.3,3013.2 1572.5,2533.6 1580.8,2237.1 1589.1,2235.7 1597.3,2291.2 1605.6,1878.7" fill="none" stroke="#43682B" stroke-width="3.3" stroke-linejoin="round" marker-start="url(#b4)" marker-mid="url(#b4)" marker-end="url(#b4)"/>
<polyline points="233.2,2322.4 241.5,2308.7 249.7,2301.1 258.0,2287.5 266.3,2287.9 274.5,2290.6 282.8,2290.0 291.1,2276.9 299.3,2288.4 307.6,2298.2 315.9,2290.5 324.1,2300.0 332.4,2326.0 340.7,2326.1 348.9,2347.0 357.2,2354.5 365.5,2344.3 373.7,2329.7 382.0,2325.3 390.3,2350.4 398.5,2359.0 406.8,2351.8 415.1,2344.3 423.4,2355.0 431.6,2349.1 439.9,2369.7 448.2,2363.9 456.4,2352.3 464.7,2345.6 473.0,2353.1 481.2,2353.7 489.5,2357.0 497.8,2343.8 506.0,2353.4 514.3,2371.1 522.6,2376.5 530.8,2380.9 539.1,2381.6 547.4,2385.9 555.6,2373.0 563.9,2353.2 572.2,2365.4 580.4,2369.3 588.7,2367.2 597.0,2361.0 605.2,2366.3 613.5,2383.9 621.8,2371.5 630.0,2389.6 638.3,2372.7 646.6,2396.0 654.8,2389.4 663.1,2368.1 671.4,2376.6 679.6,2392.9 687.9,2382.8 696.2,2375.0 704.4,2378.4 712.7,2335.6 721.0,2354.6 729.2,2353.0 737.5,2373.3 745.8,2376.6 754.1,2334.0 762.3,2245.9 770.6,2260.0 778.9,2356.4 787.1,2360.1 795.4,2371.4 803.7,2352.2 811.9,2361.1 820.2,2363.5 828.5,2371.9 836.7,2434.0 845.0,2404.9 853.3,2400.6 861.5,2396.1 869.8,2371.2 878.1,2408.2 886.3,2392.4 894.6,2376.2 902.9,2346.3 911.1,2374.3 919.4,2334.9 927.7,2328.9 935.9,2472.3 944.2,2357.1 952.5,2341.6 960.7,2376.1 969.0,2321.4 977.3,2364.8 985.5,2531.4 993.8,2377.4 1002.1,2312.7 1010.3,2388.4 1018.6,2430.5 1026.9,2354.0 1035.1,2346.8 1043.4,2283.6 1051.7,2353.5 1059.9,2329.5 1068.2,2615.5 1076.5,2369.3 1084.7,2356.8 1093.0,2331.0 1101.3,2368.5 1109.6,2309.2 1117.8,2382.1 1126.1,2431.5 1134.4,2604.4 1142.6,2308.2 1150.9,2264.1 1159.2,2347.9 1167.4,2263.3 1175.7,2404.7 1184.0,2345.3 1192.2,2310.0 1200.5,2256.4 1208.8,2356.6 1217.0,2288.2 1225.3,2159.9 1233.6,2262.3 1241.8,2068.6 1250.1,2273.5 1258.4,2955.5 1266.6,2403.8 1274.9,2803.3 1283.2,3021.7 1291.4,2495.3 1299.7,2574.7 1308.0,2842.3 1316.2,2459.0 1324.5,2146.0 1332.8,2118.2 1341.0,2165.8 1349.3,2201.3 1357.6,2412.2 1365.8,2267.8 1374.1,2171.7 1382.4,2355.6 1390.6,2258.7 1398.9,2339.9 1407.2,2571.0 1415.4,2020.8 1423.7,2121.8 1432.0,2491.6 1440.3,2081.6 1448.5,3021.7 1456.8,2266.6 1465.1,2364.7 1473.3,2313.0 1481.6,2325.2 1489.9,2230.5 1498.1,2292.0 1506.4,2105.7 1514.7,2212.4 1522.9,2215.3 1531.2,2378.2 1539.5,2668.1 1547.7,2376.1 1556.0,2107.7 1564.3,2423.0 1572.5,2561.8 1580.8,2023.7 1589.1,2168.2 1597.3,2135.3 1605.6,2325.4" fill="none" stroke="#255E91" stroke-width="3.3" stroke-linejoin="round" marker-start="url(#b5)" marker-mid="url(#b5)" marker-end="url(#b5)"/>
<polyline points="233.2,2424.2 241.5,2432.7 249.7,2433.5 258.0,2419.1 266.3,2416.8 274.5,2421.9 282.8,2410.9 291.1,2402.2 299.3,2392.4 307.6,2396.1 315.9,2397.8 324.1,2392.6 332.4,2399.9 340.7,2397.1 348.9,2403.1 357.2,2386.1 365.5,2382.9 373.7,2373.6 382.0,2367.6 390.3,2358.1 398.5,2350.5 406.8,2350.1 415.1,2353.1 423.4,2341.0 431.6,2335.5 439.9,2337.7 448.2,2337.0 456.4,2327.3 464.7,2326.2 473.0,2329.8 481.2,2325.1 489.5,2331.0 497.8,2322.5 506.0,2315.6 514.3,2320.4 522.6,2323.0 530.8,2334.1 539.1,2331.8 547.4,2326.6 555.6,2331.4 563.9,2332.4 572.2,2325.1 580.4,2321.7 588.7,2318.7 597.0,2311.9 605.2,2309.9 613.5,2300.0 621.8,2310.3 630.0,2306.1 638.3,2298.9 646.6,2289.5 654.8,2288.2 663.1,2294.9 671.4,2282.6 679.6,2277.1 687.9,2274.8 696.2,2273.3 704.4,2280.4 712.7,2272.2 721.0,2274.0 729.2,2264.8 737.5,2264.5 745.8,2266.1 754.1,2237.8 762.3,2171.3 770.6,2177.0 778.9,2203.4 787.1,2194.4 795.4,2179.4 803.7,2181.4 811.9,2164.0 820.2,2140.4 828.5,2144.5 836.7,2166.3 845.0,2148.9 853.3,2163.1 861.5,2132.5 869.8,2155.2 878.1,2152.2 886.3,2162.7 894.6,2168.0 902.9,2152.7 911.1,2159.2 919.4,2140.4 927.7,2142.4 935.9,2131.2 944.2,2173.2 952.5,2145.7 960.7,2123.4 969.0,2117.3 977.3,2121.4 985.5,2139.7 993.8,2163.7 1002.1,2134.8 1010.3,2162.1 1018.6,2140.4 1026.9,2121.4 1035.1,2122.7 1043.4,2126.8 1051.7,2138.1 1059.9,2148.0 1068.2,2119.3 1076.5,2151.7 1084.7,2152.2 1093.0,2091.7 1101.3,2083.9 1109.6,2133.5 1117.8,2138.3 1126.1,2083.0 1134.4,2092.3 1142.6,2101.7 1150.9,2105.9 1159.2,2126.5 1167.4,2107.7 1175.7,2153.3 1184.0,2103.4 1192.2,2118.7 1200.5,2063.2 1208.8,2051.4 1217.0,2027.3 1225.3,2105.8 1233.6,2029.1 1241.8,2186.6 1250.1,2006.8 1258.4,2179.3 1266.6,2357.7 1274.9,2803.7 1283.2,2368.6 1291.4,3021.7 1299.7,2395.4 1308.0,3021.7 1316.2,2505.2 1324.5,2085.2 1332.8,2139.7 1341.0,2028.8 1349.3,2099.7 1357.6,2009.0 1365.8,3021.7 1374.1,2228.9 1382.4,2459.0 1390.6,2095.5 1398.9,2087.9 1407.2,2138.5 1415.4,2235.8 1423.7,2854.4 1432.0,2159.5 1440.3,2131.6 1448.5,2107.9 1456.8,2232.5 1465.1,2153.8 1473.3,2061.1 1481.6,2213.1 1489.9,2173.9 1498.1,2091.7 1506.4,2069.2 1514.7,2211.5 1522.9,2179.6 1531.2,2316.9 1539.5,2094.4 1547.7,1948.7 1556.0,3021.7 1564.3,2055.6 1572.5,2141.5 1580.8,2227.9 1589.1,3021.7 1597.3,2147.3 1605.6,2019.8" fill="none" stroke="#997300" stroke-width="3" stroke-linejoin="round" marker-start="url(#b6)" marker-mid="url(#b6)" marker-end="url(#b6)"/>
<polyline points="233.2,2473.9 241.5,2475.7 249.7,2475.3 258.0,2473.0 266.3,2466.4 274.5,2456.2 282.8,2456.6 291.1,2458.4 299.3,2450.6 307.6,2441.1 315.9,2442.5 324.1,2441.8 332.4,2436.6 340.7,2443.7 348.9,2431.7 357.2,2435.2 365.5,2429.5 373.7,2421.2 382.0,2410.6 390.3,2417.4 398.5,2410.1 406.8,2412.4 415.1,2403.4 423.4,2404.6 431.6,2400.5 439.9,2402.6 448.2,2395.1 456.4,2376.0 464.7,2375.1 473.0,2362.4 481.2,2343.4 489.5,2340.8 497.8,2336.0 506.0,2327.1 514.3,2306.9 522.6,2292.9 530.8,2289.7 539.1,2268.1 547.4,2258.6 555.6,2242.5 563.9,2234.4 572.2,2212.7 580.4,2197.7 588.7,2192.6 597.0,2176.9 605.2,2172.1 613.5,2153.3 621.8,2145.5 630.0,2139.0 638.3,2129.1 646.6,2129.5 654.8,2115.0 663.1,2109.5 671.4,2121.5 679.6,2119.3 687.9,2113.7 696.2,2106.0 704.4,2113.0 712.7,2112.8 721.0,2107.3 729.2,2099.7 737.5,2102.3 745.8,2122.4 754.1,2101.1 762.3,2008.6 770.6,2054.0 778.9,2105.9 787.1,2155.5 795.4,2158.5 803.7,2159.7 811.9,2166.5 820.2,2173.8 828.5,2161.3 836.7,2157.8 845.0,2124.7 853.3,2145.7 861.5,2152.0 869.8,2165.8 878.1,2179.8 886.3,2194.5 894.6,2161.6 902.9,2161.5 911.1,2137.7 919.4,2158.8 927.7,2136.9 935.9,2153.8 944.2,2157.9 952.5,2143.1 960.7,2154.8 969.0,2156.5 977.3,2182.1 985.5,2163.3 993.8,2185.2 1002.1,2107.8 1010.3,2138.8 1018.6,2175.9 1026.9,2170.2 1035.1,2111.1 1043.4,2120.9 1051.7,3021.7 1059.9,2109.3 1068.2,2105.7 1076.5,2917.9 1084.7,2120.2 1093.0,2138.9 1101.3,2198.8 1109.6,2123.2 1117.8,2123.0 1126.1,2131.8 1134.4,2065.2 1142.6,2092.6 1150.9,3021.7 1159.2,3021.7 1167.4,2119.6 1175.7,3021.7 1184.0,2038.9 1192.2,3021.7 1200.5,2060.7 1208.8,2097.7 1217.0,2066.2 1225.3,1949.6 1233.6,1982.0 1241.8,2054.1 1250.1,2126.5 1258.4,2323.9 1266.6,2986.9 1274.9,2470.7 1283.2,2238.5 1291.4,2186.0 1299.7,2276.3 1308.0,2259.7 1316.2,1387.8 1324.5,2034.0 1332.8,1977.1 1341.0,2022.7 1349.3,2168.0 1357.6,2086.3 1365.8,2286.3 1374.1,2070.8 1382.4,3021.7 1390.6,2255.7 1398.9,2119.3 1407.2,2275.2 1415.4,2781.8 1423.7,2294.5 1432.0,3021.7 1440.3,2960.3 1448.5,2127.9 1456.8,2853.2 1465.1,2285.3 1473.3,2170.5 1481.6,2364.6 1489.9,2036.1 1498.1,2077.2 1506.4,2201.4 1514.7,2240.0 1522.9,2125.7 1531.2,2057.3 1539.5,2053.3 1547.7,2114.4 1556.0,2385.9 1564.3,2067.3 1572.5,2481.5 1580.8,3021.7 1589.1,2016.3 1597.3,2059.7 1605.6,1858.7" fill="none" stroke="#8CC168" stroke-width="3.2" stroke-linejoin="round" marker-start="url(#b7)" marker-mid="url(#b7)" marker-end="url(#b7)"/>
<polyline points="233.2,2530.0 241.5,2526.6 249.7,2536.2 258.0,2542.4 266.3,2537.0 274.5,2526.3 282.8,2521.5 291.1,2540.4 299.3,2520.5 307.6,2478.2 315.9,2517.8 324.1,2497.1 332.4,2496.0 340.7,2512.8 348.9,2519.0 357.2,2522.6 365.5,2510.7 373.7,2500.2 382.0,2483.6 390.3,2489.7 398.5,2479.7 406.8,2491.1 415.1,2457.7 423.4,2485.3 431.6,2466.4 439.9,2464.3 448.2,2471.2 456.4,2458.6 464.7,2445.6 473.0,2451.6 481.2,2436.7 489.5,2442.0 497.8,2415.0 506.0,2395.1 514.3,2411.9 522.6,2435.9 530.8,2419.9 539.1,2432.9 547.4,2413.6 555.6,2400.9 563.9,2385.6 572.2,2397.9 580.4,2407.2 588.7,2397.2 597.0,2408.4 605.2,2371.8 613.5,2408.4 621.8,2401.1 630.0,2376.2 638.3,2390.3 646.6,2382.5 654.8,2368.8 663.1,2364.5 671.4,2336.7 679.6,2341.5 687.9,2341.0 696.2,2345.4 704.4,2333.4 712.7,2331.1 721.0,2354.3 729.2,2305.6 737.5,2322.8 745.8,2321.2 754.1,2245.5 762.3,2108.9 770.6,2188.6 778.9,2293.0 787.1,2306.3 795.4,2305.2 803.7,2318.5 811.9,2296.7 820.2,2278.8 828.5,2317.8 836.7,2277.4 845.0,2314.7 853.3,2298.5 861.5,2290.0 869.8,2263.3 878.1,2288.0 886.3,2249.8 894.6,2297.0 902.9,2287.2 911.1,2269.1 919.4,2244.0 927.7,2241.1 935.9,2254.2 944.2,2228.7 952.5,2242.4 960.7,2216.8 969.0,2190.5 977.3,2270.4 985.5,2214.2 993.8,2187.2 1002.1,2219.5 1010.3,2254.3 1018.6,2237.7 1026.9,2193.4 1035.1,2205.2 1043.4,2268.0 1051.7,2170.1 1059.9,2225.8 1068.2,2204.9 1076.5,2167.1 1084.7,2251.8 1093.0,2229.7 1101.3,2198.1 1109.6,2230.2 1117.8,2240.7 1126.1,2124.9 1134.4,2174.6 1142.6,2127.7 1150.9,2184.6 1159.2,2093.6 1167.4,2091.4 1175.7,2223.7 1184.0,2160.9 1192.2,2164.6 1200.5,2148.6 1208.8,2271.5 1217.0,2152.7 1225.3,2086.7 1233.6,2143.1 1241.8,2427.7 1250.1,2203.8 1258.4,2224.8 1266.6,2326.1 1274.9,2372.6 1283.2,2522.1 1291.4,2025.0 1299.7,3021.7 1308.0,2550.6 1316.2,3021.7 1324.5,2075.1 1332.8,1979.3 1341.0,2065.1 1349.3,2070.6 1357.6,2000.7 1365.8,1873.3 1374.1,2142.6 1382.4,2092.0 1390.6,2074.3 1398.9,2256.4 1407.2,2344.2 1415.4,2538.7 1423.7,2335.6 1432.0,2036.2 1440.3,2026.9 1448.5,2137.0 1456.8,1923.4 1465.1,1985.9 1473.3,2697.0 1481.6,2177.5 1489.9,3021.7 1498.1,2444.4 1506.4,2177.9 1514.7,1721.8 1522.9,2176.7 1531.2,2181.9 1539.5,3021.7 1547.7,2306.5 1556.0,2112.2 1564.3,2228.8 1572.5,2020.2 1580.8,1898.9 1589.1,1961.1 1597.3,3021.7 1605.6,2162.8" fill="none" stroke="#7CAFDD" stroke-width="3.3" stroke-linejoin="round" marker-start="url(#b8)" marker-mid="url(#b8)" marker-end="url(#b8)"/>
<polyline points="233.2,2517.6 241.5,2516.5 249.7,2528.0 258.0,2518.6 266.3,2508.1 274.5,2511.6 282.8,2519.8 291.1,2520.9 299.3,2502.5 307.6,2499.2 315.9,2495.8 324.1,2489.8 332.4,2508.4 340.7,2506.5 348.9,2521.2 357.2,2517.5 365.5,2510.5 373.7,2509.2 382.0,2492.6 390.3,2484.2 398.5,2485.3 406.8,2477.3 415.1,2478.3 423.4,2481.6 431.6,2467.5 439.9,2473.9 448.2,2460.2 456.4,2463.8 464.7,2472.1 473.0,2473.6 481.2,2458.4 489.5,2454.8 497.8,2460.4 506.0,2464.2 514.3,2457.1 522.6,2457.5 530.8,2464.0 539.1,2458.2 547.4,2455.8 555.6,2452.7 563.9,2450.9 572.2,2454.0 580.4,2432.6 588.7,2415.7 597.0,2419.1 605.2,2417.6 613.5,2436.9 621.8,2419.6 630.0,2412.3 638.3,2415.6 646.6,2420.8 654.8,2406.1 663.1,2405.6 671.4,2399.7 679.6,2411.5 687.9,2382.8 696.2,2389.8 704.4,2404.9 712.7,2377.4 721.0,2387.6 729.2,2376.7 737.5,2365.8 745.8,2346.2 754.1,2300.9 762.3,2233.5 770.6,2260.4 778.9,2293.7 787.1,2281.3 795.4,2290.4 803.7,2291.0 811.9,2274.0 820.2,2255.0 828.5,2251.1 836.7,2238.8 845.0,2225.0 853.3,2207.9 861.5,2207.1 869.8,2196.9 878.1,2227.6 886.3,2228.0 894.6,2233.2 902.9,2228.8 911.1,2224.0 919.4,2209.6 927.7,2179.9 935.9,2156.3 944.2,2149.6 952.5,2153.3 960.7,2140.9 969.0,2130.0 977.3,2140.7 985.5,2131.1 993.8,2092.9 1002.1,2122.7 1010.3,2087.2 1018.6,2073.7 1026.9,2123.5 1035.1,2111.6 1043.4,2167.7 1051.7,2145.3 1059.9,2111.6 1068.2,2085.7 1076.5,2085.9 1084.7,2052.1 1093.0,2114.2 1101.3,2068.9 1109.6,2129.4 1117.8,2052.2 1126.1,2089.4 1134.4,2142.2 1142.6,2089.3 1150.9,2096.6 1159.2,2097.9 1167.4,2083.9 1175.7,2085.3 1184.0,2099.3 1192.2,2057.8 1200.5,2049.4 1208.8,1935.2 1217.0,2059.2 1225.3,1990.4 1233.6,2047.7 1241.8,2115.4 1250.1,2046.8 1258.4,2091.2 1266.6,2299.0 1274.9,2386.4 1283.2,2149.7 1291.4,2210.0 1299.7,2851.5 1308.0,2475.7 1316.2,2487.1 1324.5,2053.3 1332.8,2097.5 1341.0,1933.4 1349.3,2294.3 1357.6,2120.5 1365.8,2008.1 1374.1,2132.7 1382.4,2201.0 1390.6,2130.5 1398.9,1213.4 1407.2,3021.7 1415.4,1906.8 1423.7,1984.3 1432.0,2167.4 1440.3,2021.8 1448.5,1318.6 1456.8,2323.7 1465.1,2034.3 1473.3,2010.8 1481.6,1213.4 1489.9,2212.3 1498.1,2040.0 1506.4,3021.7 1514.7,2231.7 1522.9,2072.7 1531.2,2283.3 1539.5,2134.0 1547.7,2015.4 1556.0,2262.5 1564.3,2946.2 1572.5,2040.1 1580.8,3021.7 1589.1,2016.6 1597.3,2224.8 1605.6,2173.9" fill="none" stroke="#5A8A39" stroke-width="3.3" stroke-linejoin="round" marker-start="url(#b9)" marker-mid="url(#b9)" marker-end="url(#b9)"/>
<polyline points="233.2,2557.2 241.5,2551.1 249.7,2553.0 258.0,2544.7 266.3,2545.7 274.5,2550.6 282.8,2542.9 291.1,2533.6 299.3,2533.5 307.6,2548.4 315.9,2548.2 324.1,2539.4 332.4,2538.7 340.7,2537.2 348.9,2532.5 357.2,2540.3 365.5,2530.6 373.7,2527.0 382.0,2527.5 390.3,2522.9 398.5,2532.2 406.8,2517.6 415.1,2506.0 423.4,2513.3 431.6,2513.7 439.9,2509.5 448.2,2528.3 456.4,2512.4 464.7,2508.5 473.0,2506.1 481.2,2496.8 489.5,2507.3 497.8,2497.3 506.0,2481.0 514.3,2483.9 522.6,2493.0 530.8,2496.6 539.1,2488.5 547.4,2481.4 555.6,2481.4 563.9,2461.6 572.2,2472.9 580.4,2469.7 588.7,2470.0 597.0,2469.2 605.2,2476.7 613.5,2471.7 621.8,2478.1 630.0,2465.0 638.3,2458.8 646.6,2456.1 654.8,2458.7 663.1,2444.3 671.4,2454.9 679.6,2447.8 687.9,2437.1 696.2,2436.4 704.4,2432.5 712.7,2422.3 721.0,2435.9 729.2,2414.3 737.5,2421.1 745.8,2413.4 754.1,2344.2 762.3,2109.2 770.6,2163.3 778.9,2304.2 787.1,2329.1 795.4,2335.9 803.7,2345.7 811.9,2372.4 820.2,2377.9 828.5,2375.1 836.7,2344.2 845.0,2379.0 853.3,2395.5 861.5,2390.5 869.8,2359.9 878.1,2355.0 886.3,2340.2 894.6,2324.5 902.9,2389.5 911.1,2414.5 919.4,2347.6 927.7,2343.9 935.9,2356.0 944.2,2351.8 952.5,2390.9 960.7,2361.3 969.0,2339.9 977.3,2313.4 985.5,2368.8 993.8,2330.2 1002.1,2343.5 1010.3,2274.3 1018.6,2337.8 1026.9,2306.9 1035.1,2310.3 1043.4,2289.4 1051.7,2284.2 1059.9,2257.4 1068.2,2298.4 1076.5,2278.0 1084.7,2299.2 1093.0,2320.7 1101.3,2248.7 1109.6,2200.6 1117.8,2319.7 1126.1,2241.6 1134.4,2319.7 1142.6,2270.8 1150.9,2343.9 1159.2,2321.5 1167.4,2329.6 1175.7,2316.6 1184.0,2208.0 1192.2,2269.0 1200.5,2283.7 1208.8,2255.9 1217.0,2272.2 1225.3,2142.1 1233.6,2236.8 1241.8,2147.1 1250.1,2264.8 1258.4,2287.5 1266.6,2414.9 1274.9,2739.4 1283.2,2639.4 1291.4,2675.2 1299.7,2426.3 1308.0,2520.4 1316.2,2368.5 1324.5,2177.5 1332.8,2092.8 1341.0,2153.3 1349.3,2187.6 1357.6,2152.5 1365.8,3021.7 1374.1,2232.8 1382.4,2224.0 1390.6,2213.0 1398.9,2408.9 1407.2,2172.5 1415.4,3021.7 1423.7,2295.7 1432.0,1943.5 1440.3,2838.1 1448.5,2259.6 1456.8,2271.3 1465.1,2932.5 1473.3,2780.7 1481.6,2201.2 1489.9,2246.1 1498.1,2103.0 1506.4,2593.8 1514.7,2315.7 1522.9,2184.1 1531.2,2128.4 1539.5,2509.5 1547.7,2551.2 1556.0,2152.3 1564.3,2568.4 1572.5,2290.1 1580.8,2401.1 1589.1,2332.2 1597.3,2437.6 1605.6,2814.3" fill="none" stroke="#CC9A00" stroke-width="3.3" stroke-linejoin="round" marker-start="url(#b10)" marker-mid="url(#b10)" marker-end="url(#b10)"/>
<polyline points="233.2,2238.9 241.5,2253.0 249.7,2252.5 258.0,2239.3 266.3,2254.4 274.5,2245.9 282.8,2250.4 291.1,2261.4 299.3,2267.5 307.6,2280.9 315.9,2270.8 324.1,2268.2 332.4,2259.3 340.7,2257.2 348.9,2265.6 357.2,2264.4 365.5,2256.1 373.7,2243.5 382.0,2244.3 390.3,2239.8 398.5,2220.0 406.8,2237.0 415.1,2249.0 423.4,2240.9 431.6,2238.8 439.9,2244.1 448.2,2240.1 456.4,2231.9 464.7,2237.2 473.0,2245.6 481.2,2252.0 489.5,2259.2 497.8,2241.8 506.0,2225.0 514.3,2227.5 522.6,2215.9 530.8,2205.3 539.1,2211.5 547.4,2215.5 555.6,2215.6 563.9,2208.9 572.2,2213.9 580.4,2206.9 588.7,2193.8 597.0,2197.9 605.2,2201.9 613.5,2199.3 621.8,2193.4 630.0,2191.1 638.3,2175.9 646.6,2189.8 654.8,2189.3 663.1,2189.5 671.4,2196.5 679.6,2179.2 687.9,2183.8 696.2,2187.0 704.4,2184.2 712.7,2166.5 721.0,2168.1 729.2,2167.9 737.5,2171.4 745.8,2164.4 754.1,2149.1 762.3,2077.4 770.6,2134.3 778.9,2177.7 787.1,2169.6 795.4,2176.7 803.7,2201.9 811.9,2208.6 820.2,2182.7 828.5,2204.9 836.7,2195.1 845.0,2210.3 853.3,2208.9 861.5,2221.2 869.8,2212.6 878.1,2222.7 886.3,2195.1 894.6,2178.2 902.9,2217.4 911.1,2213.4 919.4,2208.1 927.7,2234.4 935.9,2239.2 944.2,2228.0 952.5,2204.0 960.7,2199.1 969.0,2213.4 977.3,2209.0 985.5,2177.8 993.8,2202.0 1002.1,2143.0 1010.3,2250.8 1018.6,2200.3 1026.9,2150.1 1035.1,2219.9 1043.4,2131.8 1051.7,2191.7 1059.9,2163.4 1068.2,2124.1 1076.5,2140.2 1084.7,2223.2 1093.0,2156.5 1101.3,2162.0 1109.6,2215.5 1117.8,2197.0 1126.1,2158.1 1134.4,2180.5 1142.6,2169.2 1150.9,2191.7 1159.2,2161.2 1167.4,2106.0 1175.7,2122.4 1184.0,2067.3 1192.2,2210.6 1200.5,2218.5 1208.8,2096.1 1217.0,2116.3 1225.3,1947.9 1233.6,1213.4 1241.8,2111.3 1250.1,2331.7 1258.4,2270.7 1266.6,2404.4 1274.9,2342.4 1283.2,2457.2 1291.4,2585.2 1299.7,2549.1 1308.0,2850.7 1316.2,3021.7 1324.5,2046.0 1332.8,2038.6 1341.0,2057.9 1349.3,1894.1 1357.6,1985.6 1365.8,2013.8 1374.1,2292.8 1382.4,2992.2 1390.6,2102.3 1398.9,2333.9 1407.2,2411.4 1415.4,2234.9 1423.7,2139.0 1432.0,2828.2 1440.3,1910.7 1448.5,2244.1 1456.8,2231.5 1465.1,3021.7 1473.3,2832.5 1481.6,2458.9 1489.9,2021.5 1498.1,1969.5 1506.4,2093.3 1514.7,2248.2 1522.9,2116.5 1531.2,2075.9 1539.5,2202.0 1547.7,2079.2 1556.0,2120.1 1564.3,2022.2 1572.5,2984.2 1580.8,1942.1 1589.1,2243.1 1597.3,2279.0 1605.6,2313.8" fill="none" stroke="#A9D18E" stroke-width="3.4" stroke-linejoin="round" marker-start="url(#b11)" marker-mid="url(#b11)" marker-end="url(#b11)"/>
<polyline points="233.2,2570.5 241.5,2524.8 249.7,2527.1 258.0,2546.8 266.3,2536.4 274.5,2531.8 282.8,2529.3 291.1,2534.2 299.3,2547.6 307.6,2538.8 315.9,2534.0 324.1,2521.6 332.4,2529.8 340.7,2512.0 348.9,2522.1 357.2,2525.1 365.5,2516.9 373.7,2498.4 382.0,2479.9 390.3,2479.0 398.5,2490.9 406.8,2488.2 415.1,2473.8 423.4,2450.0 431.6,2442.0 439.9,2440.0 448.2,2435.0 456.4,2437.3 464.7,2443.6 473.0,2448.6 481.2,2447.8 489.5,2441.1 497.8,2432.7 506.0,2434.9 514.3,2414.8 522.6,2414.2 530.8,2432.1 539.1,2422.9 547.4,2413.2 555.6,2405.6 563.9,2392.4 572.2,2375.6 580.4,2389.0 588.7,2373.6 597.0,2387.9 605.2,2376.7 613.5,2375.0 621.8,2374.4 630.0,2381.2 638.3,2370.9 646.6,2349.6 654.8,2351.6 663.1,2355.1 671.4,2341.8 679.6,2333.8 687.9,2347.3 696.2,2332.4 704.4,2344.7 712.7,2345.4 721.0,2355.1 729.2,2331.9 737.5,2323.5 745.8,2316.1 754.1,2257.6 762.3,2089.5 770.6,2166.2 778.9,2273.7 787.1,2280.3 795.4,2281.6 803.7,2278.7 811.9,2283.8 820.2,2271.1 828.5,2279.0 836.7,2270.0 845.0,2256.7 853.3,2253.3 861.5,2260.8 869.8,2284.2 878.1,2285.1 886.3,2240.9 894.6,2196.4 902.9,2230.8 911.1,2215.9 919.4,2250.3 927.7,2265.3 935.9,2184.6 944.2,2226.0 952.5,2278.2 960.7,2258.9 969.0,2230.5 977.3,2205.9 985.5,2233.3 993.8,2156.1 1002.1,2245.1 1010.3,2219.5 1018.6,2185.4 1026.9,2217.2 1035.1,2209.7 1043.4,2202.8 1051.7,2220.0 1059.9,2230.5 1068.2,2286.1 1076.5,2169.5 1084.7,2172.0 1093.0,2283.3 1101.3,2208.3 1109.6,2100.1 1117.8,2149.4 1126.1,2150.5 1134.4,2226.3 1142.6,2203.8 1150.9,2120.3 1159.2,2264.7 1167.4,2170.9 1175.7,2137.5 1184.0,2187.4 1192.2,2083.8 1200.5,2231.9 1208.8,2099.1 1217.0,2128.5 1225.3,2219.4 1233.6,1964.8 1241.8,2299.8 1250.1,2295.7 1258.4,3021.7 1266.6,2390.7 1274.9,1213.4 1283.2,2541.1 1291.4,2915.1 1299.7,2564.9 1308.0,2488.1 1316.2,2453.0 1324.5,2141.4 1332.8,2026.9 1341.0,2020.9 1349.3,1213.4 1357.6,1963.8 1365.8,2090.5 1374.1,2541.7 1382.4,2310.8 1390.6,1883.0 1398.9,2317.6 1407.2,3010.7 1415.4,2713.9 1423.7,2225.4 1432.0,2482.9 1440.3,2188.1 1448.5,3021.7 1456.8,2274.1 1465.1,2378.6 1473.3,2471.0 1481.6,2158.6 1489.9,2467.6 1498.1,3021.7 1506.4,2068.7 1514.7,2023.2 1522.9,2232.1 1531.2,2114.7 1539.5,2410.8 1547.7,2457.0 1556.0,3021.7 1564.3,2050.4 1572.5,2228.9 1580.8,2152.9 1589.1,2002.8 1597.3,1905.0 1605.6,1924.9" fill="none" stroke="#9DC3E6" stroke-width="3.2" stroke-linejoin="round" marker-start="url(#b12)" marker-mid="url(#b12)" marker-end="url(#b12)"/>
<polyline points="233.2,2505.2 241.5,2489.5 249.7,2492.3 258.0,2502.3 266.3,2493.2 274.5,2473.6 282.8,2482.8 291.1,2483.9 299.3,2494.0 307.6,2477.8 315.9,2476.3 324.1,2478.3 332.4,2474.1 340.7,2475.5 348.9,2474.8 357.2,2460.8 365.5,2463.3 373.7,2450.0 382.0,2445.1 390.3,2431.2 398.5,2424.8 406.8,2431.9 415.1,2446.1 423.4,2435.2 431.6,2411.5 439.9,2428.4 448.2,2441.0 456.4,2412.4 464.7,2407.3 473.0,2415.7 481.2,2408.1 489.5,2421.0 497.8,2402.3 506.0,2399.2 514.3,2402.0 522.6,2394.8 530.8,2383.5 539.1,2399.9 547.4,2387.0 555.6,2392.2 563.9,2396.5 572.2,2394.1 580.4,2389.8 588.7,2361.3 597.0,2354.9 605.2,2363.9 613.5,2356.7 621.8,2342.2 630.0,2354.9 638.3,2357.7 646.6,2362.4 654.8,2356.0 663.1,2352.8 671.4,2351.0 679.6,2337.1 687.9,2332.8 696.2,2324.8 704.4,2339.2 712.7,2349.9 721.0,2341.2 729.2,2311.4 737.5,2315.2 745.8,2352.2 754.1,2301.0 762.3,2227.8 770.6,2262.2 778.9,2316.1 787.1,2319.2 795.4,2334.3 803.7,2305.5 811.9,2305.1 820.2,2326.7 828.5,2310.9 836.7,2314.8 845.0,2345.9 853.3,2279.5 861.5,2247.3 869.8,2315.4 878.1,2328.0 886.3,2291.1 894.6,2351.9 902.9,2300.5 911.1,2323.7 919.4,2333.1 927.7,2307.3 935.9,2281.8 944.2,2304.1 952.5,2365.9 960.7,2225.7 969.0,2246.3 977.3,2320.9 985.5,2293.7 993.8,2313.2 1002.1,2285.0 1010.3,2290.5 1018.6,2322.5 1026.9,2297.2 1035.1,2243.0 1043.4,2295.9 1051.7,2277.1 1059.9,2228.5 1068.2,2264.1 1076.5,2227.7 1084.7,2347.1 1093.0,2312.9 1101.3,2276.3 1109.6,2281.3 1117.8,2203.8 1126.1,2219.3 1134.4,2259.9 1142.6,2257.7 1150.9,2212.3 1159.2,2223.6 1167.4,2156.6 1175.7,2255.7 1184.0,2275.2 1192.2,2199.2 1200.5,2248.3 1208.8,2202.7 1217.0,2181.8 1225.3,2208.4 1233.6,2265.8 1241.8,2414.5 1250.1,2032.4 1258.4,2175.7 1266.6,3021.7 1274.9,2512.1 1283.2,2393.4 1291.4,2645.0 1299.7,2567.2 1308.0,2245.9 1316.2,3021.7 1324.5,2144.5 1332.8,2082.9 1341.0,2144.0 1349.3,2143.7 1357.6,3021.7 1365.8,2135.7 1374.1,2346.8 1382.4,2265.8 1390.6,2275.1 1398.9,2107.7 1407.2,3021.7 1415.4,2854.0 1423.7,2002.3 1432.0,2317.6 1440.3,2360.6 1448.5,2180.9 1456.8,2235.1 1465.1,2623.7 1473.3,2255.5 1481.6,2461.3 1489.9,1902.6 1498.1,2372.1 1506.4,2146.7 1514.7,2402.9 1522.9,2077.0 1531.2,2968.1 1539.5,3021.7 1547.7,2629.7 1556.0,3021.7 1564.3,2274.1 1572.5,3021.7 1580.8,2124.6 1589.1,1936.4 1597.3,1951.9 1605.6,2085.6" fill="none" stroke="#FFD966" stroke-width="3.3" stroke-linejoin="round" marker-start="url(#b13)" marker-mid="url(#b13)" marker-end="url(#b13)"/>
<polyline points="233.2,2592.0 241.5,2599.6 249.7,2592.2 258.0,2601.0 266.3,2596.9 274.5,2603.1 282.8,2594.0 291.1,2602.5 299.3,2596.9 307.6,2601.6 315.9,2594.8 324.1,2595.9 332.4,2585.2 340.7,2588.4 348.9,2593.3 357.2,2603.0 365.5,2593.9 373.7,2600.4 382.0,2589.4 390.3,2585.8 398.5,2588.9 406.8,2590.2 415.1,2577.9 423.4,2573.9 431.6,2573.0 439.9,2579.7 448.2,2559.2 456.4,2558.9 464.7,2555.6 473.0,2547.8 481.2,2545.6 489.5,2549.9 497.8,2541.5 506.0,2518.7 514.3,2521.6 522.6,2522.2 530.8,2517.6 539.1,2512.1 547.4,2515.6 555.6,2525.9 563.9,2517.3 572.2,2516.6 580.4,2510.4 588.7,2501.0 597.0,2483.6 605.2,2462.3 613.5,2468.7 621.8,2463.1 630.0,2467.4 638.3,2450.6 646.6,2443.5 654.8,2440.6 663.1,2430.1 671.4,2426.9 679.6,2421.2 687.9,2419.9 696.2,2399.2 704.4,2400.9 712.7,2405.3 721.0,2410.7 729.2,2379.6 737.5,2372.8 745.8,2372.7 754.1,2328.8 762.3,2231.8 770.6,2251.9 778.9,2338.4 787.1,2335.1 795.4,2329.4 803.7,2329.0 811.9,2327.6 820.2,2290.8 828.5,2307.8 836.7,2318.0 845.0,2344.0 853.3,2276.9 861.5,2289.2 869.8,2282.2 878.1,2309.5 886.3,2287.8 894.6,2304.0 902.9,2286.6 911.1,2280.0 919.4,2313.9 927.7,2285.2 935.9,2240.3 944.2,2265.0 952.5,2268.9 960.7,2220.9 969.0,2214.9 977.3,2247.3 985.5,2269.2 993.8,2242.4 1002.1,2235.3 1010.3,2269.7 1018.6,2255.3 1026.9,2214.3 1035.1,2187.8 1043.4,2253.0 1051.7,2241.3 1059.9,2190.0 1068.2,2222.5 1076.5,2179.2 1084.7,2219.8 1093.0,2149.1 1101.3,2181.1 1109.6,2112.1 1117.8,2205.2 1126.1,2229.4 1134.4,2210.4 1142.6,2191.3 1150.9,2156.6 1159.2,2225.7 1167.4,2175.7 1175.7,2148.8 1184.0,2220.4 1192.2,2190.5 1200.5,2118.7 1208.8,2257.6 1217.0,2138.1 1225.3,2071.2 1233.6,2154.9 1241.8,2104.1 1250.1,2008.8 1258.4,2284.5 1266.6,2374.3 1274.9,2822.1 1283.2,3021.7 1291.4,2426.6 1299.7,2678.0 1308.0,2115.6 1316.2,2525.8 1324.5,2023.2 1332.8,1986.2 1341.0,2118.2 1349.3,2034.5 1357.6,2134.3 1365.8,1999.9 1374.1,2163.0 1382.4,2103.0 1390.6,2126.6 1398.9,2112.2 1407.2,2217.5 1415.4,2159.7 1423.7,2313.0 1432.0,1954.8 1440.3,2132.3 1448.5,2230.1 1456.8,1939.4 1465.1,3021.7 1473.3,2349.5 1481.6,1905.4 1489.9,1213.4 1498.1,2432.7 1506.4,2097.1 1514.7,2302.1 1522.9,2103.1 1531.2,2010.2 1539.5,1910.1 1547.7,2224.3 1556.0,3021.7 1564.3,2136.0 1572.5,2145.1 1580.8,2250.2 1589.1,3021.7 1597.3,2169.7 1605.6,1857.1" fill="none" stroke="#385723" stroke-width="3.4" stroke-linejoin="round" marker-start="url(#b14)" marker-mid="url(#b14)" marker-end="url(#b14)"/>
<polyline points="233.2,2460.0 241.5,2466.4 249.7,2471.6 258.0,2472.9 266.3,2457.2 274.5,2409.4 282.8,2463.0 291.1,2442.9 299.3,2458.1 307.6,2453.1 315.9,2468.9 324.1,2467.1 332.4,2520.0 340.7,2478.5 348.9,2482.8 357.2,2480.7 365.5,2445.3 373.7,2482.5 382.0,2433.1 390.3,2415.3 398.5,2423.6 406.8,2459.0 415.1,2465.9 423.4,2416.9 431.6,2424.1 439.9,2434.2 448.2,2410.2 456.4,2474.7 464.7,2405.5 473.0,2439.1 481.2,2418.5 489.5,2456.0 497.8,2458.0 506.0,2400.7 514.3,2443.0 522.6,2463.9 530.8,2381.8 539.1,2447.2 547.4,2462.5 555.6,2481.9 563.9,2421.6 572.2,2416.4 580.4,2430.2 588.7,2388.5 597.0,2402.1 605.2,2386.3 613.5,2370.0 621.8,2354.7 630.0,2417.0 638.3,2371.9 646.6,2356.4 654.8,2375.5 663.1,2387.4 671.4,2380.4 679.6,2363.3 687.9,2373.0 696.2,2329.1 704.4,2298.2 712.7,2347.1 721.0,2352.6 729.2,2322.9 737.5,2376.7 745.8,2343.1 754.1,2316.2 762.3,2197.9 770.6,2216.9 778.9,2326.3 787.1,2363.0 795.4,2345.5 803.7,2354.9 811.9,2357.0 820.2,2275.2 828.5,2286.8 836.7,2367.1 845.0,2332.7 853.3,2313.3 861.5,2316.3 869.8,2303.9 878.1,2280.1 886.3,2284.4 894.6,2280.5 902.9,2275.2 911.1,2319.9 919.4,2276.5 927.7,2273.6 935.9,2343.2 944.2,2243.7 952.5,2276.4 960.7,2296.1 969.0,2215.6 977.3,2322.2 985.5,2267.9 993.8,2202.4 1002.1,2292.3 1010.3,2205.2 1018.6,2259.5 1026.9,2268.8 1035.1,2224.3 1043.4,2261.5 1051.7,2180.8 1059.9,2248.2 1068.2,2222.5 1076.5,2209.1 1084.7,2144.6 1093.0,2206.3 1101.3,2233.0 1109.6,2217.9 1117.8,2290.0 1126.1,2132.3 1134.4,2215.0 1142.6,2179.5 1150.9,2161.6 1159.2,2240.1 1167.4,2778.3 1175.7,2154.0 1184.0,2173.8 1192.2,2211.6 1200.5,2268.3 1208.8,2070.0 1217.0,2201.2 1225.3,2084.9 1233.6,2051.4 1241.8,1829.1 1250.1,1924.1 1258.4,2587.8 1266.6,2759.9 1274.9,2149.4 1283.2,3021.7 1291.4,3011.9 1299.7,2716.2 1308.0,3021.7 1316.2,2720.5 1324.5,2011.4 1332.8,2099.5 1341.0,1945.8 1349.3,2169.7 1357.6,2943.7 1365.8,2233.9 1374.1,1942.9 1382.4,1923.9 1390.6,2259.4 1398.9,2197.0 1407.2,2142.9 1415.4,2487.6 1423.7,3021.7 1432.0,2086.5 1440.3,2268.7 1448.5,2381.5 1456.8,2485.7 1465.1,2149.2 1473.3,2093.8 1481.6,2574.8 1489.9,2101.9 1498.1,2331.9 1506.4,2354.2 1514.7,2259.4 1522.9,2042.5 1531.2,2121.9 1539.5,2563.7 1547.7,2203.3 1556.0,2344.7 1564.3,2197.1 1572.5,3021.7 1580.8,2155.3 1589.1,2446.2 1597.3,1821.9 1605.6,2003.6" fill="none" stroke="#1F4E79" stroke-width="3.3" stroke-linejoin="round" marker-start="url(#b15)" marker-mid="url(#b15)" marker-end="url(#b15)"/>
<polyline points="233.2,2481.3 241.5,2479.4 249.7,2467.7 258.0,2457.4 266.3,2465.3 274.5,2457.1 282.8,2464.4 291.1,2467.3 299.3,2454.4 307.6,2454.3 315.9,2444.1 324.1,2447.5 332.4,2443.0 340.7,2446.5 348.9,2442.8 357.2,2430.2 365.5,2425.6 373.7,2424.5 382.0,2424.0 390.3,2413.1 398.5,2407.2 406.8,2412.2 415.1,2409.4 423.4,2407.7 431.6,2406.8 439.9,2402.7 448.2,2387.1 456.4,2377.1 464.7,2372.8 473.0,2376.7 481.2,2360.6 489.5,2349.1 497.8,2340.1 506.0,2341.3 514.3,2338.5 522.6,2329.8 530.8,2319.3 539.1,2310.5 547.4,2311.3 555.6,2310.7 563.9,2301.6 572.2,2294.1 580.4,2265.0 588.7,2255.0 597.0,2242.4 605.2,2235.0 613.5,2233.3 621.8,2226.5 630.0,2218.4 638.3,2211.9 646.6,2211.2 654.8,2212.8 663.1,2210.4 671.4,2203.7 679.6,2195.5 687.9,2190.5 696.2,2193.7 704.4,2181.8 712.7,2165.2 721.0,2147.2 729.2,2133.6 737.5,2129.9 745.8,2098.4 754.1,2060.2 762.3,2016.2 770.6,2003.6 778.9,2028.6 787.1,2042.9 795.4,2064.5 803.7,2072.4 811.9,2066.9 820.2,2074.8 828.5,2079.0 836.7,2073.4 845.0,2101.1 853.3,2106.6 861.5,2101.4 869.8,2102.3 878.1,2141.9 886.3,2129.0 894.6,2116.5 902.9,2125.3 911.1,2113.6 919.4,2125.9 927.7,2142.3 935.9,2148.1 944.2,2148.0 952.5,2131.2 960.7,2146.5 969.0,2160.0 977.3,2157.4 985.5,2148.9 993.8,2167.8 1002.1,2200.3 1010.3,2194.8 1018.6,2137.3 1026.9,2138.7 1035.1,2214.1 1043.4,2136.6 1051.7,2154.1 1059.9,2148.1 1068.2,2148.0 1076.5,2158.5 1084.7,2143.7 1093.0,2191.6 1101.3,2161.9 1109.6,2154.6 1117.8,2181.0 1126.1,2168.7 1134.4,2222.1 1142.6,2166.0 1150.9,2138.0 1159.2,2171.8 1167.4,2163.0 1175.7,2172.7 1184.0,2156.4 1192.2,2165.0 1200.5,2183.7 1208.8,2120.5 1217.0,2103.0 1225.3,2075.1 1233.6,2178.3 1241.8,2179.5 1250.1,2095.4 1258.4,2290.7 1266.6,3021.7 1274.9,2460.5 1283.2,2516.0 1291.4,2909.0 1299.7,2522.5 1308.0,2901.4 1316.2,2330.2 1324.5,2133.1 1332.8,2065.2 1341.0,2023.9 1349.3,2004.4 1357.6,2078.4 1365.8,2172.7 1374.1,2113.2 1382.4,3021.7 1390.6,2255.8 1398.9,2418.1 1407.2,1213.4 1415.4,2070.5 1423.7,3021.7 1432.0,2271.8 1440.3,2309.1 1448.5,2345.3 1456.8,1991.2 1465.1,2819.3 1473.3,2153.5 1481.6,2109.8 1489.9,3021.7 1498.1,2175.7 1506.4,2222.8 1514.7,2149.2 1522.9,2219.1 1531.2,3021.7 1539.5,2109.0 1547.7,2166.2 1556.0,2349.5 1564.3,2254.1 1572.5,1807.8 1580.8,2042.6 1589.1,2065.8 1597.3,3021.7 1605.6,3021.7" fill="none" stroke="#806000" stroke-width="3.4" stroke-linejoin="round" marker-start="url(#b16)" marker-mid="url(#b16)" marker-end="url(#b16)"/>
<polyline points="233.2,2472.2 241.5,2457.8 249.7,2443.9 258.0,2456.7 266.3,2453.5 274.5,2441.0 282.8,2452.9 291.1,2448.2 299.3,2453.7 307.6,2459.8 315.9,2452.2 324.1,2447.2 332.4,2441.2 340.7,2436.7 348.9,2446.5 357.2,2442.9 365.5,2431.7 373.7,2440.3 382.0,2417.9 390.3,2431.8 398.5,2438.0 406.8,2419.0 415.1,2423.0 423.4,2412.2 431.6,2417.4 439.9,2422.9 448.2,2415.7 456.4,2397.2 464.7,2389.7 473.0,2374.4 481.2,2404.6 489.5,2406.1 497.8,2395.9 506.0,2385.0 514.3,2395.4 522.6,2383.3 530.8,2371.1 539.1,2378.1 547.4,2377.8 555.6,2345.1 563.9,2356.5 572.2,2351.8 580.4,2352.6 588.7,2360.7 597.0,2366.3 605.2,2343.2 613.5,2358.6 621.8,2341.7 630.0,2344.2 638.3,2347.0 646.6,2353.4 654.8,2322.3 663.1,2331.3 671.4,2333.3 679.6,2341.3 687.9,2338.3 696.2,2304.4 704.4,2314.1 712.7,2322.9 721.0,2332.5 729.2,2327.7 737.5,2304.0 745.8,2294.8 754.1,2267.9 762.3,2161.3 770.6,2200.8 778.9,2275.8 787.1,2303.3 795.4,2303.3 803.7,2293.1 811.9,2310.6 820.2,2315.6 828.5,2245.1 836.7,2262.3 845.0,2287.0 853.3,2263.3 861.5,2310.4 869.8,2285.1 878.1,2294.4 886.3,2273.0 894.6,2265.4 902.9,2262.8 911.1,2190.4 919.4,2241.6 927.7,2255.4 935.9,2243.4 944.2,2250.0 952.5,2246.0 960.7,2290.3 969.0,2223.6 977.3,2281.5 985.5,2236.3 993.8,2251.9 1002.1,2224.8 1010.3,2254.2 1018.6,2162.9 1026.9,2243.7 1035.1,2236.5 1043.4,2139.8 1051.7,2186.6 1059.9,2220.8 1068.2,2241.1 1076.5,2200.1 1084.7,2222.4 1093.0,2171.1 1101.3,2216.9 1109.6,2228.6 1117.8,2213.3 1126.1,2138.9 1134.4,2270.7 1142.6,2190.5 1150.9,2216.1 1159.2,2136.7 1167.4,2103.8 1175.7,2112.7 1184.0,2288.8 1192.2,2227.1 1200.5,2171.1 1208.8,2180.2 1217.0,2018.1 1225.3,2144.8 1233.6,1939.6 1241.8,2016.5 1250.1,2274.0 1258.4,2412.8 1266.6,2522.3 1274.9,3021.7 1283.2,3021.7 1291.4,2118.0 1299.7,2626.7 1308.0,2840.4 1316.2,2577.8 1324.5,2006.6 1332.8,2066.7 1341.0,2125.1 1349.3,1996.8 1357.6,2017.0 1365.8,2870.2 1374.1,2070.9 1382.4,2193.0 1390.6,2868.1 1398.9,2369.0 1407.2,3021.7 1415.4,2439.1 1423.7,2243.4 1432.0,2501.2 1440.3,2012.5 1448.5,3021.7 1456.8,2343.1 1465.1,2072.8 1473.3,2297.5 1481.6,1952.8 1489.9,1862.1 1498.1,2160.0 1506.4,3021.7 1514.7,1904.0 1522.9,2346.9 1531.2,2178.2 1539.5,2429.3 1547.7,3021.7 1556.0,2335.7 1564.3,3021.7 1572.5,2259.1 1580.8,1213.4 1589.1,2794.8 1597.3,2148.4 1605.6,3021.7" fill="none" stroke="#9AC97B" stroke-width="3.3" stroke-linejoin="round" marker-start="url(#b17)" marker-mid="url(#b17)" marker-end="url(#b17)"/>
<polyline points="233.2,2583.5 241.5,2593.4 249.7,2584.0 258.0,2566.5 266.3,2581.6 274.5,2573.3 282.8,2568.3 291.1,2588.5 299.3,2553.8 307.6,2551.0 315.9,2557.1 324.1,2543.2 332.4,2556.9 340.7,2549.6 348.9,2554.8 357.2,2556.0 365.5,2557.3 373.7,2527.6 382.0,2536.3 390.3,2524.4 398.5,2517.6 406.8,2507.5 415.1,2492.2 423.4,2507.6 431.6,2501.8 439.9,2509.1 448.2,2499.6 456.4,2489.1 464.7,2500.0 473.0,2491.0 481.2,2474.8 489.5,2466.0 497.8,2448.2 506.0,2465.1 514.3,2463.8 522.6,2460.3 530.8,2450.2 539.1,2457.0 547.4,2454.5 555.6,2438.8 563.9,2436.6 572.2,2421.8 580.4,2421.9 588.7,2424.5 597.0,2435.7 605.2,2416.7 613.5,2415.6 621.8,2409.4 630.0,2412.5 638.3,2407.2 646.6,2405.3 654.8,2391.9 663.1,2384.3 671.4,2379.0 679.6,2399.9 687.9,2392.7 696.2,2389.0 704.4,2381.3 712.7,2370.5 721.0,2365.1 729.2,2384.3 737.5,2372.4 745.8,2341.4 754.1,2290.7 762.3,2198.3 770.6,2200.2 778.9,2274.2 787.1,2266.9 795.4,2250.4 803.7,2264.9 811.9,2264.5 820.2,2239.1 828.5,2242.2 836.7,2263.6 845.0,2270.8 853.3,2226.7 861.5,2261.1 869.8,2257.2 878.1,2230.5 886.3,2254.5 894.6,2198.9 902.9,2244.3 911.1,2263.6 919.4,2216.5 927.7,2254.4 935.9,2228.2 944.2,2272.0 952.5,2248.4 960.7,2233.1 969.0,2172.3 977.3,2213.7 985.5,2233.6 993.8,2212.4 1002.1,2227.8 1010.3,2253.6 1018.6,2249.1 1026.9,2211.5 1035.1,2164.5 1043.4,2153.6 1051.7,2173.4 1059.9,2190.4 1068.2,2231.4 1076.5,2181.9 1084.7,2206.0 1093.0,2127.5 1101.3,2131.7 1109.6,2195.8 1117.8,2197.5 1126.1,2199.5 1134.4,2167.0 1142.6,2133.5 1150.9,2230.5 1159.2,2137.4 1167.4,2033.9 1175.7,2107.2 1184.0,2200.3 1192.2,2133.7 1200.5,2212.7 1208.8,2110.2 1217.0,2002.6 1225.3,2132.1 1233.6,2038.7 1241.8,2127.6 1250.1,2034.3 1258.4,2331.1 1266.6,2331.1 1274.9,3021.7 1283.2,2722.2 1291.4,3021.7 1299.7,2500.6 1308.0,3021.7 1316.2,2852.1 1324.5,2132.2 1332.8,1951.2 1341.0,2008.9 1349.3,2169.5 1357.6,2038.2 1365.8,1935.2 1374.1,2231.7 1382.4,2145.4 1390.6,2164.7 1398.9,2384.9 1407.2,2137.1 1415.4,2124.4 1423.7,1960.1 1432.0,2002.7 1440.3,2189.7 1448.5,2173.1 1456.8,2326.6 1465.1,2264.8 1473.3,1998.5 1481.6,2183.4 1489.9,2422.0 1498.1,2342.4 1506.4,2346.4 1514.7,1967.0 1522.9,2267.7 1531.2,1906.8 1539.5,2084.7 1547.7,2865.6 1556.0,2157.8 1564.3,2184.3 1572.5,2948.4 1580.8,2143.6 1589.1,2255.7 1597.3,2230.6 1605.6,2370.0" fill="none" stroke="#8CB9E2" stroke-width="3.3" stroke-linejoin="round" marker-start="url(#b18)" marker-mid="url(#b18)" marker-end="url(#b18)"/>
<polyline points="233.2,2533.1 241.5,2529.9 249.7,2526.6 258.0,2510.8 266.3,2513.8 274.5,2522.7 282.8,2517.6 291.1,2518.4 299.3,2518.4 307.6,2527.6 315.9,2522.5 324.1,2517.4 332.4,2503.8 340.7,2489.1 348.9,2504.8 357.2,2504.7 365.5,2499.4 373.7,2500.5 382.0,2494.5 390.3,2499.4 398.5,2502.1 406.8,2512.9 415.1,2499.8 423.4,2480.1 431.6,2473.7 439.9,2489.3 448.2,2483.4 456.4,2474.8 464.7,2468.5 473.0,2470.3 481.2,2484.7 489.5,2472.3 497.8,2440.2 506.0,2458.5 514.3,2456.0 522.6,2457.6 530.8,2456.1 539.1,2442.4 547.4,2455.9 555.6,2446.5 563.9,2435.1 572.2,2437.3 580.4,2436.4 588.7,2431.1 597.0,2406.4 605.2,2414.8 613.5,2415.3 621.8,2448.5 630.0,2447.9 638.3,2433.0 646.6,2426.0 654.8,2405.0 663.1,2405.2 671.4,2428.7 679.6,2419.2 687.9,2404.5 696.2,2392.3 704.4,2424.2 712.7,2410.1 721.0,2433.9 729.2,2428.1 737.5,2414.8 745.8,2407.3 754.1,2359.9 762.3,2211.0 770.6,2243.5 778.9,2347.4 787.1,2361.0 795.4,2343.9 803.7,2383.1 811.9,2368.0 820.2,2376.7 828.5,2370.5 836.7,2387.6 845.0,2350.0 853.3,2376.1 861.5,2366.8 869.8,2361.4 878.1,2364.3 886.3,2360.1 894.6,2365.9 902.9,2404.7 911.1,2347.3 919.4,2373.1 927.7,2372.4 935.9,2507.0 944.2,2340.5 952.5,2359.5 960.7,2383.1 969.0,2356.0 977.3,2344.7 985.5,2345.9 993.8,2479.2 1002.1,2333.9 1010.3,2326.7 1018.6,2687.9 1026.9,2320.6 1035.1,2285.9 1043.4,2352.7 1051.7,2344.4 1059.9,2361.5 1068.2,2351.6 1076.5,2318.8 1084.7,2300.4 1093.0,2327.7 1101.3,2321.2 1109.6,2293.8 1117.8,2331.5 1126.1,2352.2 1134.4,2310.1 1142.6,2311.2 1150.9,2315.6 1159.2,2287.2 1167.4,2266.1 1175.7,2269.4 1184.0,2251.8 1192.2,2292.0 1200.5,2301.9 1208.8,2349.5 1217.0,2245.8 1225.3,2058.0 1233.6,2261.8 1241.8,2146.4 1250.1,2245.8 1258.4,2417.4 1266.6,2210.9 1274.9,2390.6 1283.2,3021.7 1291.4,2682.0 1299.7,2629.7 1308.0,2219.0 1316.2,2695.8 1324.5,2182.3 1332.8,2173.4 1341.0,2166.7 1349.3,2283.4 1357.6,2081.1 1365.8,2089.9 1374.1,1976.0 1382.4,3021.7 1390.6,2236.9 1398.9,2222.1 1407.2,2212.8 1415.4,2275.7 1423.7,2358.4 1432.0,2463.8 1440.3,3021.7 1448.5,2171.4 1456.8,3021.7 1465.1,3021.7 1473.3,2390.0 1481.6,2307.8 1489.9,2142.7 1498.1,2410.7 1506.4,2476.1 1514.7,2121.3 1522.9,2454.7 1531.2,2257.8 1539.5,2123.7 1547.7,2376.3 1556.0,2266.9 1564.3,1975.2 1572.5,2005.0 1580.8,2328.6 1589.1,2072.1 1597.3,2482.7 1605.6,2861.0" fill="none" stroke="#FFD34C" stroke-width="3.3" stroke-linejoin="round" marker-start="url(#b19)" marker-mid="url(#b19)" marker-end="url(#b19)"/>
<polyline points="233.2,2520.5 241.5,2528.7 249.7,2511.2 258.0,2510.6 266.3,2511.2 274.5,2503.6 282.8,2515.7 291.1,2495.6 299.3,2491.2 307.6,2506.7 315.9,2500.5 324.1,2498.5 332.4,2515.6 340.7,2503.8 348.9,2490.6 357.2,2470.4 365.5,2477.2 373.7,2493.5 382.0,2488.1 390.3,2495.4 398.5,2477.7 406.8,2468.9 415.1,2479.3 423.4,2469.8 431.6,2467.5 439.9,2466.1 448.2,2490.0 456.4,2485.8 464.7,2468.8 473.0,2455.7 481.2,2452.0 489.5,2438.8 497.8,2448.1 506.0,2441.8 514.3,2428.9 522.6,2447.6 530.8,2435.8 539.1,2443.1 547.4,2450.7 555.6,2438.5 563.9,2436.9 572.2,2417.9 580.4,2425.3 588.7,2432.1 597.0,2421.4 605.2,2429.4 613.5,2412.5 621.8,2401.3 630.0,2399.3 638.3,2378.6 646.6,2391.4 654.8,2402.3 663.1,2391.2 671.4,2393.1 679.6,2404.9 687.9,2405.5 696.2,2387.3 704.4,2371.5 712.7,2404.2 721.0,2372.6 729.2,2384.2 737.5,2379.9 745.8,2355.9 754.1,2332.1 762.3,2225.0 770.6,2243.5 778.9,2357.0 787.1,2362.8 795.4,2349.3 803.7,2321.7 811.9,2339.2 820.2,2314.4 828.5,2277.9 836.7,2341.7 845.0,2292.4 853.3,2302.1 861.5,2342.4 869.8,2319.3 878.1,2272.4 886.3,2270.6 894.6,2317.5 902.9,2313.5 911.1,2319.5 919.4,2328.2 927.7,2254.3 935.9,2271.0 944.2,2288.5 952.5,2274.1 960.7,2237.6 969.0,2209.0 977.3,2258.3 985.5,2252.0 993.8,2216.3 1002.1,2265.7 1010.3,2270.0 1018.6,2231.6 1026.9,2258.7 1035.1,2220.4 1043.4,2209.9 1051.7,2280.4 1059.9,2167.3 1068.2,2179.3 1076.5,2234.1 1084.7,2222.8 1093.0,2258.4 1101.3,2223.8 1109.6,2165.0 1117.8,2247.0 1126.1,2203.7 1134.4,2107.1 1142.6,2175.2 1150.9,2207.5 1159.2,3021.7 1167.4,2128.0 1175.7,2082.1 1184.0,2138.8 1192.2,2122.3 1200.5,2190.4 1208.8,2198.5 1217.0,2114.6 1225.3,2254.5 1233.6,2074.7 1241.8,2039.1 1250.1,2302.5 1258.4,2397.0 1266.6,2284.0 1274.9,2557.7 1283.2,2649.3 1291.4,2753.6 1299.7,2672.0 1308.0,2076.0 1316.2,2576.8 1324.5,2079.7 1332.8,2182.5 1341.0,2134.8 1349.3,2184.6 1357.6,2015.8 1365.8,2365.6 1374.1,2067.7 1382.4,1918.6 1390.6,2082.8 1398.9,2362.9 1407.2,2365.7 1415.4,2158.8 1423.7,3021.7 1432.0,1213.4 1440.3,3021.7 1448.5,2187.2 1456.8,2846.0 1465.1,2361.9 1473.3,2364.5 1481.6,2079.7 1489.9,2453.4 1498.1,2077.2 1506.4,1862.6 1514.7,2326.1 1522.9,2458.4 1531.2,2431.5 1539.5,3021.7 1547.7,1213.4 1556.0,2402.7 1564.3,2061.2 1572.5,1934.5 1580.8,2432.2 1589.1,3021.7 1597.3,1985.1 1605.6,2207.4" fill="none" stroke="#4E7932" stroke-width="3.3" stroke-linejoin="round" marker-start="url(#b20)" marker-mid="url(#b20)" marker-end="url(#b20)"/>
<polyline points="233.2,2462.6 241.5,2469.9 249.7,2486.4 258.0,2469.5 266.3,2472.3 274.5,2450.6 282.8,2465.8 291.1,2455.9 299.3,2452.2 307.6,2454.8 315.9,2460.6 324.1,2438.9 332.4,2445.8 340.7,2440.2 348.9,2452.2 357.2,2445.3 365.5,2435.6 373.7,2429.8 382.0,2419.0 390.3,2416.1 398.5,2442.6 406.8,2424.0 415.1,2422.1 423.4,2412.5 431.6,2426.6 439.9,2416.3 448.2,2430.3 456.4,2427.6 464.7,2432.9 473.0,2416.7 481.2,2427.9 489.5,2439.4 497.8,2414.3 506.0,2421.4 514.3,2445.3 522.6,2413.6 530.8,2397.9 539.1,2401.7 547.4,2411.1 555.6,2403.4 563.9,2407.7 572.2,2396.7 580.4,2392.4 588.7,2397.0 597.0,2384.0 605.2,2401.8 613.5,2369.6 621.8,2383.0 630.0,2384.9 638.3,2358.6 646.6,2366.0 654.8,2379.4 663.1,2398.8 671.4,2375.6 679.6,2395.9 687.9,2398.6 696.2,2397.2 704.4,2403.8 712.7,2379.2 721.0,2366.8 729.2,2379.1 737.5,2383.8 745.8,2391.1 754.1,2325.6 762.3,2219.1 770.6,2269.3 778.9,2343.5 787.1,2338.5 795.4,2331.2 803.7,2354.9 811.9,2355.2 820.2,2313.2 828.5,2334.7 836.7,2350.4 845.0,2362.5 853.3,2311.6 861.5,2337.0 869.8,2344.9 878.1,2387.1 886.3,2346.6 894.6,2329.6 902.9,2333.8 911.1,2340.9 919.4,2302.3 927.7,2300.8 935.9,2302.4 944.2,2301.8 952.5,2317.5 960.7,2301.3 969.0,2284.2 977.3,2299.5 985.5,2359.5 993.8,2392.4 1002.1,2253.6 1010.3,2258.9 1018.6,2226.8 1026.9,2332.4 1035.1,2245.3 1043.4,2231.3 1051.7,2277.7 1059.9,2240.0 1068.2,2306.0 1076.5,2276.0 1084.7,2288.3 1093.0,2274.6 1101.3,2270.1 1109.6,2220.4 1117.8,2238.0 1126.1,2282.7 1134.4,2268.5 1142.6,2210.4 1150.9,2281.5 1159.2,2236.2 1167.4,2234.5 1175.7,2238.6 1184.0,2178.3 1192.2,2216.6 1200.5,2297.7 1208.8,2146.2 1217.0,2153.0 1225.3,1988.0 1233.6,2026.1 1241.8,1997.3 1250.1,2060.2 1258.4,2258.7 1266.6,3021.7 1274.9,2406.0 1283.2,2753.1 1291.4,2443.2 1299.7,2507.1 1308.0,2626.3 1316.2,2722.1 1324.5,2169.7 1332.8,2161.9 1341.0,1985.7 1349.3,2245.3 1357.6,3021.7 1365.8,3021.7 1374.1,2449.0 1382.4,2117.4 1390.6,2214.6 1398.9,1902.6 1407.2,2361.7 1415.4,2024.4 1423.7,2331.4 1432.0,2536.0 1440.3,2329.3 1448.5,2517.8 1456.8,3021.7 1465.1,2213.1 1473.3,2256.9 1481.6,2509.5 1489.9,2355.9 1498.1,1213.4 1506.4,3021.7 1514.7,2296.1 1522.9,2204.6 1531.2,3021.7 1539.5,2228.6 1547.7,1964.7 1556.0,2149.4 1564.3,2320.2 1572.5,1766.5 1580.8,3021.7 1589.1,2668.9 1597.3,2407.6 1605.6,2366.8" fill="none" stroke="#2B6DA9" stroke-width="3.3" stroke-linejoin="round" marker-start="url(#b21)" marker-mid="url(#b21)" marker-end="url(#b21)"/>
<polyline points="233.2,2427.8 241.5,2423.4 249.7,2418.9 258.0,2411.0 266.3,2410.8 274.5,2410.5 282.8,2405.9 291.1,2401.2 299.3,2393.2 307.6,2393.2 315.9,2391.6 324.1,2393.7 332.4,2389.3 340.7,2390.8 348.9,2391.0 357.2,2386.7 365.5,2380.9 373.7,2373.0 382.0,2368.2 390.3,2364.2 398.5,2361.3 406.8,2355.1 415.1,2353.2 423.4,2348.3 431.6,2340.9 439.9,2332.8 448.2,2329.6 456.4,2332.2 464.7,2333.7 473.0,2325.2 481.2,2326.8 489.5,2325.8 497.8,2322.2 506.0,2316.6 514.3,2307.9 522.6,2285.0 530.8,2264.0 539.1,2256.4 547.4,2241.0 555.6,2224.1 563.9,2217.8 572.2,2206.8 580.4,2201.0 588.7,2192.6 597.0,2188.1 605.2,2176.4 613.5,2162.5 621.8,2149.0 630.0,2143.0 638.3,2133.3 646.6,2127.7 654.8,2114.2 663.1,2109.9 671.4,2112.7 679.6,2099.1 687.9,2096.9 696.2,2091.4 704.4,2079.7 712.7,2092.5 721.0,2111.2 729.2,2098.6 737.5,2080.8 745.8,2064.7 754.1,2008.8 762.3,2028.6 770.6,2069.2 778.9,2095.3 787.1,2103.8 795.4,2118.6 803.7,2124.6 811.9,2125.3 820.2,2126.2 828.5,2117.0 836.7,2126.7 845.0,2124.7 853.3,2125.4 861.5,2137.9 869.8,2126.5 878.1,2133.8 886.3,2106.4 894.6,2098.3 902.9,2098.9 911.1,2106.5 919.4,2083.8 927.7,2099.5 935.9,2077.6 944.2,2087.8 952.5,2089.0 960.7,2097.7 969.0,2069.7 977.3,2067.9 985.5,2102.8 993.8,2089.0 1002.1,2086.0 1010.3,2082.2 1018.6,2071.6 1026.9,2110.3 1035.1,2093.3 1043.4,2109.1 1051.7,2096.2 1059.9,2096.6 1068.2,2073.5 1076.5,2063.8 1084.7,2059.5 1093.0,2070.8 1101.3,2079.3 1109.6,2064.4 1117.8,2060.4 1126.1,2066.4 1134.4,2063.0 1142.6,2075.0 1150.9,2051.4 1159.2,2055.3 1167.4,2084.7 1175.7,2075.9 1184.0,2042.0 1192.2,2031.0 1200.5,2043.7 1208.8,2032.3 1217.0,2016.0 1225.3,2054.5 1233.6,2031.0 1241.8,1967.9 1250.1,2085.2 1258.4,2215.5 1266.6,2875.8 1274.9,2295.7 1283.2,2403.9 1291.4,2494.7 1299.7,2352.9 1308.0,2471.6 1316.2,2465.9 1324.5,2039.2 1332.8,2009.2 1341.0,2002.0 1349.3,1213.4 1357.6,2028.0 1365.8,2154.6 1374.1,2172.8 1382.4,2114.1 1390.6,2063.5 1398.9,2085.4 1407.2,2233.1 1415.4,2234.7 1423.7,1995.9 1432.0,2104.7 1440.3,2149.4 1448.5,3021.7 1456.8,2116.9 1465.1,2084.6 1473.3,2044.1 1481.6,2133.7 1489.9,2186.5 1498.1,2162.8 1506.4,2023.9 1514.7,2100.9 1522.9,2138.8 1531.2,2152.7 1539.5,2058.5 1547.7,2153.2 1556.0,2093.3 1564.3,2889.8 1572.5,2117.6 1580.8,2927.1 1589.1,2138.8 1597.3,2212.8 1605.6,2070.1" fill="none" stroke="#B28600" stroke-width="3.4" stroke-linejoin="round" marker-start="url(#b22)" marker-mid="url(#b22)" marker-end="url(#b22)"/>
<polyline points="233.2,2512.8 241.5,2533.2 249.7,2518.4 258.0,2515.2 266.3,2504.6 274.5,2492.6 282.8,2499.9 291.1,2525.9 299.3,2488.7 307.6,2523.1 315.9,2490.9 324.1,2485.0 332.4,2499.1 340.7,2498.6 348.9,2484.4 357.2,2459.9 365.5,2507.1 373.7,2495.2 382.0,2469.4 390.3,2479.1 398.5,2459.3 406.8,2461.2 415.1,2448.7 423.4,2449.0 431.6,2452.1 439.9,2422.6 448.2,2386.3 456.4,2402.7 464.7,2396.2 473.0,2427.0 481.2,2419.0 489.5,2432.5 497.8,2406.6 506.0,2415.7 514.3,2392.1 522.6,2424.3 530.8,2398.7 539.1,2396.0 547.4,2389.1 555.6,2369.2 563.9,2383.0 572.2,2416.7 580.4,2376.4 588.7,2400.9 597.0,2372.7 605.2,2355.9 613.5,2354.9 621.8,2359.8 630.0,2391.0 638.3,2365.4 646.6,2375.5 654.8,2374.2 663.1,2371.3 671.4,2342.3 679.6,2341.5 687.9,2465.3 696.2,2320.3 704.4,2472.3 712.7,2534.8 721.0,2298.9 729.2,2300.9 737.5,2329.3 745.8,2293.1 754.1,2264.5 762.3,2106.0 770.6,2172.0 778.9,2293.3 787.1,2279.8 795.4,2296.7 803.7,2304.0 811.9,2260.8 820.2,2288.6 828.5,2309.3 836.7,2319.0 845.0,2277.9 853.3,2296.6 861.5,2257.0 869.8,2270.7 878.1,2316.8 886.3,2311.3 894.6,2276.1 902.9,2213.0 911.1,2328.6 919.4,2311.6 927.7,2295.6 935.9,2278.7 944.2,2303.7 952.5,2259.3 960.7,2188.9 969.0,2199.3 977.3,2245.3 985.5,2218.1 993.8,2193.3 1002.1,2275.4 1010.3,2240.7 1018.6,2313.2 1026.9,2142.0 1035.1,2150.3 1043.4,2182.8 1051.7,2202.6 1059.9,2268.1 1068.2,2178.9 1076.5,2231.0 1084.7,2211.4 1093.0,2068.6 1101.3,2189.1 1109.6,2088.9 1117.8,2264.9 1126.1,2206.0 1134.4,2252.9 1142.6,2219.8 1150.9,2088.1 1159.2,2224.5 1167.4,2230.1 1175.7,1973.4 1184.0,2072.1 1192.2,3021.7 1200.5,3021.7 1208.8,3021.7 1217.0,2027.9 1225.3,2092.4 1233.6,1959.8 1241.8,1368.8 1250.1,2369.2 1258.4,2217.0 1266.6,3021.7 1274.9,2249.0 1283.2,3021.7 1291.4,2390.0 1299.7,2328.9 1308.0,2649.1 1316.2,2826.0 1324.5,2186.6 1332.8,2173.5 1341.0,1964.2 1349.3,2205.8 1357.6,1930.5 1365.8,3021.7 1374.1,2050.3 1382.4,2059.3 1390.6,2567.7 1398.9,2815.0 1407.2,2082.2 1415.4,2044.6 1423.7,2224.5 1432.0,1455.8 1440.3,1327.9 1448.5,2301.8 1456.8,2189.2 1465.1,2302.4 1473.3,2418.1 1481.6,3021.7 1489.9,2072.2 1498.1,1817.1 1506.4,2299.6 1514.7,2022.6 1522.9,2444.6 1531.2,2139.1 1539.5,2403.5 1547.7,2390.6 1556.0,2018.7 1564.3,1872.7 1572.5,1855.0 1580.8,2280.0 1589.1,2423.6 1597.3,1922.1 1605.6,2039.7" fill="none" stroke="#B7D8A1" stroke-width="3.2" stroke-linejoin="round" marker-start="url(#b23)" marker-mid="url(#b23)" marker-end="url(#b23)"/>
<polyline points="233.2,2521.6 241.5,2529.4 249.7,2525.6 258.0,2518.3 266.3,2508.7 274.5,2523.7 282.8,2512.3 291.1,2508.8 299.3,2498.3 307.6,2516.4 315.9,2511.8 324.1,2524.6 332.4,2533.9 340.7,2512.0 348.9,2495.6 357.2,2507.6 365.5,2501.1 373.7,2516.9 382.0,2505.8 390.3,2504.2 398.5,2495.8 406.8,2490.5 415.1,2494.6 423.4,2478.8 431.6,2476.3 439.9,2482.6 448.2,2476.9 456.4,2479.7 464.7,2479.3 473.0,2468.8 481.2,2468.4 489.5,2479.3 497.8,2473.6 506.0,2458.6 514.3,2459.3 522.6,2458.0 530.8,2443.9 539.1,2447.1 547.4,2459.4 555.6,2452.4 563.9,2454.7 572.2,2444.8 580.4,2440.8 588.7,2450.3 597.0,2452.8 605.2,2434.7 613.5,2425.1 621.8,2437.0 630.0,2429.0 638.3,2424.3 646.6,2431.8 654.8,2431.6 663.1,2439.9 671.4,2438.1 679.6,2431.9 687.9,2418.6 696.2,2441.4 704.4,2414.7 712.7,2426.9 721.0,2416.4 729.2,2444.5 737.5,2423.6 745.8,2429.9 754.1,2399.0 762.3,2298.8 770.6,2308.7 778.9,2393.6 787.1,2375.8 795.4,2384.0 803.7,2361.2 811.9,2394.3 820.2,2401.4 828.5,2398.3 836.7,2382.2 845.0,2365.9 853.3,2367.3 861.5,2369.8 869.8,2373.3 878.1,2390.3 886.3,2377.0 894.6,2361.8 902.9,2334.0 911.1,2345.4 919.4,2379.1 927.7,2380.2 935.9,2412.9 944.2,2325.4 952.5,2357.6 960.7,2350.9 969.0,2325.7 977.3,2312.2 985.5,2280.6 993.8,2307.2 1002.1,2308.5 1010.3,2308.1 1018.6,2307.4 1026.9,2323.8 1035.1,2260.7 1043.4,2311.3 1051.7,2295.8 1059.9,2313.9 1068.2,2322.8 1076.5,2253.9 1084.7,2281.6 1093.0,2276.7 1101.3,2293.1 1109.6,2252.8 1117.8,2246.4 1126.1,2251.0 1134.4,2285.7 1142.6,2246.9 1150.9,2193.4 1159.2,2246.4 1167.4,2256.1 1175.7,2247.1 1184.0,2190.4 1192.2,2145.3 1200.5,2203.3 1208.8,2211.0 1217.0,2130.9 1225.3,2140.3 1233.6,2073.0 1241.8,2084.1 1250.1,2065.8 1258.4,2344.4 1266.6,2396.8 1274.9,2442.5 1283.2,2771.6 1291.4,2556.6 1299.7,2849.7 1308.0,2398.7 1316.2,2300.7 1324.5,2110.5 1332.8,2105.2 1341.0,2055.0 1349.3,2280.2 1357.6,2067.7 1365.8,2217.2 1374.1,2258.9 1382.4,2313.7 1390.6,2161.4 1398.9,3021.7 1407.2,2239.3 1415.4,2377.2 1423.7,2057.1 1432.0,2254.1 1440.3,2178.4 1448.5,2073.9 1456.8,2172.6 1465.1,2922.9 1473.3,2056.6 1481.6,1990.9 1489.9,2040.8 1498.1,2136.7 1506.4,3021.7 1514.7,2175.9 1522.9,2423.5 1531.2,1920.8 1539.5,2288.7 1547.7,2005.9 1556.0,2045.3 1564.3,2157.9 1572.5,2152.4 1580.8,2347.7 1589.1,2059.8 1597.3,2226.5 1605.6,2117.1" fill="none" stroke="#5B9BD5" stroke-width="3.3" stroke-linejoin="round" marker-start="url(#b24)" marker-mid="url(#b24)" marker-end="url(#b24)"/>
<polyline points="233.2,2548.1 241.5,2552.2 249.7,2539.7 258.0,2544.4 266.3,2537.4 274.5,2532.6 282.8,2538.7 291.1,2544.1 299.3,2543.3 307.6,2535.6 315.9,2534.4 324.1,2534.4 332.4,2532.4 340.7,2538.5 348.9,2533.0 357.2,2533.4 365.5,2527.2 373.7,2530.2 382.0,2517.6 390.3,2517.7 398.5,2520.0 406.8,2540.3 415.1,2531.7 423.4,2534.4 431.6,2516.6 439.9,2516.6 448.2,2520.0 456.4,2517.3 464.7,2520.9 473.0,2523.8 481.2,2524.6 489.5,2525.7 497.8,2525.2 506.0,2499.3 514.3,2508.5 522.6,2502.5 530.8,2495.2 539.1,2489.7 547.4,2490.7 555.6,2483.9 563.9,2492.3 572.2,2486.2 580.4,2482.1 588.7,2493.0 597.0,2504.1 605.2,2485.6 613.5,2481.8 621.8,2471.7 630.0,2488.0 638.3,2479.8 646.6,2466.4 654.8,2466.6 663.1,2463.5 671.4,2469.4 679.6,2471.6 687.9,2450.8 696.2,2455.2 704.4,2446.2 712.7,2458.3 721.0,2447.6 729.2,2443.7 737.5,2453.5 745.8,2450.6 754.1,2379.3 762.3,2223.8 770.6,2286.8 778.9,2381.9 787.1,2398.2 795.4,2384.2 803.7,2409.0 811.9,2368.0 820.2,2364.3 828.5,2378.6 836.7,2364.7 845.0,2360.5 853.3,2383.2 861.5,2391.2 869.8,2369.6 878.1,2376.2 886.3,2338.3 894.6,2356.1 902.9,2382.1 911.1,2374.0 919.4,2348.9 927.7,2346.5 935.9,2356.9 944.2,2373.2 952.5,2358.1 960.7,2349.0 969.0,2358.5 977.3,2335.6 985.5,2345.2 993.8,2318.4 1002.1,2331.8 1010.3,2342.3 1018.6,2337.9 1026.9,2362.8 1035.1,2333.7 1043.4,2334.2 1051.7,2265.3 1059.9,2285.8 1068.2,2299.1 1076.5,2322.9 1084.7,2303.2 1093.0,2250.5 1101.3,2257.6 1109.6,2261.2 1117.8,2263.9 1126.1,2288.2 1134.4,2286.7 1142.6,2300.7 1150.9,2287.2 1159.2,2271.7 1167.4,2256.7 1175.7,2303.3 1184.0,2290.9 1192.2,2291.5 1200.5,2319.6 1208.8,2245.7 1217.0,2182.0 1225.3,2228.5 1233.6,2117.0 1241.8,2330.5 1250.1,2148.6 1258.4,2419.0 1266.6,2740.7 1274.9,2359.7 1283.2,2362.6 1291.4,2983.3 1299.7,2610.9 1308.0,2620.6 1316.2,2353.0 1324.5,2131.4 1332.8,2114.3 1341.0,2079.6 1349.3,2067.1 1357.6,2089.8 1365.8,3021.7 1374.1,3021.7 1382.4,3021.7 1390.6,2220.9 1398.9,2335.5 1407.2,3021.7 1415.4,2300.9 1423.7,2839.2 1432.0,2346.9 1440.3,2325.5 1448.5,2822.1 1456.8,1213.4 1465.1,2332.2 1473.3,2275.0 1481.6,1970.9 1489.9,2222.3 1498.1,2625.1 1506.4,2196.1 1514.7,2230.3 1522.9,3021.7 1531.2,3021.7 1539.5,2220.9 1547.7,2108.1 1556.0,1213.4 1564.3,2498.3 1572.5,2157.3 1580.8,2423.2 1589.1,1213.4 1597.3,3021.7 1605.6,1951.8" fill="none" stroke="#FFC000" stroke-width="3.3" stroke-linejoin="round" marker-start="url(#b25)" marker-mid="url(#b25)" marker-end="url(#b25)"/>
<polyline points="233.2,2521.9 241.5,2532.1 249.7,2532.3 258.0,2544.1 266.3,2539.6 274.5,2538.4 282.8,2526.6 291.1,2538.7 299.3,2533.4 307.6,2537.6 315.9,2527.3 324.1,2528.0 332.4,2539.6 340.7,2533.1 348.9,2543.2 357.2,2533.8 365.5,2540.7 373.7,2520.7 382.0,2554.9 390.3,2533.7 398.5,2560.6 406.8,2536.6 415.1,2536.6 423.4,2499.3 431.6,2509.2 439.9,2508.4 448.2,2494.8 456.4,2518.3 464.7,2509.7 473.0,2508.8 481.2,2503.7 489.5,2509.4 497.8,2483.2 506.0,2547.3 514.3,2487.3 522.6,2525.8 530.8,2475.0 539.1,2473.7 547.4,2504.2 555.6,2443.3 563.9,2454.3 572.2,2451.1 580.4,2470.9 588.7,2479.2 597.0,2450.4 605.2,2472.7 613.5,2508.1 621.8,2460.5 630.0,2447.7 638.3,2410.0 646.6,2401.1 654.8,2458.9 663.1,2471.0 671.4,2453.7 679.6,2453.1 687.9,2420.2 696.2,2444.5 704.4,2437.2 712.7,2421.1 721.0,2403.0 729.2,2437.4 737.5,2398.5 745.8,2399.2 754.1,2371.1 762.3,2253.0 770.6,2293.8 778.9,2323.3 787.1,2372.8 795.4,2321.4 803.7,2316.9 811.9,2353.1 820.2,2370.2 828.5,2371.8 836.7,2356.9 845.0,2323.0 853.3,2301.0 861.5,2298.3 869.8,2267.8 878.1,2325.2 886.3,2276.4 894.6,2296.6 902.9,2320.7 911.1,2304.7 919.4,2280.3 927.7,2293.7 935.9,2299.4 944.2,2215.6 952.5,2344.2 960.7,2266.6 969.0,2259.6 977.3,2252.2 985.5,2248.1 993.8,2243.8 1002.1,2292.5 1010.3,2203.8 1018.6,2225.6 1026.9,2231.9 1035.1,2209.5 1043.4,2250.9 1051.7,2244.5 1059.9,2227.5 1068.2,2282.9 1076.5,2258.8 1084.7,2260.9 1093.0,2292.9 1101.3,2299.3 1109.6,2267.2 1117.8,2210.0 1126.1,2193.4 1134.4,2246.2 1142.6,2366.5 1150.9,2190.1 1159.2,2339.4 1167.4,2283.1 1175.7,2320.2 1184.0,2301.3 1192.2,2307.5 1200.5,2292.4 1208.8,2390.8 1217.0,2312.3 1225.3,2195.3 1233.6,2227.8 1241.8,2164.5 1250.1,2138.8 1258.4,1869.7 1266.6,2382.8 1274.9,2439.4 1283.2,2269.6 1291.4,2722.8 1299.7,3021.7 1308.0,2649.7 1316.2,2635.1 1324.5,2040.9 1332.8,2173.3 1341.0,2077.3 1349.3,2097.3 1357.6,2248.0 1365.8,2136.8 1374.1,2355.4 1382.4,2249.6 1390.6,2490.4 1398.9,2321.6 1407.2,3021.7 1415.4,2265.2 1423.7,1979.9 1432.0,2206.1 1440.3,3021.7 1448.5,2501.2 1456.8,2665.0 1465.1,2374.6 1473.3,2230.1 1481.6,2129.3 1489.9,2539.5 1498.1,2205.3 1506.4,2560.4 1514.7,3021.7 1522.9,3021.7 1531.2,2309.3 1539.5,2119.3 1547.7,2405.6 1556.0,2390.6 1564.3,1900.8 1572.5,2055.0 1580.8,3021.7 1589.1,2316.4 1597.3,2578.6 1605.6,2283.6" fill="none" stroke="#548235" stroke-width="3.3" stroke-linejoin="round" marker-start="url(#b26)" marker-mid="url(#b26)" marker-end="url(#b26)"/>
<polyline points="233.2,2498.3 241.5,2488.0 249.7,2492.5 258.0,2476.8 266.3,2483.7 274.5,2488.3 282.8,2487.3 291.1,2486.8 299.3,2471.1 307.6,2484.2 315.9,2467.7 324.1,2473.4 332.4,2474.5 340.7,2474.8 348.9,2476.0 357.2,2466.5 365.5,2464.0 373.7,2456.0 382.0,2451.9 390.3,2461.6 398.5,2455.1 406.8,2431.2 415.1,2436.2 423.4,2447.2 431.6,2440.0 439.9,2444.4 448.2,2422.4 456.4,2440.4 464.7,2430.0 473.0,2432.8 481.2,2433.9 489.5,2426.1 497.8,2428.9 506.0,2416.1 514.3,2413.8 522.6,2411.7 530.8,2417.3 539.1,2421.7 547.4,2407.7 555.6,2415.4 563.9,2412.9 572.2,2394.2 580.4,2410.7 588.7,2402.4 597.0,2391.0 605.2,2386.8 613.5,2387.6 621.8,2386.0 630.0,2380.7 638.3,2385.2 646.6,2374.8 654.8,2370.9 663.1,2384.5 671.4,2382.8 679.6,2371.6 687.9,2363.8 696.2,2353.3 704.4,2362.5 712.7,2363.2 721.0,2380.2 729.2,2373.6 737.5,2358.4 745.8,2332.4 754.1,2295.7 762.3,2162.8 770.6,2205.6 778.9,2292.7 787.1,2264.8 795.4,2244.6 803.7,2248.8 811.9,2236.3 820.2,2220.1 828.5,2214.5 836.7,2213.9 845.0,2206.7 853.3,2216.1 861.5,2205.2 869.8,2182.4 878.1,2183.7 886.3,2183.5 894.6,2161.9 902.9,2236.9 911.1,2191.1 919.4,2184.0 927.7,2180.0 935.9,2123.3 944.2,2156.2 952.5,2193.2 960.7,2186.5 969.0,2201.4 977.3,2202.9 985.5,2136.8 993.8,2158.7 1002.1,2098.2 1010.3,2162.5 1018.6,2140.7 1026.9,2113.5 1035.1,2144.1 1043.4,2158.8 1051.7,2137.7 1059.9,2105.3 1068.2,2165.2 1076.5,2086.0 1084.7,2118.5 1093.0,2146.3 1101.3,2127.9 1109.6,2124.1 1117.8,2157.8 1126.1,2082.8 1134.4,2064.0 1142.6,2091.9 1150.9,2072.5 1159.2,2040.1 1167.4,1984.0 1175.7,2128.9 1184.0,1941.8 1192.2,2036.6 1200.5,2032.9 1208.8,2013.6 1217.0,2084.6 1225.3,2035.8 1233.6,2015.2 1241.8,2115.3 1250.1,2203.9 1258.4,2138.7 1266.6,2518.7 1274.9,2204.3 1283.2,2414.3 1291.4,2506.2 1299.7,2535.9 1308.0,2154.1 1316.2,3021.7 1324.5,2081.5 1332.8,2141.8 1341.0,1996.7 1349.3,2027.3 1357.6,2026.4 1365.8,2085.9 1374.1,1944.5 1382.4,3021.7 1390.6,2198.3 1398.9,3021.7 1407.2,2365.1 1415.4,1389.1 1423.7,2261.1 1432.0,2146.5 1440.3,2082.1 1448.5,2398.0 1456.8,3006.6 1465.1,2344.3 1473.3,2128.9 1481.6,2241.5 1489.9,1990.3 1498.1,3021.7 1506.4,2211.8 1514.7,3021.7 1522.9,2331.4 1531.2,1933.7 1539.5,2054.0 1547.7,2004.3 1556.0,2283.9 1564.3,2341.9 1572.5,1989.8 1580.8,2036.1 1589.1,2118.8 1597.3,2309.1 1605.6,3021.7" fill="none" stroke="#997300" stroke-width="3.3" stroke-linejoin="round" marker-start="url(#b27)" marker-mid="url(#b27)" marker-end="url(#b27)"/>
<polyline points="233.2,2553.1 241.5,2539.7 249.7,2536.9 258.0,2544.4 266.3,2551.1 274.5,2537.1 282.8,2530.9 291.1,2533.6 299.3,2532.3 307.6,2539.6 315.9,2531.1 324.1,2534.6 332.4,2526.7 340.7,2539.1 348.9,2527.8 357.2,2534.4 365.5,2522.6 373.7,2526.6 382.0,2534.3 390.3,2515.9 398.5,2514.0 406.8,2509.2 415.1,2500.0 423.4,2512.2 431.6,2501.6 439.9,2509.2 448.2,2501.1 456.4,2500.8 464.7,2498.4 473.0,2488.2 481.2,2486.7 489.5,2481.0 497.8,2476.4 506.0,2483.3 514.3,2473.2 522.6,2477.3 530.8,2463.4 539.1,2461.4 547.4,2457.5 555.6,2459.7 563.9,2455.5 572.2,2452.9 580.4,2442.2 588.7,2436.3 597.0,2430.0 605.2,2429.5 613.5,2442.3 621.8,2433.3 630.0,2424.1 638.3,2436.0 646.6,2415.4 654.8,2410.5 663.1,2417.5 671.4,2412.8 679.6,2398.4 687.9,2406.0 696.2,2405.9 704.4,2406.1 712.7,2397.9 721.0,2379.2 729.2,2387.7 737.5,2384.6 745.8,2356.6 754.1,2301.8 762.3,2240.2 770.6,2242.9 778.9,2286.4 787.1,2309.0 795.4,2287.5 803.7,2313.5 811.9,2321.7 820.2,2333.4 828.5,2319.1 836.7,2326.6 845.0,2320.0 853.3,2311.4 861.5,2328.2 869.8,2322.3 878.1,2328.0 886.3,2315.2 894.6,2307.8 902.9,2312.3 911.1,2317.4 919.4,2317.8 927.7,2305.4 935.9,2313.3 944.2,2296.0 952.5,2308.6 960.7,2288.2 969.0,2322.2 977.3,2289.5 985.5,2275.7 993.8,2242.8 1002.1,2299.0 1010.3,2253.2 1018.6,2293.7 1026.9,2264.5 1035.1,2301.5 1043.4,2286.0 1051.7,2254.1 1059.9,2246.0 1068.2,2269.0 1076.5,2251.5 1084.7,2233.7 1093.0,2215.5 1101.3,2252.8 1109.6,2253.7 1117.8,2273.2 1126.1,2239.6 1134.4,2222.0 1142.6,2219.4 1150.9,2241.6 1159.2,2211.0 1167.4,2189.3 1175.7,2176.4 1184.0,2248.7 1192.2,2257.0 1200.5,2212.1 1208.8,2222.3 1217.0,2163.2 1225.3,2150.9 1233.6,2162.2 1241.8,2159.6 1250.1,2050.6 1258.4,2311.5 1266.6,2414.8 1274.9,2556.0 1283.2,2377.3 1291.4,2293.8 1299.7,2533.1 1308.0,2547.2 1316.2,2394.4 1324.5,2076.6 1332.8,2161.5 1341.0,2153.8 1349.3,2145.3 1357.6,2138.8 1365.8,3021.7 1374.1,2109.9 1382.4,3021.7 1390.6,2280.1 1398.9,2167.9 1407.2,2918.9 1415.4,2154.7 1423.7,2245.7 1432.0,2269.8 1440.3,2225.3 1448.5,2198.4 1456.8,2185.0 1465.1,2104.3 1473.3,2293.5 1481.6,2279.8 1489.9,2143.6 1498.1,2202.9 1506.4,3021.7 1514.7,3021.7 1522.9,2198.8 1531.2,2161.6 1539.5,2145.1 1547.7,2145.4 1556.0,2020.6 1564.3,2219.5 1572.5,2275.9 1580.8,2381.2 1589.1,2109.6 1597.3,3021.7 1605.6,2436.5" fill="none" stroke="#327DC2" stroke-width="3.3" stroke-linejoin="round" marker-start="url(#b28)" marker-mid="url(#b28)" marker-end="url(#b28)"/>
<polyline points="233.2,2501.8 241.5,2490.4 249.7,2497.8 258.0,2486.6 266.3,2485.1 274.5,2490.9 282.8,2494.8 291.1,2479.1 299.3,2480.8 307.6,2471.3 315.9,2461.5 324.1,2463.1 332.4,2473.4 340.7,2483.3 348.9,2493.5 357.2,2476.7 365.5,2463.8 373.7,2461.3 382.0,2449.1 390.3,2465.0 398.5,2460.4 406.8,2462.9 415.1,2460.2 423.4,2447.4 431.6,2466.9 439.9,2454.1 448.2,2443.3 456.4,2417.1 464.7,2434.8 473.0,2445.0 481.2,2444.7 489.5,2421.9 497.8,2398.9 506.0,2427.4 514.3,2424.5 522.6,2434.0 530.8,2411.8 539.1,2419.2 547.4,2407.6 555.6,2415.5 563.9,2397.0 572.2,2390.5 580.4,2397.8 588.7,2396.3 597.0,2390.9 605.2,2384.5 613.5,2405.8 621.8,2394.6 630.0,2390.8 638.3,2390.0 646.6,2377.7 654.8,2379.6 663.1,2370.0 671.4,2365.5 679.6,2367.5 687.9,2374.1 696.2,2369.9 704.4,2366.8 712.7,2358.1 721.0,2333.4 729.2,2358.9 737.5,2369.9 745.8,2329.8 754.1,2284.2 762.3,2096.1 770.6,2181.1 778.9,2266.4 787.1,2292.0 795.4,2308.8 803.7,2314.1 811.9,2318.5 820.2,2313.5 828.5,2285.5 836.7,2290.3 845.0,2338.7 853.3,2334.1 861.5,2249.8 869.8,2283.3 878.1,2294.8 886.3,2294.4 894.6,2259.5 902.9,2305.5 911.1,2267.3 919.4,2335.3 927.7,2255.7 935.9,2286.3 944.2,2252.7 952.5,2297.5 960.7,2276.3 969.0,2238.0 977.3,2203.5 985.5,2304.9 993.8,2273.9 1002.1,2215.1 1010.3,2248.6 1018.6,2308.6 1026.9,2273.9 1035.1,2244.5 1043.4,2240.6 1051.7,2188.8 1059.9,2198.5 1068.2,2285.1 1076.5,2193.2 1084.7,2205.4 1093.0,2228.7 1101.3,2222.2 1109.6,2212.8 1117.8,2228.7 1126.1,2347.3 1134.4,2143.1 1142.6,2199.8 1150.9,2153.0 1159.2,2117.9 1167.4,2155.2 1175.7,2151.7 1184.0,2181.9 1192.2,2146.7 1200.5,2153.5 1208.8,2134.0 1217.0,2058.3 1225.3,2071.5 1233.6,2150.5 1241.8,2368.4 1250.1,1792.5 1258.4,2281.4 1266.6,2190.3 1274.9,2545.1 1283.2,3021.7 1291.4,2489.9 1299.7,2130.6 1308.0,2307.2 1316.2,2652.3 1324.5,2027.1 1332.8,1900.4 1341.0,2084.1 1349.3,1995.2 1357.6,2881.9 1365.8,3021.7 1374.1,1827.0 1382.4,2387.8 1390.6,3021.7 1398.9,2248.5 1407.2,3021.7 1415.4,2533.5 1423.7,2045.0 1432.0,1978.8 1440.3,3021.7 1448.5,2268.0 1456.8,2336.8 1465.1,2390.9 1473.3,2465.4 1481.6,2350.2 1489.9,1813.0 1498.1,2186.7 1506.4,3021.7 1514.7,3021.7 1522.9,2137.4 1531.2,2416.1 1539.5,2416.0 1547.7,2408.2 1556.0,1678.8 1564.3,2464.4 1572.5,2214.5 1580.8,2054.4 1589.1,1602.7 1597.3,2158.0 1605.6,2762.5" fill="none" stroke="#A9D18E" stroke-width="3.2" stroke-linejoin="round" marker-start="url(#b29)" marker-mid="url(#b29)" marker-end="url(#b29)"/>
<polyline points="233.2,2525.8 241.5,2516.6 249.7,2519.8 258.0,2528.3 266.3,2518.9 274.5,2524.1 282.8,2518.7 291.1,2513.1 299.3,2501.7 307.6,2492.4 315.9,2471.3 324.1,2482.6 332.4,2494.9 340.7,2491.1 348.9,2483.0 357.2,2478.9 365.5,2475.3 373.7,2471.2 382.0,2458.3 390.3,2459.6 398.5,2453.1 406.8,2441.7 415.1,2433.1 423.4,2429.8 431.6,2432.0 439.9,2420.9 448.2,2409.8 456.4,2411.2 464.7,2409.3 473.0,2407.8 481.2,2395.2 489.5,2385.1 497.8,2394.1 506.0,2379.0 514.3,2375.8 522.6,2369.8 530.8,2367.0 539.1,2345.6 547.4,2343.0 555.6,2350.0 563.9,2333.9 572.2,2321.3 580.4,2319.9 588.7,2307.7 597.0,2289.0 605.2,2297.2 613.5,2277.6 621.8,2276.3 630.0,2267.4 638.3,2262.7 646.6,2248.1 654.8,2236.4 663.1,2229.3 671.4,2222.1 679.6,2218.7 687.9,2208.9 696.2,2215.8 704.4,2191.0 712.7,2181.1 721.0,2179.0 729.2,2172.0 737.5,2169.4 745.8,2130.6 754.1,2066.2 762.3,2060.9 770.6,2069.8 778.9,2071.5 787.1,2056.4 795.4,2053.8 803.7,2075.8 811.9,2076.0 820.2,2081.3 828.5,2096.5 836.7,2107.2 845.0,2094.2 853.3,2092.9 861.5,2100.7 869.8,2087.2 878.1,2071.6 886.3,2074.1 894.6,2068.7 902.9,2052.4 911.1,2051.3 919.4,2051.6 927.7,2058.8 935.9,2057.7 944.2,2040.5 952.5,2021.7 960.7,2045.6 969.0,2044.7 977.3,2032.6 985.5,2032.8 993.8,1985.1 1002.1,2043.1 1010.3,2050.2 1018.6,2035.2 1026.9,2026.1 1035.1,2016.7 1043.4,2017.1 1051.7,1986.6 1059.9,1989.5 1068.2,1998.4 1076.5,2006.5 1084.7,2016.8 1093.0,2021.4 1101.3,1982.1 1109.6,1972.0 1117.8,1979.4 1126.1,2030.1 1134.4,1977.9 1142.6,2014.7 1150.9,2000.9 1159.2,1976.3 1167.4,1956.5 1175.7,1972.5 1184.0,1981.5 1192.2,1937.5 1200.5,1994.8 1208.8,1672.4 1217.0,2034.8 1225.3,1977.4 1233.6,1947.1 1241.8,1998.4 1250.1,1988.3 1258.4,2109.5 1266.6,2174.3 1274.9,2399.7 1283.2,2437.5 1291.4,2440.1 1299.7,2306.2 1308.0,2392.4 1316.2,2372.1 1324.5,2038.7 1332.8,1929.0 1341.0,2006.2 1349.3,1952.5 1357.6,3021.7 1365.8,3021.7 1374.1,1976.7 1382.4,1970.5 1390.6,2136.7 1398.9,2136.8 1407.2,2174.1 1415.4,2223.7 1423.7,2163.7 1432.0,3021.7 1440.3,2316.4 1448.5,3021.7 1456.8,2189.2 1465.1,2034.7 1473.3,2049.7 1481.6,2805.2 1489.9,2160.0 1498.1,2127.9 1506.4,2133.3 1514.7,2048.7 1522.9,2002.3 1531.2,2097.0 1539.5,3021.7 1547.7,2057.5 1556.0,2140.4 1564.3,2089.8 1572.5,2015.0 1580.8,1871.1 1589.1,3021.7 1597.3,2029.7 1605.6,2125.2" fill="none" stroke="#ADCDEA" stroke-width="3.2" stroke-linejoin="round" marker-start="url(#b30)" marker-mid="url(#b30)" marker-end="url(#b30)"/>
<polyline points="233.2,2483.4 241.5,2495.6 249.7,2474.6 258.0,2481.1 266.3,2499.9 274.5,2536.1 282.8,2501.2 291.1,2467.2 299.3,2473.1 307.6,2480.7 315.9,2499.7 324.1,2531.6 332.4,2514.5 340.7,2469.5 348.9,2469.6 357.2,2455.3 365.5,2431.9 373.7,2422.8 382.0,2406.1 390.3,2401.0 398.5,2418.5 406.8,2387.9 415.1,2389.6 423.4,2394.1 431.6,2393.2 439.9,2413.4 448.2,2386.2 456.4,2363.4 464.7,2355.0 473.0,2349.9 481.2,2365.0 489.5,2348.1 497.8,2339.2 506.0,2333.5 514.3,2357.0 522.6,2350.5 530.8,2359.5 539.1,2330.4 547.4,2341.1 555.6,2367.9 563.9,2395.2 572.2,2349.0 580.4,2348.4 588.7,2366.7 597.0,2347.1 605.2,2358.2 613.5,2378.0 621.8,2401.9 630.0,2375.2 638.3,2356.6 646.6,2353.3 654.8,2337.2 663.1,2360.8 671.4,2335.8 679.6,2368.4 687.9,2354.2 696.2,2330.0 704.4,2322.8 712.7,2351.0 721.0,2382.1 729.2,2352.4 737.5,2352.5 745.8,2387.6 754.1,2376.4 762.3,2371.5 770.6,2422.2 778.9,2410.2 787.1,2383.3 795.4,2397.1 803.7,2347.2 811.9,2363.1 820.2,2388.0 828.5,2360.7 836.7,2355.8 845.0,2392.7 853.3,2381.1 861.5,2408.3 869.8,2395.7 878.1,2385.6 886.3,2405.3 894.6,2403.7 902.9,2355.6 911.1,2339.4 919.4,2383.4 927.7,2337.0 935.9,2355.9 944.2,2345.4 952.5,2340.7 960.7,2320.6 969.0,2347.2 977.3,2365.9 985.5,2321.5 993.8,2356.5 1002.1,2327.3 1010.3,2465.3 1018.6,2364.7 1026.9,2333.6 1035.1,2363.2 1043.4,2342.2 1051.7,2303.1 1059.9,2534.8 1068.2,2284.4 1076.5,2334.1 1084.7,2277.4 1093.0,2325.7 1101.3,2305.2 1109.6,2299.6 1117.8,2323.6 1126.1,2284.6 1134.4,2301.6 1142.6,2349.4 1150.9,2275.9 1159.2,2175.5 1167.4,2377.4 1175.7,2288.9 1184.0,2282.8 1192.2,2248.4 1200.5,2347.8 1208.8,2213.7 1217.0,2119.0 1225.3,2310.1 1233.6,2102.0 1241.8,1971.7 1250.1,2300.0 1258.4,2862.4 1266.6,3021.7 1274.9,2765.3 1283.2,2976.2 1291.4,1213.4 1299.7,2459.3 1308.0,2452.9 1316.2,3021.7 1324.5,2151.9 1332.8,2149.0 1341.0,2177.8 1349.3,2167.0 1357.6,3021.7 1365.8,2261.3 1374.1,2248.9 1382.4,2517.5 1390.6,2407.6 1398.9,2287.8 1407.2,2104.5 1415.4,2000.9 1423.7,2210.9 1432.0,2212.9 1440.3,2267.7 1448.5,2064.3 1456.8,1973.1 1465.1,1213.4 1473.3,1959.3 1481.6,2379.1 1489.9,2859.6 1498.1,2150.4 1506.4,2050.9 1514.7,2518.6 1522.9,2152.9 1531.2,2046.9 1539.5,2053.6 1547.7,2244.9 1556.0,2517.2 1564.3,2400.8 1572.5,2179.1 1580.8,2218.2 1589.1,2121.7 1597.3,2301.9 1605.6,2258.2" fill="none" stroke="#FFCD33" stroke-width="3.2" stroke-linejoin="round" marker-start="url(#b31)" marker-mid="url(#b31)" marker-end="url(#b31)"/>
<polyline points="233.2,2440.1 241.5,2439.7 249.7,2446.4 258.0,2443.3 266.3,2447.5 274.5,2428.9 282.8,2446.4 291.1,2420.7 299.3,2427.0 307.6,2436.4 315.9,2428.9 324.1,2437.7 332.4,2423.1 340.7,2420.9 348.9,2414.5 357.2,2419.2 365.5,2404.4 373.7,2410.2 382.0,2413.3 390.3,2415.6 398.5,2406.0 406.8,2391.3 415.1,2385.8 423.4,2388.4 431.6,2377.9 439.9,2388.0 448.2,2380.2 456.4,2362.0 464.7,2359.3 473.0,2358.0 481.2,2339.1 489.5,2336.8 497.8,2326.2 506.0,2326.4 514.3,2307.8 522.6,2311.9 530.8,2318.9 539.1,2314.1 547.4,2299.3 555.6,2293.5 563.9,2276.6 572.2,2265.6 580.4,2266.6 588.7,2257.0 597.0,2242.1 605.2,2246.0 613.5,2258.7 621.8,2256.2 630.0,2256.4 638.3,2244.6 646.6,2232.2 654.8,2227.5 663.1,2222.3 671.4,2224.7 679.6,2218.8 687.9,2219.3 696.2,2215.5 704.4,2198.3 712.7,2214.6 721.0,2203.5 729.2,2190.6 737.5,2190.4 745.8,2214.0 754.1,2215.0 762.3,2164.9 770.6,2184.7 778.9,2278.3 787.1,2309.7 795.4,2313.6 803.7,2330.3 811.9,2315.4 820.2,2342.3 828.5,2315.1 836.7,2319.1 845.0,2336.1 853.3,2342.0 861.5,2323.3 869.8,2369.7 878.1,2354.6 886.3,2328.3 894.6,2286.9 902.9,2325.6 911.1,2321.9 919.4,2301.0 927.7,2309.3 935.9,2358.2 944.2,2303.7 952.5,2314.1 960.7,2336.6 969.0,2359.4 977.3,2249.1 985.5,2304.0 993.8,2302.4 1002.1,2256.8 1010.3,2367.9 1018.6,2315.9 1026.9,2324.9 1035.1,2280.2 1043.4,2300.9 1051.7,2283.3 1059.9,2295.9 1068.2,2260.7 1076.5,2247.3 1084.7,2300.8 1093.0,2295.9 1101.3,2277.8 1109.6,2312.0 1117.8,2330.3 1126.1,2319.6 1134.4,2319.1 1142.6,2285.8 1150.9,2243.3 1159.2,2323.1 1167.4,2313.6 1175.7,2264.7 1184.0,2253.0 1192.2,2321.4 1200.5,2327.5 1208.8,2167.3 1217.0,1769.8 1225.3,2084.8 1233.6,2209.3 1241.8,2041.1 1250.1,2078.2 1258.4,2282.8 1266.6,1213.4 1274.9,2596.1 1283.2,2523.1 1291.4,2564.8 1299.7,2927.1 1308.0,2584.9 1316.2,2487.9 1324.5,2075.8 1332.8,2098.1 1341.0,2072.3 1349.3,2089.0 1357.6,2063.6 1365.8,2224.8 1374.1,2223.8 1382.4,2539.2 1390.6,2186.6 1398.9,2064.7 1407.2,2126.3 1415.4,2370.9 1423.7,2084.9 1432.0,3021.7 1440.3,3021.7 1448.5,2153.0 1456.8,2195.8 1465.1,2453.3 1473.3,2321.8 1481.6,2045.0 1489.9,2428.4 1498.1,2298.8 1506.4,2309.9 1514.7,2122.4 1522.9,2477.4 1531.2,2139.0 1539.5,2171.2 1547.7,2342.4 1556.0,1213.4 1564.3,2310.7 1572.5,3021.7 1580.8,2224.6 1589.1,2372.9 1597.3,3021.7 1605.6,2854.7" fill="none" stroke="#FFC000" stroke-width="3.2" stroke-linejoin="round" marker-start="url(#b32)" marker-mid="url(#b32)" marker-end="url(#b32)"/>
</g>
<path d="M509.8 332.6L351.4 484M288.2 798.2L480.9 1136.5" stroke="#000" stroke-width="3.2" fill="none"/>
<circle cx="564.2" cy="326.2" r="16.4" fill="none" stroke="#43682B" stroke-width="1.3"/>
<path d="M550 1128L567.5 1158L532.3 1158Z" fill="none" stroke="#2E75B6" stroke-width="1.3"/>
<text x="184" y="56.0" font-size="50" text-anchor="end">40</text>
<text x="184" y="260.1166666666667" font-size="50" text-anchor="end">30</text>
<text x="184" y="464.23333333333335" font-size="50" text-anchor="end">20</text>
<text x="184" y="668.35" font-size="50" text-anchor="end">10</text>
<text x="184" y="872.4666666666667" font-size="50" text-anchor="end">0</text>
<text x="184" y="1076.5833333333335" font-size="50" text-anchor="end">–10</text>
<text x="184" y="1280.7" font-size="50" text-anchor="end">–20</text>
<text x="184" y="1508.1" font-size="50" text-anchor="end">90</text>
<text x="184" y="1716.75" font-size="50" text-anchor="end">60</text>
<text x="184" y="1925.3999999999999" font-size="50" text-anchor="end">30</text>
<text x="184" y="2134.05" font-size="50" text-anchor="end">0</text>
<text x="184" y="2342.7" font-size="50" text-anchor="end">–30</text>
<text x="184" y="2551.35" font-size="50" text-anchor="end">–60</text>
<text x="184" y="2760.0" font-size="50" text-anchor="end">–90</text>
<text x="234.5" y="1340" font-size="50" text-anchor="middle">100</text>
<text x="920.5" y="1340" font-size="50" text-anchor="middle">1000</text>
<text x="234.5" y="2819.5" font-size="50" text-anchor="middle">100</text>
<text x="920.5" y="2819.5" font-size="50" text-anchor="middle">1000</text>
<text x="1589" y="1336.5" font-size="50.5" text-anchor="middle">10,000</text>
<text x="1600.5" y="2815.5" font-size="50.5" text-anchor="middle">10,000</text>
<text x="918.8" y="1406" font-size="51" text-anchor="middle">Frequency ( Hz )</text>
<text x="918.8" y="2886" font-size="51" text-anchor="middle">Frequency ( Hz )</text>
<text transform="translate(79.7,655.5) rotate(-90)" font-size="50.9" text-anchor="middle">Modulus of mechanical impedance ( dB ref. 1 Ns/m )</text>
<text transform="translate(68.5,2125.5) rotate(-90)" font-size="59.8" text-anchor="middle">Phase ( degree )</text>
<text x="297.7" y="154" font-size="61" text-anchor="start" style="white-space:pre">( a )  All data, 34 ears</text>
<text x="308.8" y="1608.4" font-size="61" text-anchor="start" style="white-space:pre">( b )  All data, 34 ears</text>
<text x="618.3" y="340.8" font-size="61" text-anchor="start">is Subject <tspan font-style="italic">L</tspan></text>
<text x="586.6" y="1158.1" font-size="61" text-anchor="start">is Subject <tspan font-style="italic">S</tspan></text>
</svg>
</body></html>
